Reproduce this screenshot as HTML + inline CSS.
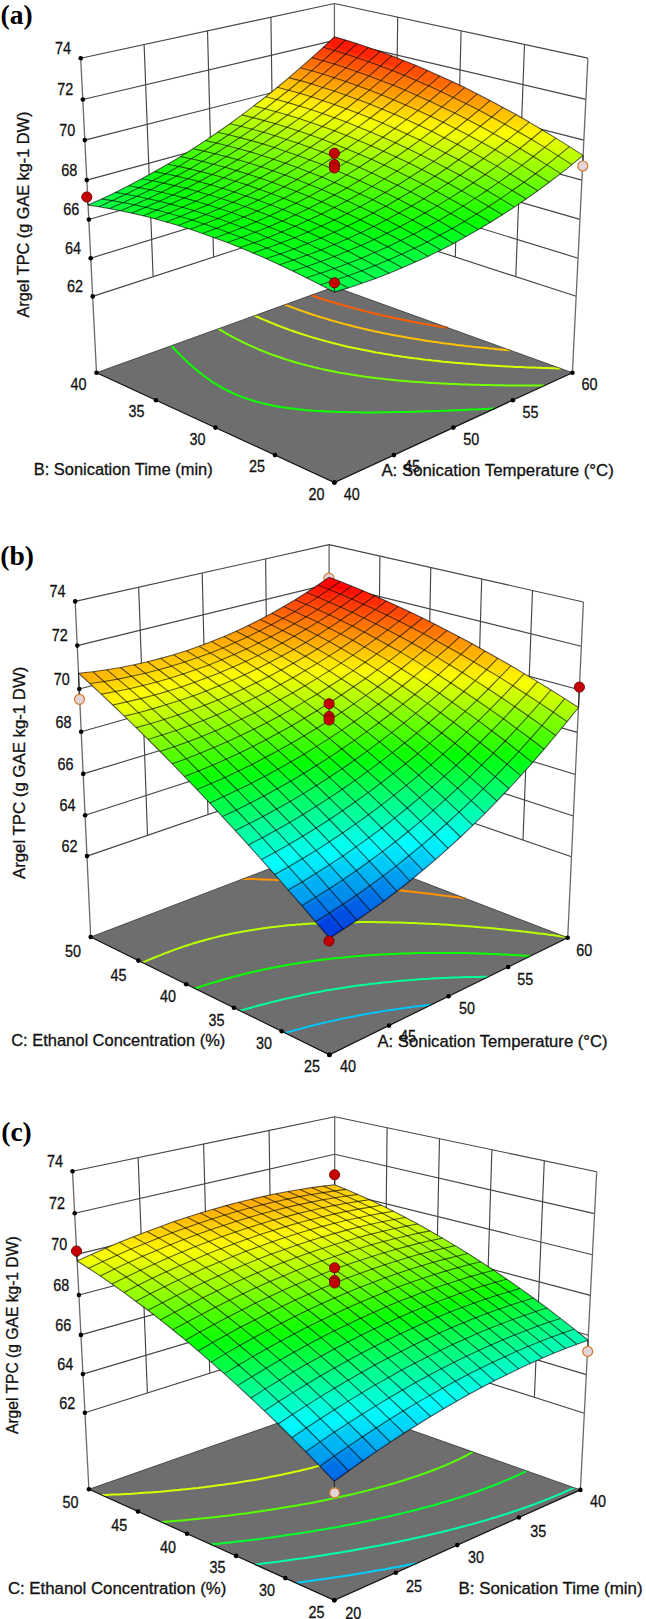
<!DOCTYPE html>
<html><head><meta charset="utf-8"><style>
html,body{margin:0;padding:0;background:#fff;}
svg{display:block;}
.w{fill:none;stroke:#454545;stroke-width:1.15;}
.ax{stroke:#6a6a6a;stroke-width:1.3;}
.floor{fill:#6e6e6e;stroke:none;}
.fe{fill:none;stroke:#111;stroke-width:1.2;}
.fb{fill:none;stroke:#333;stroke-width:0.8;}
.mesh polyline{fill:none;stroke:#000;stroke-opacity:0.62;stroke-width:1.1;stroke-linejoin:round;}
text{font-family:"Liberation Sans",sans-serif;fill:#111;}
.t{font-size:17px;stroke:#111;stroke-width:0.3px;}
.tt{font-size:16.3px;stroke:#111;stroke-width:0.3px;}
.ty{font-size:16px;stroke:#111;stroke-width:0.3px;}
.lab{font-family:"Liberation Serif",serif;font-weight:bold;font-size:27.6px;fill:#000;}
</style></head><body>
<svg width="646" height="1619" viewBox="0 0 646 1619">
<defs><filter id="sm" x="-5%" y="-5%" width="110%" height="110%"><feGaussianBlur stdDeviation="2.6"/></filter></defs>
<polyline points="92.7,296.4 334.5,217.7 576.2,296.3" class="w"/>
<polyline points="90.7,258.2 334.4,183.2 578.1,258.2" class="w"/>
<polyline points="88.8,219.5 334.4,148.3 580.0,219.4" class="w"/>
<polyline points="86.8,180.1 334.4,112.8 581.9,180.1" class="w"/>
<polyline points="84.8,140.1 334.4,76.9 583.9,140.1" class="w"/>
<polyline points="82.8,99.5 334.4,40.4 585.9,99.4" class="w"/>
<polyline points="80.7,58.2 334.4,3.5 587.9,58.1" class="w"/>
<line x1="144.1" y1="44.5" x2="153.1" y2="276.7" class="w"/>
<line x1="207.5" y1="30.8" x2="213.6" y2="257.0" class="w"/>
<line x1="270.9" y1="17.1" x2="274.0" y2="237.3" class="w"/>
<line x1="524.5" y1="44.5" x2="515.8" y2="276.7" class="w"/>
<line x1="461.1" y1="30.8" x2="455.3" y2="257.0" class="w"/>
<line x1="397.7" y1="17.1" x2="394.9" y2="237.3" class="w"/>
<line x1="80.7" y1="58.2" x2="96.5" y2="372.7" class="ax"/>
<line x1="334.4" y1="3.5" x2="334.5" y2="286.8" class="ax"/>
<line x1="587.9" y1="58.1" x2="572.4" y2="372.7" class="ax"/>
<polygon points="96.5,372.7 334.4,482.5 572.4,372.7 334.5,286.8" class="floor"/>
<polyline points="495.0,408.5 492.6,408.6 489.0,408.7 485.6,408.9 483.3,409.0 479.7,409.2 476.3,409.4 474.0,409.5 470.4,409.6 467.1,409.8 464.7,409.9 461.0,410.0 457.8,410.2 455.3,410.3 451.5,410.4 448.7,410.5 445.8,410.7 442.0,410.8 439.5,410.9 436.3,411.0 432.7,411.1 430.5,411.2 426.6,411.3 423.7,411.4 420.8,411.5 417.0,411.6 414.8,411.7 411.0,411.8 408.1,411.9 405.1,411.9 401.5,412.0 399.1,412.1 395.1,412.1 392.8,412.2 389.1,412.2 386.3,412.3 383.0,412.3 379.9,412.3 376.9,412.4 373.5,412.4 370.6,412.4 367.2,412.4 364.3,412.4 361.0,412.4 358.0,412.3 354.9,412.3 351.5,412.2 348.8,412.2 344.9,412.1 342.7,412.1 338.9,412.0 335.9,411.8 333.2,411.7 329.3,411.6 326.7,411.5 323.7,411.3 320.0,411.1 317.0,410.9 314.5,410.7 311.1,410.5 307.6,410.2 304.2,409.9 301.6,409.6 298.8,409.4 295.8,409.0 292.6,408.6 289.4,408.2 286.3,407.8 283.2,407.3 280.2,406.9 277.3,406.4 273.7,405.7 270.3,405.0 267.5,404.4 264.9,403.8 261.1,402.9 258.5,402.2 255.7,401.5 252.5,400.5 249.0,399.4 246.8,398.6 243.5,397.5 240.4,396.3 237.3,395.1 234.4,393.8 231.5,392.5 228.7,391.2 226.1,389.8 223.5,388.5 221.5,387.4 219.3,386.1 216.9,384.7 215.4,383.7 213.1,382.3 211.5,381.2 209.4,379.8 208.0,378.8 205.9,377.3 204.5,376.3 202.5,374.8 201.2,373.8 199.7,372.6 198.0,371.2 196.8,370.2 195.2,368.9 193.7,367.6 192.5,366.6 191.3,365.5 189.6,364.0 188.5,363.0 187.3,361.9 186.0,360.6 184.6,359.3 183.5,358.3 182.4,357.2 181.3,356.1 179.8,354.6 178.8,353.5 177.7,352.5 176.7,351.5 175.6,350.3 174.3,348.9 173.3,347.8 172.3,346.8 171.3,345.7 171.3,345.7" fill="none" stroke="#10ff00" stroke-width="2"/>
<polyline points="544.8,385.5 541.1,385.5 538.6,385.5 535.0,385.5 532.6,385.5 528.9,385.5 526.5,385.5 522.8,385.5 520.5,385.5 516.7,385.5 514.5,385.4 510.5,385.4 508.4,385.4 504.6,385.4 502.1,385.3 498.7,385.3 495.8,385.2 492.8,385.2 489.4,385.1 487.0,385.1 483.2,385.0 480.9,384.9 477.4,384.8 474.3,384.8 471.7,384.7 467.9,384.6 465.5,384.5 462.3,384.4 458.9,384.2 456.6,384.1 453.0,384.0 449.8,383.9 447.5,383.8 443.9,383.6 440.6,383.4 438.2,383.3 434.9,383.1 431.3,382.9 428.8,382.7 426.0,382.6 422.5,382.3 419.1,382.1 416.6,381.9 413.9,381.7 410.5,381.5 407.1,381.2 404.0,380.9 401.4,380.7 398.8,380.5 395.5,380.2 392.2,379.8 389.0,379.5 385.8,379.2 382.6,378.8 379.8,378.5 377.0,378.2 374.1,377.8 371.1,377.4 368.2,377.1 365.2,376.7 362.1,376.2 359.0,375.8 355.8,375.3 352.5,374.8 349.5,374.3 346.7,373.8 343.9,373.3 341.1,372.9 338.3,372.4 335.0,371.7 331.6,371.1 328.9,370.5 326.3,370.0 322.9,369.3 319.9,368.6 317.4,368.0 313.8,367.2 311.2,366.5 308.8,365.9 305.2,365.0 302.8,364.4 299.4,363.4 297.1,362.8 293.7,361.8 290.4,360.8 288.2,360.1 285.0,359.1 281.8,358.0 279.7,357.3 276.6,356.3 273.6,355.2 270.6,354.1 267.7,353.0 264.8,351.8 262.0,350.7 259.2,349.6 256.5,348.4 253.8,347.2 251.2,346.1 248.6,344.9 246.0,343.7 243.5,342.5 241.8,341.7 239.4,340.4 237.0,339.2 235.3,338.4 233.1,337.2 230.7,335.9 229.2,335.1 227.0,333.8 224.8,332.6 223.3,331.7 221.1,330.5 219.7,329.6 218.3,328.8" fill="none" stroke="#74ff00" stroke-width="2"/>
<polyline points="560.7,368.5 558.0,368.4 554.3,368.3 552.1,368.2 548.7,368.1 545.6,368.0 543.2,368.0 539.5,367.8 536.9,367.7 534.0,367.6 530.3,367.5 528.1,367.4 524.9,367.3 521.3,367.1 519.1,367.0 515.9,366.9 512.4,366.7 510.0,366.6 507.1,366.4 503.5,366.2 500.7,366.1 498.3,365.9 494.8,365.7 491.4,365.5 488.9,365.4 486.2,365.2 482.8,365.0 479.4,364.7 476.8,364.5 474.3,364.3 471.0,364.1 467.7,363.8 464.4,363.6 461.9,363.3 459.3,363.1 456.2,362.9 452.9,362.6 449.7,362.3 446.5,361.9 443.6,361.7 440.9,361.4 438.2,361.1 435.5,360.8 432.3,360.5 429.3,360.1 426.2,359.8 423.1,359.4 420.1,359.0 417.1,358.6 414.1,358.3 411.2,357.9 408.2,357.5 405.3,357.1 402.4,356.7 399.5,356.2 396.7,355.8 393.9,355.4 390.6,354.8 387.2,354.3 384.1,353.8 381.4,353.3 378.7,352.8 376.0,352.4 373.0,351.8 369.3,351.1 366.7,350.6 364.1,350.1 361.4,349.6 357.8,348.8 355.2,348.3 352.7,347.7 349.0,346.9 346.6,346.4 343.7,345.7 340.6,345.0 338.2,344.4 334.7,343.5 332.4,342.9 328.9,342.0 326.7,341.4 323.3,340.5 321.1,339.9 317.8,338.9 314.5,338.0 312.4,337.4 309.2,336.4 306.1,335.4 304.0,334.8 300.9,333.8 297.9,332.8 294.9,331.8 292.9,331.0 290.1,330.1 287.2,329.0 284.3,328.0 281.5,326.9 278.8,325.9 276.0,324.8 273.4,323.7 270.7,322.6 268.1,321.5 265.5,320.4 262.9,319.3 261.2,318.6 258.7,317.5 256.3,316.4 254.7,315.6" fill="none" stroke="#d8ff00" stroke-width="2"/>
<polyline points="510.1,350.2 507.6,350.0 504.4,349.7 501.1,349.4 497.9,349.2 494.8,348.9 492.2,348.6 489.6,348.4 486.8,348.1 483.7,347.8 480.6,347.5 477.5,347.2 474.4,346.9 471.3,346.5 468.3,346.2 465.3,345.9 462.5,345.5 459.7,345.2 456.8,344.9 453.9,344.5 451.0,344.1 448.1,343.7 445.1,343.4 442.1,343.0 439.0,342.5 435.9,342.1 433.1,341.7 430.3,341.3 427.5,340.9 424.7,340.4 421.9,340.0 419.2,339.6 416.4,339.1 413.1,338.6 409.7,338.0 407.0,337.6 404.4,337.1 401.8,336.6 398.8,336.1 395.3,335.4 392.7,334.9 390.1,334.4 387.1,333.8 383.8,333.2 381.4,332.7 378.8,332.1 375.2,331.4 372.8,330.8 369.8,330.2 366.8,329.5 364.5,329.0 360.9,328.1 358.6,327.6 355.2,326.7 352.9,326.2 349.5,325.3 347.3,324.7 344.0,323.9 341.8,323.3 338.5,322.4 336.2,321.7 333.2,320.9 330.0,320.0 327.9,319.3 324.8,318.4 321.7,317.5 319.1,316.7 316.7,315.9 313.7,315.0 310.8,314.0 307.9,313.0 305.8,312.3 303.1,311.4 300.3,310.4 297.5,309.4 294.8,308.4 292.0,307.4 289.4,306.4 286.7,305.4 284.9,304.7" fill="none" stroke="#ffc200" stroke-width="2"/>
<polyline points="447.9,327.7 444.6,327.2 441.4,326.7 438.8,326.3 436.1,325.9 433.5,325.4 430.8,325.0 427.3,324.4 424.3,323.8 421.7,323.4 419.2,322.9 416.2,322.4 412.8,321.7 410.3,321.3 407.9,320.8 404.3,320.1 401.7,319.5 399.3,319.0 395.8,318.3 393.2,317.8 390.9,317.3 387.3,316.5 385.0,316.0 381.9,315.3 379.2,314.6 376.8,314.1 373.5,313.3 371.2,312.7 367.9,311.9 365.7,311.4 362.4,310.5 359.9,309.9 357.0,309.1 353.7,308.3 351.6,307.7 348.5,306.8 346.0,306.1 343.3,305.3 340.2,304.4 337.6,303.7 335.2,303.0 332.2,302.0 329.2,301.1 327.0,300.5 324.4,299.6 321.5,298.7 318.6,297.7 315.8,296.8 313.0,295.9 311.2,295.2" fill="none" stroke="#ff5e00" stroke-width="2"/>
<polyline points="96.5,372.7 334.4,482.5 572.4,372.7" class="fe"/>
<polyline points="96.5,372.7 334.5,286.8 572.4,372.7" class="fb"/>
<circle cx="92.7" cy="296.4" r="2.3"/>
<circle cx="90.7" cy="258.2" r="2.3"/>
<circle cx="88.8" cy="219.5" r="2.3"/>
<circle cx="86.8" cy="180.1" r="2.3"/>
<circle cx="84.8" cy="140.1" r="2.3"/>
<circle cx="82.8" cy="99.5" r="2.3"/>
<circle cx="80.7" cy="58.2" r="2.3"/>
<circle cx="96.5" cy="372.7" r="2.3"/>
<circle cx="156.0" cy="400.2" r="2.3"/>
<circle cx="215.4" cy="427.6" r="2.3"/>
<circle cx="274.9" cy="455.1" r="2.3"/>
<circle cx="334.4" cy="482.5" r="2.3"/>
<circle cx="334.4" cy="482.5" r="2.3"/>
<circle cx="393.9" cy="455.1" r="2.3"/>
<circle cx="453.4" cy="427.6" r="2.3"/>
<circle cx="512.9" cy="400.2" r="2.3"/>
<circle cx="572.4" cy="372.7" r="2.3"/>
<line x1="582.8" y1="166.0" x2="583.1" y2="155.4" stroke="#222" stroke-width="1"/>
<circle cx="582.8" cy="166.0" r="5.0" fill="#e4d4da" stroke="#d2782a" stroke-width="1.2"/>
<clipPath id="clipa"><polygon points="334.3,292.1 348.3,287.9 362.1,283.3 375.7,278.4 389.1,273.3 402.3,267.8 415.4,262.1 428.3,256.2 441.0,249.9 453.6,243.4 466.0,236.6 478.3,229.6 490.5,222.3 502.5,214.8 514.4,207.1 526.1,199.0 537.7,190.8 549.2,182.3 560.7,173.6 571.9,164.6 583.1,155.4 569.4,146.6 555.9,138.1 542.4,130.0 529.2,122.1 516.0,114.6 503.0,107.4 490.1,100.5 477.3,93.9 464.7,87.6 452.2,81.6 439.8,75.9 427.6,70.4 415.5,65.3 403.5,60.4 391.7,55.8 380.0,51.5 368.4,47.4 356.9,43.6 345.6,40.1 334.4,36.8 323.2,47.3 311.9,57.6 300.5,67.7 289.0,77.6 277.4,87.2 265.7,96.7 253.9,105.9 241.9,114.9 229.9,123.7 217.7,132.3 205.4,140.6 193.0,148.7 180.4,156.6 167.7,164.2 154.8,171.6 141.8,178.8 128.6,185.7 115.3,192.4 101.7,198.9 88.1,205.1 98.8,206.7 109.7,208.6 120.7,210.7 131.9,213.1 143.2,215.8 154.7,218.8 166.4,222.0 178.3,225.5 190.3,229.3 202.5,233.4 214.9,237.9 227.4,242.6 240.1,247.6 253.0,253.0 266.1,258.6 279.4,264.7 292.8,271.0 306.4,277.7 320.3,284.7"/></clipPath>
<g clip-path="url(#clipa)"><g filter="url(#sm)">
<polygon points="334.4,36.8 345.5,26.0 334.4,22.9 323.3,33.7" fill="#ff0000"/>
<polygon points="323.2,47.3 334.4,36.8 323.3,33.7 312.1,44.3" fill="#ff1100"/>
<polygon points="345.6,40.1 356.7,29.4 345.5,26.0 334.4,36.8" fill="#ff0000"/>
<polygon points="311.9,57.6 323.2,47.3 312.1,44.3 300.8,54.7" fill="#ff3f00"/>
<polygon points="334.4,50.5 345.6,40.1 334.4,36.8 323.2,47.3" fill="#ff1400"/>
<polygon points="356.9,43.6 368.1,33.0 356.7,29.4 345.6,40.1" fill="#ff0000"/>
<polygon points="300.5,67.7 311.9,57.6 300.8,54.7 289.5,64.9" fill="#ff6c00"/>
<polygon points="323.1,60.7 334.4,50.5 323.2,47.3 311.9,57.6" fill="#ff4200"/>
<polygon points="345.7,54.0 356.9,43.6 345.6,40.1 334.4,50.5" fill="#ff1800"/>
<polygon points="368.4,47.4 379.5,36.9 368.1,33.0 356.9,43.6" fill="#ff0000"/>
<polygon points="289.0,77.6 300.5,67.7 289.5,64.9 278.0,74.8" fill="#ff9700"/>
<polygon points="311.7,70.8 323.1,60.7 311.9,57.6 300.5,67.7" fill="#ff6d00"/>
<polygon points="334.4,64.1 345.7,54.0 334.4,50.5 323.1,60.7" fill="#ff4500"/>
<polygon points="357.1,57.7 368.4,47.4 356.9,43.6 345.7,54.0" fill="#ff1e00"/>
<polygon points="277.4,87.2 289.0,77.6 278.0,74.8 266.4,84.6" fill="#ffc000"/>
<polygon points="380.0,51.5 391.1,41.0 379.5,36.9 368.4,47.4" fill="#ff0000"/>
<polygon points="300.2,80.6 311.7,70.8 300.5,67.7 289.0,77.6" fill="#ff9800"/>
<polygon points="322.9,74.1 334.4,64.1 323.1,60.7 311.7,70.8" fill="#ff7000"/>
<polygon points="345.8,67.8 357.1,57.7 345.7,54.0 334.4,64.1" fill="#ff4a00"/>
<polygon points="265.7,96.7 277.4,87.2 266.4,84.6 254.7,94.1" fill="#ffe800"/>
<polygon points="368.7,61.7 380.0,51.5 368.4,47.4 357.1,57.7" fill="#ff2400"/>
<polygon points="288.5,90.2 300.2,80.6 289.0,77.6 277.4,87.2" fill="#ffc000"/>
<polygon points="391.7,55.8 402.8,45.4 391.1,41.0 380.0,51.5" fill="#ff0000"/>
<polygon points="311.4,83.8 322.9,74.1 311.7,70.8 300.2,80.6" fill="#ff9900"/>
<polygon points="334.4,77.7 345.8,67.8 334.4,64.1 322.9,74.1" fill="#ff7400"/>
<polygon points="253.9,105.9 265.7,96.7 254.7,94.1 242.9,103.4" fill="#f1ff00"/>
<polygon points="357.4,71.7 368.7,61.7 357.1,57.7 345.8,67.8" fill="#ff5000"/>
<polygon points="276.8,99.5 288.5,90.2 277.4,87.2 265.7,96.7" fill="#ffe600"/>
<polygon points="380.4,66.0 391.7,55.8 380.0,51.5 368.7,61.7" fill="#ff2d00"/>
<polygon points="299.8,93.3 311.4,83.8 300.2,80.6 288.5,90.2" fill="#ffc100"/>
<polygon points="403.5,60.4 414.7,50.1 402.8,45.4 391.7,55.8" fill="#ff0b00"/>
<polygon points="322.8,87.4 334.4,77.7 322.9,74.1 311.4,83.8" fill="#ff9c00"/>
<polygon points="241.9,114.9 253.9,105.9 242.9,103.4 231.0,112.5" fill="#cdff00"/>
<polygon points="345.9,81.5 357.4,71.7 345.8,67.8 334.4,77.7" fill="#ff7900"/>
<polygon points="265.0,108.7 276.8,99.5 265.7,96.7 253.9,105.9" fill="#f3ff00"/>
<polygon points="369.1,75.9 380.4,66.0 368.7,61.7 357.4,71.7" fill="#ff5700"/>
<polygon points="288.0,102.6 299.8,93.3 288.5,90.2 276.8,99.5" fill="#ffe600"/>
<polygon points="392.3,70.5 403.5,60.4 391.7,55.8 380.4,66.0" fill="#ff3600"/>
<polygon points="415.5,65.3 426.7,55.0 414.7,50.1 403.5,60.4" fill="#ff1600"/>
<polygon points="311.2,96.8 322.8,87.4 311.4,83.8 299.8,93.3" fill="#ffc300"/>
<polygon points="229.9,123.7 241.9,114.9 231.0,112.5 219.0,121.3" fill="#abff00"/>
<polygon points="334.4,91.1 345.9,81.5 334.4,77.7 322.8,87.4" fill="#ffa100"/>
<polygon points="253.0,117.6 265.0,108.7 253.9,105.9 241.9,114.9" fill="#d0ff00"/>
<polygon points="357.6,85.7 369.1,75.9 357.4,71.7 345.9,81.5" fill="#ff7f00"/>
<polygon points="380.9,80.4 392.3,70.5 380.4,66.0 369.1,75.9" fill="#ff5f00"/>
<polygon points="276.2,111.7 288.0,102.6 276.8,99.5 265.0,108.7" fill="#f4ff00"/>
<polygon points="404.2,75.3 415.5,65.3 403.5,60.4 392.3,70.5" fill="#ff4100"/>
<polygon points="299.4,106.0 311.2,96.8 299.8,93.3 288.0,102.6" fill="#ffe800"/>
<polygon points="427.6,70.4 438.8,60.2 426.7,55.0 415.5,65.3" fill="#ff2300"/>
<polygon points="322.7,100.5 334.4,91.1 322.8,87.4 311.2,96.8" fill="#ffc600"/>
<polygon points="217.7,132.3 229.9,123.7 219.0,121.3 206.8,130.0" fill="#8bff00"/>
<polygon points="346.0,95.2 357.6,85.7 345.9,81.5 334.4,91.1" fill="#ffa600"/>
<polygon points="240.9,126.3 253.0,117.6 241.9,114.9 229.9,123.7" fill="#afff00"/>
<polygon points="369.4,90.1 380.9,80.4 369.1,75.9 357.6,85.7" fill="#ff8700"/>
<polygon points="264.2,120.6 276.2,111.7 265.0,108.7 253.0,117.6" fill="#d2ff00"/>
<polygon points="392.9,85.1 404.2,75.3 392.3,70.5 380.9,80.4" fill="#ff6900"/>
<polygon points="287.5,115.0 299.4,106.0 288.0,102.6 276.2,111.7" fill="#f3ff00"/>
<polygon points="416.3,80.4 427.6,70.4 415.5,65.3 404.2,75.3" fill="#ff4d00"/>
<polygon points="310.9,109.6 322.7,100.5 311.2,96.8 299.4,106.0" fill="#ffea00"/>
<polygon points="205.4,140.6 217.7,132.3 206.8,130.0 194.6,138.4" fill="#6cff00"/>
<polygon points="439.8,75.9 451.0,65.7 438.8,60.2 427.6,70.4" fill="#ff3100"/>
<polygon points="334.4,104.5 346.0,95.2 334.4,91.1 322.7,100.5" fill="#ffcb00"/>
<polygon points="228.7,134.8 240.9,126.3 229.9,123.7 217.7,132.3" fill="#8fff00"/>
<polygon points="357.8,99.5 369.4,90.1 357.6,85.7 346.0,95.2" fill="#ffad00"/>
<polygon points="252.1,129.2 264.2,120.6 253.0,117.6 240.9,126.3" fill="#b1ff00"/>
<polygon points="381.4,94.7 392.9,85.1 380.9,80.4 369.4,90.1" fill="#ff9000"/>
<polygon points="275.5,123.8 287.5,115.0 276.2,111.7 264.2,120.6" fill="#d2ff00"/>
<polygon points="404.9,90.1 416.3,80.4 404.2,75.3 392.9,85.1" fill="#ff7400"/>
<polygon points="299.0,118.6 310.9,109.6 299.4,106.0 287.5,115.0" fill="#f1ff00"/>
<polygon points="428.6,85.8 439.8,75.9 427.6,70.4 416.3,80.4" fill="#ff5a00"/>
<polygon points="193.0,148.7 205.4,140.6 194.6,138.4 182.1,146.6" fill="#50ff00"/>
<polygon points="322.6,113.5 334.4,104.5 322.7,100.5 310.9,109.6" fill="#ffee00"/>
<polygon points="452.2,81.6 463.4,71.5 451.0,65.7 439.8,75.9" fill="#ff4100"/>
<polygon points="216.4,143.0 228.7,134.8 217.7,132.3 205.4,140.6" fill="#72ff00"/>
<polygon points="346.2,108.7 357.8,99.5 346.0,95.2 334.4,104.5" fill="#ffd100"/>
<polygon points="239.9,137.6 252.1,129.2 240.9,126.3 228.7,134.8" fill="#93ff00"/>
<polygon points="369.8,104.1 381.4,94.7 369.4,90.1 357.8,99.5" fill="#ffb500"/>
<polygon points="263.4,132.3 275.5,123.8 264.2,120.6 252.1,129.2" fill="#b3ff00"/>
<polygon points="393.5,99.7 404.9,90.1 392.9,85.1 381.4,94.7" fill="#ff9a00"/>
<polygon points="417.2,95.4 428.6,85.8 416.3,80.4 404.9,90.1" fill="#ff8100"/>
<polygon points="287.0,127.2 299.0,118.6 287.5,115.0 275.5,123.8" fill="#d1ff00"/>
<polygon points="180.4,156.6 193.0,148.7 182.1,146.6 169.6,154.5" fill="#35ff00"/>
<polygon points="440.9,91.4 452.2,81.6 439.8,75.9 428.6,85.8" fill="#ff6800"/>
<polygon points="310.7,122.4 322.6,113.5 310.9,109.6 299.0,118.6" fill="#eeff00"/>
<polygon points="464.7,87.6 475.9,77.6 463.4,71.5 452.2,81.6" fill="#ff5100"/>
<polygon points="203.9,151.1 216.4,143.0 205.4,140.6 193.0,148.7" fill="#56ff00"/>
<polygon points="334.4,117.7 346.2,108.7 334.4,104.5 322.6,113.5" fill="#fff300"/>
<polygon points="227.5,145.7 239.9,137.6 228.7,134.8 216.4,143.0" fill="#76ff00"/>
<polygon points="358.1,113.2 369.8,104.1 357.8,99.5 346.2,108.7" fill="#ffd800"/>
<polygon points="381.9,109.0 393.5,99.7 381.4,94.7 369.8,104.1" fill="#ffbf00"/>
<polygon points="251.2,140.6 263.4,132.3 252.1,129.2 239.9,137.6" fill="#95ff00"/>
<polygon points="405.7,104.9 417.2,95.4 404.9,90.1 393.5,99.7" fill="#ffa600"/>
<polygon points="274.9,135.7 287.0,127.2 275.5,123.8 263.4,132.3" fill="#b3ff00"/>
<polygon points="429.5,101.0 440.9,91.4 428.6,85.8 417.2,95.4" fill="#ff8e00"/>
<polygon points="167.7,164.2 180.4,156.6 169.6,154.5 156.9,162.3" fill="#1cff00"/>
<polygon points="298.6,131.0 310.7,122.4 299.0,118.6 287.0,127.2" fill="#cfff00"/>
<polygon points="453.4,97.4 464.7,87.6 452.2,81.6 440.9,91.4" fill="#ff7800"/>
<polygon points="191.3,158.8 203.9,151.1 193.0,148.7 180.4,156.6" fill="#3cff00"/>
<polygon points="322.4,126.5 334.4,117.7 322.6,113.5 310.7,122.4" fill="#eaff00"/>
<polygon points="477.3,93.9 488.5,84.0 475.9,77.6 464.7,87.6" fill="#ff6300"/>
<polygon points="346.3,122.1 358.1,113.2 346.2,108.7 334.4,117.7" fill="#fffa00"/>
<polygon points="215.0,153.7 227.5,145.7 216.4,143.0 203.9,151.1" fill="#5bff00"/>
<polygon points="370.2,118.0 381.9,109.0 369.8,104.1 358.1,113.2" fill="#ffe100"/>
<polygon points="238.8,148.7 251.2,140.6 239.9,137.6 227.5,145.7" fill="#79ff00"/>
<polygon points="394.1,114.1 405.7,104.9 393.5,99.7 381.9,109.0" fill="#ffc900"/>
<polygon points="262.6,143.9 274.9,135.7 263.4,132.3 251.2,140.6" fill="#96ff00"/>
<polygon points="418.0,110.4 429.5,101.0 417.2,95.4 405.7,104.9" fill="#ffb300"/>
<polygon points="286.5,139.4 298.6,131.0 287.0,127.2 274.9,135.7" fill="#b1ff00"/>
<polygon points="154.8,171.6 167.7,164.2 156.9,162.3 144.1,169.8" fill="#05ff00"/>
<polygon points="442.0,106.9 453.4,97.4 440.9,91.4 429.5,101.0" fill="#ff9d00"/>
<polygon points="466.0,103.6 477.3,93.9 464.7,87.6 453.4,97.4" fill="#ff8900"/>
<polygon points="310.4,135.0 322.4,126.5 310.7,122.4 298.6,131.0" fill="#cbff00"/>
<polygon points="178.6,166.4 191.3,158.8 180.4,156.6 167.7,164.2" fill="#24ff00"/>
<polygon points="490.1,100.5 501.3,90.6 488.5,84.0 477.3,93.9" fill="#ff7600"/>
<polygon points="334.4,130.8 346.3,122.1 334.4,117.7 322.4,126.5" fill="#e5ff00"/>
<polygon points="202.4,161.4 215.0,153.7 203.9,151.1 191.3,158.8" fill="#42ff00"/>
<polygon points="358.3,126.9 370.2,118.0 358.1,113.2 346.3,122.1" fill="#fcff00"/>
<polygon points="226.3,156.6 238.8,148.7 227.5,145.7 215.0,153.7" fill="#5fff00"/>
<polygon points="382.4,123.1 394.1,114.1 381.9,109.0 370.2,118.0" fill="#ffeb00"/>
<polygon points="250.2,151.9 262.6,143.9 251.2,140.6 238.8,148.7" fill="#7bff00"/>
<polygon points="406.4,119.6 418.0,110.4 405.7,104.9 394.1,114.1" fill="#ffd500"/>
<polygon points="430.5,116.2 442.0,106.9 429.5,101.0 418.0,110.4" fill="#ffc100"/>
<polygon points="274.2,147.5 286.5,139.4 274.9,135.7 262.6,143.9" fill="#95ff00"/>
<polygon points="141.8,178.8 154.8,171.6 144.1,169.8 131.1,177.0" fill="#00ff11"/>
<polygon points="454.7,113.1 466.0,103.6 453.4,97.4 442.0,106.9" fill="#ffae00"/>
<polygon points="298.2,143.3 310.4,135.0 298.6,131.0 286.5,139.4" fill="#afff00"/>
<polygon points="478.8,110.1 490.1,100.5 477.3,93.9 466.0,103.6" fill="#ff9c00"/>
<polygon points="165.7,173.7 178.6,166.4 167.7,164.2 154.8,171.6" fill="#0eff00"/>
<polygon points="503.0,107.4 514.1,97.6 501.3,90.6 490.1,100.5" fill="#ff8b00"/>
<polygon points="322.3,139.3 334.4,130.8 322.4,126.5 310.4,135.0" fill="#c7ff00"/>
<polygon points="189.6,168.9 202.4,161.4 191.3,158.8 178.6,166.4" fill="#2bff00"/>
<polygon points="346.4,135.5 358.3,126.9 346.3,122.1 334.4,130.8" fill="#deff00"/>
<polygon points="370.6,131.9 382.4,123.1 370.2,118.0 358.3,126.9" fill="#f3ff00"/>
<polygon points="213.6,164.2 226.3,156.6 215.0,153.7 202.4,161.4" fill="#47ff00"/>
<polygon points="394.7,128.5 406.4,119.6 394.1,114.1 382.4,123.1" fill="#fff600"/>
<polygon points="237.7,159.7 250.2,151.9 238.8,148.7 226.3,156.6" fill="#62ff00"/>
<polygon points="418.9,125.3 430.5,116.2 418.0,110.4 406.4,119.6" fill="#ffe300"/>
<polygon points="261.8,155.4 274.2,147.5 262.6,143.9 250.2,151.9" fill="#7bff00"/>
<polygon points="443.2,122.3 454.7,113.1 442.0,106.9 430.5,116.2" fill="#ffd000"/>
<polygon points="128.6,185.7 141.8,178.8 131.1,177.0 117.9,184.1" fill="#00ff24"/>
<polygon points="467.4,119.5 478.8,110.1 466.0,103.6 454.7,113.1" fill="#ffbf00"/>
<polygon points="285.9,151.4 298.2,143.3 286.5,139.4 274.2,147.5" fill="#93ff00"/>
<polygon points="491.7,117.0 503.0,107.4 490.1,100.5 478.8,110.1" fill="#ffaf00"/>
<polygon points="152.6,180.8 165.7,173.7 154.8,171.6 141.8,178.8" fill="#00ff07"/>
<polygon points="310.1,147.5 322.3,139.3 310.4,135.0 298.2,143.3" fill="#abff00"/>
<polygon points="516.0,114.6 527.2,104.9 514.1,97.6 503.0,107.4" fill="#ffa100"/>
<polygon points="334.4,143.9 346.4,135.5 334.4,130.8 322.3,139.3" fill="#c1ff00"/>
<polygon points="176.7,176.1 189.6,168.9 178.6,166.4 165.7,173.7" fill="#15ff00"/>
<polygon points="358.6,140.4 370.6,131.9 358.3,126.9 346.4,135.5" fill="#d6ff00"/>
<polygon points="200.8,171.6 213.6,164.2 202.4,161.4 189.6,168.9" fill="#30ff00"/>
<polygon points="382.9,137.2 394.7,128.5 382.4,123.1 370.6,131.9" fill="#e9ff00"/>
<polygon points="225.0,167.2 237.7,159.7 226.3,156.6 213.6,164.2" fill="#4aff00"/>
<polygon points="407.2,134.2 418.9,125.3 406.4,119.6 394.7,128.5" fill="#fcff00"/>
<polygon points="431.6,131.3 443.2,122.3 430.5,116.2 418.9,125.3" fill="#fff100"/>
<polygon points="249.2,163.1 261.8,155.4 250.2,151.9 237.7,159.7" fill="#63ff00"/>
<polygon points="455.9,128.7 467.4,119.5 454.7,113.1 443.2,122.3" fill="#ffe100"/>
<polygon points="115.3,192.4 128.6,185.7 117.9,184.1 104.6,190.8" fill="#00ff36"/>
<polygon points="273.5,159.2 285.9,151.4 274.2,147.5 261.8,155.4" fill="#7aff00"/>
<polygon points="480.3,126.3 491.7,117.0 478.8,110.1 467.4,119.5" fill="#ffd200"/>
<polygon points="504.7,124.1 516.0,114.6 503.0,107.4 491.7,117.0" fill="#ffc400"/>
<polygon points="297.8,155.5 310.1,147.5 298.2,143.3 285.9,151.4" fill="#90ff00"/>
<polygon points="139.4,187.6 152.6,180.8 141.8,178.8 128.6,185.7" fill="#00ff1a"/>
<polygon points="529.2,122.1 540.3,112.5 527.2,104.9 516.0,114.6" fill="#ffb800"/>
<polygon points="322.2,152.0 334.4,143.9 322.3,139.3 310.1,147.5" fill="#a5ff00"/>
<polygon points="163.6,183.1 176.7,176.1 165.7,173.7 152.6,180.8" fill="#02ff00"/>
<polygon points="346.5,148.7 358.6,140.4 346.4,135.5 334.4,143.9" fill="#b9ff00"/>
<polygon points="187.9,178.7 200.8,171.6 189.6,168.9 176.7,176.1" fill="#1cff00"/>
<polygon points="371.0,145.7 382.9,137.2 370.6,131.9 358.6,140.4" fill="#ccff00"/>
<polygon points="395.4,142.8 407.2,134.2 394.7,128.5 382.9,137.2" fill="#deff00"/>
<polygon points="212.2,174.5 225.0,167.2 213.6,164.2 200.8,171.6" fill="#35ff00"/>
<polygon points="419.9,140.1 431.6,131.3 418.9,125.3 407.2,134.2" fill="#eeff00"/>
<polygon points="236.5,170.6 249.2,163.1 237.7,159.7 225.0,167.2" fill="#4cff00"/>
<polygon points="444.3,137.7 455.9,128.7 443.2,122.3 431.6,131.3" fill="#fdff00"/>
<polygon points="468.9,135.4 480.3,126.3 467.4,119.5 455.9,128.7" fill="#fff300"/>
<polygon points="260.9,166.8 273.5,159.2 261.8,155.4 249.2,163.1" fill="#63ff00"/>
<polygon points="101.7,198.9 115.3,192.4 104.6,190.8 91.2,197.4" fill="#00ff46"/>
<polygon points="493.4,133.4 504.7,124.1 491.7,117.0 480.3,126.3" fill="#ffe600"/>
<polygon points="517.9,131.6 529.2,122.1 516.0,114.6 504.7,124.1" fill="#ffdb00"/>
<polygon points="285.4,163.3 297.8,155.5 285.9,151.4 273.5,159.2" fill="#78ff00"/>
<polygon points="542.4,130.0 553.6,120.4 540.3,112.5 529.2,122.1" fill="#ffd000"/>
<polygon points="126.0,194.2 139.4,187.6 128.6,185.7 115.3,192.4" fill="#00ff2b"/>
<polygon points="309.8,159.9 322.2,152.0 310.1,147.5 297.8,155.5" fill="#8cff00"/>
<polygon points="150.4,189.8 163.6,183.1 152.6,180.8 139.4,187.6" fill="#00ff10"/>
<polygon points="334.3,156.8 346.5,148.7 334.4,143.9 322.2,152.0" fill="#9fff00"/>
<polygon points="358.9,153.9 371.0,145.7 358.6,140.4 346.5,148.7" fill="#b1ff00"/>
<polygon points="174.8,185.6 187.9,178.7 176.7,176.1 163.6,183.1" fill="#09ff00"/>
<polygon points="383.4,151.2 395.4,142.8 382.9,137.2 371.0,145.7" fill="#c1ff00"/>
<polygon points="199.2,181.6 212.2,174.5 200.8,171.6 187.9,178.7" fill="#21ff00"/>
<polygon points="408.0,148.7 419.9,140.1 407.2,134.2 395.4,142.8" fill="#d1ff00"/>
<polygon points="432.6,146.4 444.3,137.7 431.6,131.3 419.9,140.1" fill="#dfff00"/>
<polygon points="223.7,177.8 236.5,170.6 225.0,167.2 212.2,174.5" fill="#37ff00"/>
<polygon points="457.3,144.3 468.9,135.4 455.9,128.7 444.3,137.7" fill="#ecff00"/>
<polygon points="481.9,142.4 493.4,133.4 480.3,126.3 468.9,135.4" fill="#f8ff00"/>
<polygon points="248.2,174.2 260.9,166.8 249.2,163.1 236.5,170.6" fill="#4dff00"/>
<polygon points="506.6,140.8 517.9,131.6 504.7,124.1 493.4,133.4" fill="#fffc00"/>
<polygon points="88.1,205.1 101.7,198.9 91.2,197.4 77.5,203.7" fill="#00ff54"/>
<polygon points="531.2,139.3 542.4,130.0 529.2,122.1 517.9,131.6" fill="#fff200"/>
<polygon points="272.8,170.8 285.4,163.3 273.5,159.2 260.9,166.8" fill="#61ff00"/>
<polygon points="555.9,138.1 567.0,128.6 553.6,120.4 542.4,130.0" fill="#ffea00"/>
<polygon points="112.5,200.6 126.0,194.2 115.3,192.4 101.7,198.9" fill="#00ff3a"/>
<polygon points="297.4,167.6 309.8,159.9 297.8,155.5 285.4,163.3" fill="#74ff00"/>
<polygon points="322.0,164.6 334.3,156.8 322.2,152.0 309.8,159.9" fill="#86ff00"/>
<polygon points="137.0,196.3 150.4,189.8 139.4,187.6 126.0,194.2" fill="#00ff20"/>
<polygon points="346.7,161.9 358.9,153.9 346.5,148.7 334.3,156.8" fill="#97ff00"/>
<polygon points="161.5,192.3 174.8,185.6 163.6,183.1 150.4,189.8" fill="#00ff08"/>
<polygon points="371.4,159.3 383.4,151.2 371.0,145.7 358.9,153.9" fill="#a7ff00"/>
<polygon points="396.1,157.0 408.0,148.7 395.4,142.8 383.4,151.2" fill="#b5ff00"/>
<polygon points="186.1,188.4 199.2,181.6 187.9,178.7 174.8,185.6" fill="#0fff00"/>
<polygon points="420.8,154.9 432.6,146.4 419.9,140.1 408.0,148.7" fill="#c3ff00"/>
<polygon points="445.6,153.0 457.3,144.3 444.3,137.7 432.6,146.4" fill="#cfff00"/>
<polygon points="210.7,184.7 223.7,177.8 212.2,174.5 199.2,181.6" fill="#24ff00"/>
<polygon points="470.3,151.3 481.9,142.4 468.9,135.4 457.3,144.3" fill="#daff00"/>
<polygon points="495.1,149.8 506.6,140.8 493.4,133.4 481.9,142.4" fill="#e3ff00"/>
<polygon points="235.4,181.3 248.2,174.2 236.5,170.6 223.7,177.8" fill="#39ff00"/>
<polygon points="519.9,148.5 531.2,139.3 517.9,131.6 506.6,140.8" fill="#ecff00"/>
<polygon points="544.7,147.4 555.9,138.1 542.4,130.0 531.2,139.3" fill="#f3ff00"/>
<polygon points="74.2,211.0 88.1,205.1 77.5,203.7 63.7,209.8" fill="#00ff61"/>
<polygon points="260.1,178.1 272.8,170.8 260.9,166.8 248.2,174.2" fill="#4cff00"/>
<polygon points="569.4,146.6 580.5,137.1 567.0,128.6 555.9,138.1" fill="#f9ff00"/>
<polygon points="284.8,175.0 297.4,167.6 285.4,163.3 272.8,170.8" fill="#5fff00"/>
<polygon points="98.8,206.7 112.5,200.6 101.7,198.9 88.1,205.1" fill="#00ff47"/>
<polygon points="309.5,172.2 322.0,164.6 309.8,159.9 297.4,167.6" fill="#70ff00"/>
<polygon points="123.4,202.6 137.0,196.3 126.0,194.2 112.5,200.6" fill="#00ff2f"/>
<polygon points="334.3,169.6 346.7,161.9 334.3,156.8 322.0,164.6" fill="#80ff00"/>
<polygon points="359.2,167.2 371.4,159.3 358.9,153.9 346.7,161.9" fill="#8eff00"/>
<polygon points="148.1,198.7 161.5,192.3 150.4,189.8 137.0,196.3" fill="#00ff18"/>
<polygon points="384.0,165.1 396.1,157.0 383.4,151.2 371.4,159.3" fill="#9cff00"/>
<polygon points="408.9,163.1 420.8,154.9 408.0,148.7 396.1,157.0" fill="#a8ff00"/>
<polygon points="172.8,195.0 186.1,188.4 174.8,185.6 161.5,192.3" fill="#00ff02"/>
<polygon points="433.7,161.4 445.6,153.0 432.6,146.4 420.8,154.9" fill="#b3ff00"/>
<polygon points="458.6,159.8 470.3,151.3 457.3,144.3 445.6,153.0" fill="#bdff00"/>
<polygon points="197.5,191.5 210.7,184.7 199.2,181.6 186.1,188.4" fill="#13ff00"/>
<polygon points="483.5,158.5 495.1,149.8 481.9,142.4 470.3,151.3" fill="#c6ff00"/>
<polygon points="508.4,157.4 519.9,148.5 506.6,140.8 495.1,149.8" fill="#cdff00"/>
<polygon points="222.3,188.2 235.4,181.3 223.7,177.8 210.7,184.7" fill="#27ff00"/>
<polygon points="533.3,156.5 544.7,147.4 531.2,139.3 519.9,148.5" fill="#d4ff00"/>
<polygon points="558.2,155.9 569.4,146.6 555.9,138.1 544.7,147.4" fill="#d9ff00"/>
<polygon points="583.1,155.4 594.2,146.0 580.5,137.1 569.4,146.6" fill="#ddff00"/>
<polygon points="247.2,185.1 260.1,178.1 248.2,174.2 235.4,181.3" fill="#39ff00"/>
<polygon points="272.0,182.2 284.8,175.0 272.8,170.8 260.1,178.1" fill="#4bff00"/>
<polygon points="84.9,212.5 98.8,206.7 88.1,205.1 74.2,211.0" fill="#00ff53"/>
<polygon points="296.9,179.6 309.5,172.2 297.4,167.6 284.8,175.0" fill="#5bff00"/>
<polygon points="321.9,177.1 334.3,169.6 322.0,164.6 309.5,172.2" fill="#6aff00"/>
<polygon points="109.7,208.6 123.4,202.6 112.5,200.6 98.8,206.7" fill="#00ff3b"/>
<polygon points="346.8,174.9 359.2,167.2 346.7,161.9 334.3,169.6" fill="#77ff00"/>
<polygon points="371.8,172.9 384.0,165.1 371.4,159.3 359.2,167.2" fill="#84ff00"/>
<polygon points="134.5,204.8 148.1,198.7 137.0,196.3 123.4,202.6" fill="#00ff25"/>
<polygon points="396.8,171.1 408.9,163.1 396.1,157.0 384.0,165.1" fill="#8fff00"/>
<polygon points="421.8,169.5 433.7,161.4 420.8,154.9 408.9,163.1" fill="#99ff00"/>
<polygon points="159.3,201.3 172.8,195.0 161.5,192.3 148.1,198.7" fill="#00ff10"/>
<polygon points="446.8,168.2 458.6,159.8 445.6,153.0 433.7,161.4" fill="#a2ff00"/>
<polygon points="471.8,167.0 483.5,158.5 470.3,151.3 458.6,159.8" fill="#aaff00"/>
<polygon points="184.2,197.9 197.5,191.5 186.1,188.4 172.8,195.0" fill="#04ff00"/>
<polygon points="496.9,166.1 508.4,157.4 495.1,149.8 483.5,158.5" fill="#b1ff00"/>
<polygon points="521.9,165.4 533.3,156.5 519.9,148.5 508.4,157.4" fill="#b6ff00"/>
<polygon points="546.9,164.9 558.2,155.9 544.7,147.4 533.3,156.5" fill="#bbff00"/>
<polygon points="571.9,164.6 583.1,155.4 569.4,146.6 558.2,155.9" fill="#beff00"/>
<polygon points="597.0,164.5 608.0,155.2 594.2,146.0 583.1,155.4" fill="#bfff00"/>
<polygon points="209.2,194.8 222.3,188.2 210.7,184.7 197.5,191.5" fill="#17ff00"/>
<polygon points="234.1,191.9 247.2,185.1 235.4,181.3 222.3,188.2" fill="#28ff00"/>
<polygon points="259.1,189.2 272.0,182.2 260.1,178.1 247.2,185.1" fill="#38ff00"/>
<polygon points="284.2,186.7 296.9,179.6 284.8,175.0 272.0,182.2" fill="#48ff00"/>
<polygon points="309.2,184.4 321.9,177.1 309.5,172.2 296.9,179.6" fill="#56ff00"/>
<polygon points="334.3,182.4 346.8,174.9 334.3,169.6 321.9,177.1" fill="#62ff00"/>
<polygon points="95.7,214.3 109.7,208.6 98.8,206.7 84.9,212.5" fill="#00ff46"/>
<polygon points="359.4,180.5 371.8,172.9 359.2,167.2 346.8,174.9" fill="#6eff00"/>
<polygon points="384.6,178.9 396.8,171.1 384.0,165.1 371.8,172.9" fill="#78ff00"/>
<polygon points="120.7,210.7 134.5,204.8 123.4,202.6 109.7,208.6" fill="#00ff31"/>
<polygon points="409.7,177.5 421.8,169.5 408.9,163.1 396.8,171.1" fill="#82ff00"/>
<polygon points="434.9,176.3 446.8,168.2 433.7,161.4 421.8,169.5" fill="#8aff00"/>
<polygon points="145.7,207.3 159.3,201.3 148.1,198.7 134.5,204.8" fill="#00ff1d"/>
<polygon points="460.0,175.3 471.8,167.0 458.6,159.8 446.8,168.2" fill="#90ff00"/>
<polygon points="485.2,174.5 496.9,166.1 483.5,158.5 471.8,167.0" fill="#96ff00"/>
<polygon points="510.3,174.0 521.9,165.4 508.4,157.4 496.9,166.1" fill="#9bff00"/>
<polygon points="535.5,173.7 546.9,164.9 533.3,156.5 521.9,165.4" fill="#9eff00"/>
<polygon points="560.7,173.6 571.9,164.6 558.2,155.9 546.9,164.9" fill="#a0ff00"/>
<polygon points="585.8,173.7 597.0,164.5 583.1,155.4 571.9,164.6" fill="#a1ff00"/>
<polygon points="170.7,204.1 184.2,197.9 172.8,195.0 159.3,201.3" fill="#00ff0a"/>
<polygon points="195.8,201.2 209.2,194.8 197.5,191.5 184.2,197.9" fill="#08ff00"/>
<polygon points="220.9,198.4 234.1,191.9 222.3,188.2 209.2,194.8" fill="#19ff00"/>
<polygon points="246.1,195.9 259.1,189.2 247.2,185.1 234.1,191.9" fill="#28ff00"/>
<polygon points="271.3,193.6 284.2,186.7 272.0,182.2 259.1,189.2" fill="#36ff00"/>
<polygon points="296.5,191.4 309.2,184.4 296.9,179.6 284.2,186.7" fill="#43ff00"/>
<polygon points="321.7,189.6 334.3,182.4 321.9,177.1 309.2,184.4" fill="#4fff00"/>
<polygon points="347.0,187.9 359.4,180.5 346.8,174.9 334.3,182.4" fill="#5aff00"/>
<polygon points="372.2,186.4 384.6,178.9 371.8,172.9 359.4,180.5" fill="#63ff00"/>
<polygon points="397.5,185.2 409.7,177.5 396.8,171.1 384.6,178.9" fill="#6bff00"/>
<polygon points="106.7,216.4 120.7,210.7 109.7,208.6 95.7,214.3" fill="#00ff3b"/>
<polygon points="422.8,184.1 434.9,176.3 421.8,169.5 409.7,177.5" fill="#73ff00"/>
<polygon points="448.1,183.3 460.0,175.3 446.8,168.2 434.9,176.3" fill="#78ff00"/>
<polygon points="473.4,182.7 485.2,174.5 471.8,167.0 460.0,175.3" fill="#7dff00"/>
<polygon points="498.7,182.4 510.3,174.0 496.9,166.1 485.2,174.5" fill="#81ff00"/>
<polygon points="524.0,182.2 535.5,173.7 521.9,165.4 510.3,174.0" fill="#83ff00"/>
<polygon points="131.9,213.1 145.7,207.3 134.5,204.8 120.7,210.7" fill="#00ff27"/>
<polygon points="549.2,182.3 560.7,173.6 546.9,164.9 535.5,173.7" fill="#84ff00"/>
<polygon points="574.5,182.6 585.8,173.7 571.9,164.6 560.7,173.6" fill="#84ff00"/>
<polygon points="157.1,210.1 170.7,204.1 159.3,201.3 145.7,207.3" fill="#00ff15"/>
<polygon points="182.3,207.3 195.8,201.2 184.2,197.9 170.7,204.1" fill="#00ff05"/>
<polygon points="207.6,204.7 220.9,198.4 209.2,194.8 195.8,201.2" fill="#0bff00"/>
<polygon points="232.9,202.3 246.1,195.9 234.1,191.9 220.9,198.4" fill="#19ff00"/>
<polygon points="258.2,200.2 271.3,193.6 259.1,189.2 246.1,195.9" fill="#27ff00"/>
<polygon points="283.6,198.2 296.5,191.4 284.2,186.7 271.3,193.6" fill="#33ff00"/>
<polygon points="308.9,196.5 321.7,189.6 309.2,184.4 296.5,191.4" fill="#3eff00"/>
<polygon points="334.3,195.0 347.0,187.9 334.3,182.4 321.7,189.6" fill="#47ff00"/>
<polygon points="359.7,193.7 372.2,186.4 359.4,180.5 347.0,187.9" fill="#50ff00"/>
<polygon points="385.2,192.6 397.5,185.2 384.6,178.9 372.2,186.4" fill="#57ff00"/>
<polygon points="410.6,191.8 422.8,184.1 409.7,177.5 397.5,185.2" fill="#5dff00"/>
<polygon points="436.0,191.1 448.1,183.3 434.9,176.3 422.8,184.1" fill="#62ff00"/>
<polygon points="461.5,190.7 473.4,182.7 460.0,175.3 448.1,183.3" fill="#66ff00"/>
<polygon points="486.9,190.5 498.7,182.4 485.2,174.5 473.4,182.7" fill="#69ff00"/>
<polygon points="563.1,191.3 574.5,182.6 560.7,173.6 549.2,182.3" fill="#69ff00"/>
<polygon points="512.3,190.5 524.0,182.2 510.3,174.0 498.7,182.4" fill="#6aff00"/>
<polygon points="537.7,190.8 549.2,182.3 535.5,173.7 524.0,182.2" fill="#6aff00"/>
<polygon points="117.9,218.7 131.9,213.1 120.7,210.7 106.7,216.4" fill="#00ff30"/>
<polygon points="143.2,215.8 157.1,210.1 145.7,207.3 131.9,213.1" fill="#00ff1f"/>
<polygon points="168.6,213.2 182.3,207.3 170.7,204.1 157.1,210.1" fill="#00ff10"/>
<polygon points="194.0,210.7 207.6,204.7 195.8,201.2 182.3,207.3" fill="#00ff01"/>
<polygon points="219.5,208.5 232.9,202.3 220.9,198.4 207.6,204.7" fill="#0dff00"/>
<polygon points="245.0,206.5 258.2,200.2 246.1,195.9 232.9,202.3" fill="#19ff00"/>
<polygon points="270.5,204.7 283.6,198.2 271.3,193.6 258.2,200.2" fill="#24ff00"/>
<polygon points="296.0,203.2 308.9,196.5 296.5,191.4 283.6,198.2" fill="#2eff00"/>
<polygon points="321.6,201.8 334.3,195.0 321.7,189.6 308.9,196.5" fill="#37ff00"/>
<polygon points="347.1,200.7 359.7,193.7 347.0,187.9 334.3,195.0" fill="#3eff00"/>
<polygon points="372.7,199.8 385.2,192.6 372.2,186.4 359.7,193.7" fill="#45ff00"/>
<polygon points="398.2,199.1 410.6,191.8 397.5,185.2 385.2,192.6" fill="#4aff00"/>
<polygon points="423.8,198.7 436.0,191.1 422.8,184.1 410.6,191.8" fill="#4eff00"/>
<polygon points="449.4,198.4 461.5,190.7 448.1,183.3 436.0,191.1" fill="#51ff00"/>
<polygon points="551.7,199.7 563.1,191.3 549.2,182.3 537.7,190.8" fill="#50ff00"/>
<polygon points="475.0,198.4 486.9,190.5 473.4,182.7 461.5,190.7" fill="#52ff00"/>
<polygon points="526.1,199.0 537.7,190.8 524.0,182.2 512.3,190.5" fill="#52ff00"/>
<polygon points="500.5,198.6 512.3,190.5 498.7,182.4 486.9,190.5" fill="#53ff00"/>
<polygon points="129.2,221.2 143.2,215.8 131.9,213.1 117.9,218.7" fill="#00ff28"/>
<polygon points="154.7,218.8 168.6,213.2 157.1,210.1 143.2,215.8" fill="#00ff19"/>
<polygon points="180.3,216.5 194.0,210.7 182.3,207.3 168.6,213.2" fill="#00ff0b"/>
<polygon points="205.9,214.4 219.5,208.5 207.6,204.7 194.0,210.7" fill="#02ff00"/>
<polygon points="231.6,212.6 245.0,206.5 232.9,202.3 219.5,208.5" fill="#0dff00"/>
<polygon points="257.2,211.0 270.5,204.7 258.2,200.2 245.0,206.5" fill="#17ff00"/>
<polygon points="282.9,209.6 296.0,203.2 283.6,198.2 270.5,204.7" fill="#20ff00"/>
<polygon points="308.6,208.4 321.6,201.8 308.9,196.5 296.0,203.2" fill="#28ff00"/>
<polygon points="334.3,207.5 347.1,200.7 334.3,195.0 321.6,201.8" fill="#2eff00"/>
<polygon points="360.0,206.8 372.7,199.8 359.7,193.7 347.1,200.7" fill="#34ff00"/>
<polygon points="385.8,206.3 398.2,199.1 385.2,192.6 372.7,199.8" fill="#38ff00"/>
<polygon points="540.0,207.9 551.7,199.7 537.7,190.8 526.1,199.0" fill="#39ff00"/>
<polygon points="411.5,206.0 423.8,198.7 410.6,191.8 398.2,199.1" fill="#3bff00"/>
<polygon points="514.4,207.1 526.1,199.0 512.3,190.5 500.5,198.6" fill="#3cff00"/>
<polygon points="437.2,205.9 449.4,198.4 436.0,191.1 423.8,198.7" fill="#3dff00"/>
<polygon points="488.7,206.5 500.5,198.6 486.9,190.5 475.0,198.4" fill="#3dff00"/>
<polygon points="462.9,206.1 475.0,198.4 461.5,190.7 449.4,198.4" fill="#3eff00"/>
<polygon points="140.7,224.1 154.7,218.8 143.2,215.8 129.2,221.2" fill="#00ff20"/>
<polygon points="166.4,222.0 180.3,216.5 168.6,213.2 154.7,218.8" fill="#00ff13"/>
<polygon points="192.2,220.1 205.9,214.4 194.0,210.7 180.3,216.5" fill="#00ff08"/>
<polygon points="218.0,218.5 231.6,212.6 219.5,208.5 205.9,214.4" fill="#03ff00"/>
<polygon points="243.8,217.0 257.2,211.0 245.0,206.5 231.6,212.6" fill="#0cff00"/>
<polygon points="269.7,215.8 282.9,209.6 270.5,204.7 257.2,211.0" fill="#14ff00"/>
<polygon points="295.5,214.8 308.6,208.4 296.0,203.2 282.9,209.6" fill="#1bff00"/>
<polygon points="321.4,214.0 334.3,207.5 321.6,201.8 308.6,208.4" fill="#20ff00"/>
<polygon points="528.3,215.8 540.0,207.9 526.1,199.0 514.4,207.1" fill="#23ff00"/>
<polygon points="347.3,213.5 360.0,206.8 347.1,200.7 334.3,207.5" fill="#25ff00"/>
<polygon points="502.5,214.8 514.4,207.1 500.5,198.6 488.7,206.5" fill="#27ff00"/>
<polygon points="373.1,213.1 385.8,206.3 372.7,199.8 360.0,206.8" fill="#28ff00"/>
<polygon points="476.6,214.0 488.7,206.5 475.0,198.4 462.9,206.1" fill="#2aff00"/>
<polygon points="399.0,213.0 411.5,206.0 398.2,199.1 385.8,206.3" fill="#2aff00"/>
<polygon points="450.8,213.5 462.9,206.1 449.4,198.4 437.2,205.9" fill="#2bff00"/>
<polygon points="424.9,213.1 437.2,205.9 423.8,198.7 411.5,206.0" fill="#2bff00"/>
<polygon points="152.3,227.2 166.4,222.0 154.7,218.8 140.7,224.1" fill="#00ff1a"/>
<polygon points="178.3,225.5 192.2,220.1 180.3,216.5 166.4,222.0" fill="#00ff0f"/>
<polygon points="204.2,224.0 218.0,218.5 205.9,214.4 192.2,220.1" fill="#00ff06"/>
<polygon points="230.2,222.8 243.8,217.0 231.6,212.6 218.0,218.5" fill="#03ff00"/>
<polygon points="256.2,221.7 269.7,215.8 257.2,211.0 243.8,217.0" fill="#0aff00"/>
<polygon points="282.3,220.9 295.5,214.8 282.9,209.6 269.7,215.8" fill="#10ff00"/>
<polygon points="516.5,223.5 528.3,215.8 514.4,207.1 502.5,214.8" fill="#0fff00"/>
<polygon points="308.3,220.3 321.4,214.0 308.6,208.4 295.5,214.8" fill="#14ff00"/>
<polygon points="490.5,222.3 502.5,214.8 488.7,206.5 476.6,214.0" fill="#14ff00"/>
<polygon points="334.3,219.9 347.3,213.5 334.3,207.5 321.4,214.0" fill="#18ff00"/>
<polygon points="464.5,221.4 476.6,214.0 462.9,206.1 450.8,213.5" fill="#18ff00"/>
<polygon points="360.4,219.8 373.1,213.1 360.0,206.8 347.3,213.5" fill="#1aff00"/>
<polygon points="438.5,220.6 450.8,213.5 437.2,205.9 424.9,213.1" fill="#1aff00"/>
<polygon points="386.4,219.8 399.0,213.0 385.8,206.3 373.1,213.1" fill="#1bff00"/>
<polygon points="412.4,220.1 424.9,213.1 411.5,206.0 399.0,213.0" fill="#1bff00"/>
<polygon points="164.2,230.6 178.3,225.5 166.4,222.0 152.3,227.2" fill="#00ff15"/>
<polygon points="190.3,229.3 204.2,224.0 192.2,220.1 178.3,225.5" fill="#00ff0c"/>
<polygon points="216.5,228.2 230.2,222.8 218.0,218.5 204.2,224.0" fill="#00ff05"/>
<polygon points="504.5,231.0 516.5,223.5 502.5,214.8 490.5,222.3" fill="#00ff03"/>
<polygon points="242.6,227.4 256.2,221.7 243.8,217.0 230.2,222.8" fill="#01ff00"/>
<polygon points="478.3,229.6 490.5,222.3 476.6,214.0 464.5,221.4" fill="#03ff00"/>
<polygon points="268.8,226.7 282.3,220.9 269.7,215.8 256.2,221.7" fill="#06ff00"/>
<polygon points="452.2,228.5 464.5,221.4 450.8,213.5 438.5,220.6" fill="#08ff00"/>
<polygon points="295.0,226.3 308.3,220.3 295.5,214.8 282.3,220.9" fill="#0aff00"/>
<polygon points="426.0,227.5 438.5,220.6 424.9,213.1 412.4,220.1" fill="#0bff00"/>
<polygon points="321.2,226.1 334.3,219.9 321.4,214.0 308.3,220.3" fill="#0cff00"/>
<polygon points="399.8,226.8 412.4,220.1 399.0,213.0 386.4,219.8" fill="#0dff00"/>
<polygon points="347.4,226.1 360.4,219.8 347.3,213.5 334.3,219.9" fill="#0eff00"/>
<polygon points="373.6,226.4 386.4,219.8 373.1,213.1 360.4,219.8" fill="#0eff00"/>
<polygon points="176.2,234.4 190.3,229.3 178.3,225.5 164.2,230.6" fill="#00ff11"/>
<polygon points="492.3,238.2 504.5,231.0 490.5,222.3 478.3,229.6" fill="#00ff13"/>
<polygon points="202.5,233.4 216.5,228.2 204.2,224.0 190.3,229.3" fill="#00ff0b"/>
<polygon points="466.0,236.6 478.3,229.6 464.5,221.4 452.2,228.5" fill="#00ff0c"/>
<polygon points="228.8,232.7 242.6,227.4 230.2,222.8 216.5,228.2" fill="#00ff05"/>
<polygon points="439.7,235.3 452.2,228.5 438.5,220.6 426.0,227.5" fill="#00ff07"/>
<polygon points="255.2,232.3 268.8,226.7 256.2,221.7 242.6,227.4" fill="#00ff01"/>
<polygon points="413.4,234.2 426.0,227.5 412.4,220.1 399.8,226.8" fill="#00ff02"/>
<polygon points="281.6,232.0 295.0,226.3 282.3,220.9 268.8,226.7" fill="#01ff00"/>
<polygon points="387.0,233.3 399.8,226.8 386.4,219.8 373.6,226.4" fill="#01ff00"/>
<polygon points="307.9,232.0 321.2,226.1 308.3,220.3 295.0,226.3" fill="#03ff00"/>
<polygon points="360.7,232.7 373.6,226.4 360.4,219.8 347.4,226.1" fill="#03ff00"/>
<polygon points="334.3,232.2 347.4,226.1 334.3,219.9 321.2,226.1" fill="#03ff00"/>
<polygon points="480.1,245.2 492.3,238.2 478.3,229.6 466.0,236.6" fill="#00ff21"/>
<polygon points="453.6,243.4 466.0,236.6 452.2,228.5 439.7,235.3" fill="#00ff1a"/>
<polygon points="427.1,241.9 439.7,235.3 426.0,227.5 413.4,234.2" fill="#00ff13"/>
<polygon points="188.3,238.4 202.5,233.4 190.3,229.3 176.2,234.4" fill="#00ff0f"/>
<polygon points="400.6,240.6 413.4,234.2 399.8,226.8 387.0,233.3" fill="#00ff0e"/>
<polygon points="214.9,237.9 228.8,232.7 216.5,228.2 202.5,233.4" fill="#00ff0a"/>
<polygon points="374.1,239.5 387.0,233.3 373.6,226.4 360.7,232.7" fill="#00ff0a"/>
<polygon points="241.4,237.6 255.2,232.3 242.6,227.4 228.8,232.7" fill="#00ff07"/>
<polygon points="347.6,238.7 360.7,232.7 347.4,226.1 334.3,232.2" fill="#00ff07"/>
<polygon points="267.9,237.5 281.6,232.0 268.8,226.7 255.2,232.3" fill="#00ff05"/>
<polygon points="321.0,238.1 334.3,232.2 321.2,226.1 307.9,232.0" fill="#00ff05"/>
<polygon points="294.5,237.7 307.9,232.0 295.0,226.3 281.6,232.0" fill="#00ff05"/>
<polygon points="467.7,251.9 480.1,245.2 466.0,236.6 453.6,243.4" fill="#00ff2e"/>
<polygon points="441.0,249.9 453.6,243.4 439.7,235.3 427.1,241.9" fill="#00ff25"/>
<polygon points="414.4,248.2 427.1,241.9 413.4,234.2 400.6,240.6" fill="#00ff1e"/>
<polygon points="387.7,246.7 400.6,240.6 387.0,233.3 374.1,239.5" fill="#00ff18"/>
<polygon points="361.0,245.5 374.1,239.5 360.7,232.7 347.6,238.7" fill="#00ff13"/>
<polygon points="334.3,244.4 347.6,238.7 334.3,232.2 321.0,238.1" fill="#00ff0f"/>
<polygon points="200.7,242.7 214.9,237.9 202.5,233.4 188.3,238.4" fill="#00ff0d"/>
<polygon points="307.6,243.6 321.0,238.1 307.9,232.0 294.5,237.7" fill="#00ff0c"/>
<polygon points="227.4,242.6 241.4,237.6 228.8,232.7 214.9,237.9" fill="#00ff0b"/>
<polygon points="280.9,243.0 294.5,237.7 281.6,232.0 267.9,237.5" fill="#00ff0b"/>
<polygon points="254.1,242.7 267.9,237.5 255.2,232.3 241.4,237.6" fill="#00ff0a"/>
<polygon points="455.1,258.3 467.7,251.9 453.6,243.4 441.0,249.9" fill="#00ff39"/>
<polygon points="428.3,256.2 441.0,249.9 427.1,241.9 414.4,248.2" fill="#00ff2f"/>
<polygon points="401.5,254.2 414.4,248.2 400.6,240.6 387.7,246.7" fill="#00ff27"/>
<polygon points="374.6,252.6 387.7,246.7 374.1,239.5 361.0,245.5" fill="#00ff20"/>
<polygon points="347.7,251.1 361.0,245.5 347.6,238.7 334.3,244.4" fill="#00ff1a"/>
<polygon points="320.9,249.9 334.3,244.4 321.0,238.1 307.6,243.6" fill="#00ff15"/>
<polygon points="294.0,248.9 307.6,243.6 294.5,237.7 280.9,243.0" fill="#00ff11"/>
<polygon points="267.0,248.1 280.9,243.0 267.9,237.5 254.1,242.7" fill="#00ff0f"/>
<polygon points="213.2,247.3 227.4,242.6 214.9,237.9 200.7,242.7" fill="#00ff0e"/>
<polygon points="240.1,247.6 254.1,242.7 241.4,237.6 227.4,242.6" fill="#00ff0e"/>
<polygon points="442.4,264.5 455.1,258.3 441.0,249.9 428.3,256.2" fill="#00ff42"/>
<polygon points="415.4,262.1 428.3,256.2 414.4,248.2 401.5,254.2" fill="#00ff37"/>
<polygon points="388.4,260.0 401.5,254.2 387.7,246.7 374.6,252.6" fill="#00ff2e"/>
<polygon points="361.4,258.2 374.6,252.6 361.0,245.5 347.7,251.1" fill="#00ff26"/>
<polygon points="334.3,256.5 347.7,251.1 334.3,244.4 320.9,249.9" fill="#00ff1f"/>
<polygon points="307.2,255.1 320.9,249.9 307.6,243.6 294.0,248.9" fill="#00ff19"/>
<polygon points="280.1,253.9 294.0,248.9 280.9,243.0 267.0,248.1" fill="#00ff15"/>
<polygon points="253.0,253.0 267.0,248.1 254.1,242.7 240.1,247.6" fill="#00ff11"/>
<polygon points="225.9,252.2 240.1,247.6 227.4,242.6 213.2,247.3" fill="#00ff0f"/>
<polygon points="429.5,270.4 442.4,264.5 428.3,256.2 415.4,262.1" fill="#00ff49"/>
<polygon points="402.3,267.8 415.4,262.1 401.5,254.2 388.4,260.0" fill="#00ff3d"/>
<polygon points="375.1,265.5 388.4,260.0 374.6,252.6 361.4,258.2" fill="#00ff33"/>
<polygon points="347.9,263.5 361.4,258.2 347.7,251.1 334.3,256.5" fill="#00ff2a"/>
<polygon points="320.7,261.6 334.3,256.5 320.9,249.9 307.2,255.1" fill="#00ff22"/>
<polygon points="293.4,260.0 307.2,255.1 294.0,248.9 280.1,253.9" fill="#00ff1c"/>
<polygon points="266.1,258.6 280.1,253.9 267.0,248.1 253.0,253.0" fill="#00ff16"/>
<polygon points="238.8,257.5 253.0,253.0 240.1,247.6 225.9,252.2" fill="#00ff12"/>
<polygon points="416.5,276.0 429.5,270.4 415.4,262.1 402.3,267.8" fill="#00ff4e"/>
<polygon points="389.1,273.3 402.3,267.8 388.4,260.0 375.1,265.5" fill="#00ff42"/>
<polygon points="361.7,270.8 375.1,265.5 361.4,258.2 347.9,263.5" fill="#00ff37"/>
<polygon points="334.3,268.5 347.9,263.5 334.3,256.5 320.7,261.6" fill="#00ff2d"/>
<polygon points="306.8,266.5 320.7,261.6 307.2,255.1 293.4,260.0" fill="#00ff24"/>
<polygon points="279.4,264.7 293.4,260.0 280.1,253.9 266.1,258.6" fill="#00ff1c"/>
<polygon points="251.9,263.1 266.1,258.6 253.0,253.0 238.8,257.5" fill="#00ff16"/>
<polygon points="403.3,281.3 416.5,276.0 402.3,267.8 389.1,273.3" fill="#00ff52"/>
<polygon points="375.7,278.4 389.1,273.3 375.1,265.5 361.7,270.8" fill="#00ff44"/>
<polygon points="348.1,275.7 361.7,270.8 347.9,263.5 334.3,268.5" fill="#00ff38"/>
<polygon points="320.5,273.2 334.3,268.5 320.7,261.6 306.8,266.5" fill="#00ff2d"/>
<polygon points="292.8,271.0 306.8,266.5 293.4,260.0 279.4,264.7" fill="#00ff24"/>
<polygon points="265.1,269.0 279.4,264.7 266.1,258.6 251.9,263.1" fill="#00ff1b"/>
<polygon points="389.8,286.4 403.3,281.3 389.1,273.3 375.7,278.4" fill="#00ff54"/>
<polygon points="362.1,283.3 375.7,278.4 361.7,270.8 348.1,275.7" fill="#00ff45"/>
<polygon points="334.3,280.4 348.1,275.7 334.3,268.5 320.5,273.2" fill="#00ff38"/>
<polygon points="306.4,277.7 320.5,273.2 306.8,266.5 292.8,271.0" fill="#00ff2c"/>
<polygon points="278.6,275.3 292.8,271.0 279.4,264.7 265.1,269.0" fill="#00ff22"/>
<polygon points="376.3,291.2 389.8,286.4 375.7,278.4 362.1,283.3" fill="#00ff54"/>
<polygon points="348.3,287.9 362.1,283.3 348.1,275.7 334.3,280.4" fill="#00ff44"/>
<polygon points="320.3,284.7 334.3,280.4 320.5,273.2 306.4,277.7" fill="#00ff36"/>
<polygon points="292.2,281.9 306.4,277.7 292.8,271.0 278.6,275.3" fill="#00ff2a"/>
<polygon points="362.5,295.7 376.3,291.2 362.1,283.3 348.3,287.9" fill="#00ff52"/>
<polygon points="334.3,292.1 348.3,287.9 334.3,280.4 320.3,284.7" fill="#00ff42"/>
<polygon points="306.0,288.8 320.3,284.7 306.4,277.7 292.2,281.9" fill="#00ff33"/>
<polygon points="348.5,299.9 362.5,295.7 348.3,287.9 334.3,292.1" fill="#00ff4e"/>
<polygon points="320.1,296.1 334.3,292.1 320.3,284.7 306.0,288.8" fill="#00ff3d"/>
<polygon points="334.3,303.8 348.5,299.9 334.3,292.1 320.1,296.1" fill="#00ff49"/>
</g></g>
<g class="mesh">
<polyline points="334.3,292.1 320.3,284.7 306.4,277.7 292.8,271.0 279.4,264.7 266.1,258.6 253.0,253.0 240.1,247.6 227.4,242.6 214.9,237.9 202.5,233.4 190.3,229.3 178.3,225.5 166.4,222.0 154.7,218.8 143.2,215.8 131.9,213.1 120.7,210.7 109.7,208.6 98.8,206.7 88.1,205.1"/>
<polyline points="334.3,292.1 348.3,287.9 362.1,283.3 375.7,278.4 389.1,273.3 402.3,267.8 415.4,262.1 428.3,256.2 441.0,249.9 453.6,243.4 466.0,236.6 478.3,229.6 490.5,222.3 502.5,214.8 514.4,207.1 526.1,199.0 537.7,190.8 549.2,182.3 560.7,173.6 571.9,164.6 583.1,155.4"/>
<polyline points="348.3,287.9 334.3,280.4 320.5,273.2 306.8,266.5 293.4,260.0 280.1,253.9 267.0,248.1 254.1,242.7 241.4,237.6 228.8,232.7 216.5,228.2 204.2,224.0 192.2,220.1 180.3,216.5 168.6,213.2 157.1,210.1 145.7,207.3 134.5,204.8 123.4,202.6 112.5,200.6 101.7,198.9"/>
<polyline points="320.3,284.7 334.3,280.4 348.1,275.7 361.7,270.8 375.1,265.5 388.4,260.0 401.5,254.2 414.4,248.2 427.1,241.9 439.7,235.3 452.2,228.5 464.5,221.4 476.6,214.0 488.7,206.5 500.5,198.6 512.3,190.5 524.0,182.2 535.5,173.7 546.9,164.9 558.2,155.9 569.4,146.6"/>
<polyline points="362.1,283.3 348.1,275.7 334.3,268.5 320.7,261.6 307.2,255.1 294.0,248.9 280.9,243.0 267.9,237.5 255.2,232.3 242.6,227.4 230.2,222.8 218.0,218.5 205.9,214.4 194.0,210.7 182.3,207.3 170.7,204.1 159.3,201.3 148.1,198.7 137.0,196.3 126.0,194.2 115.3,192.4"/>
<polyline points="306.4,277.7 320.5,273.2 334.3,268.5 347.9,263.5 361.4,258.2 374.6,252.6 387.7,246.7 400.6,240.6 413.4,234.2 426.0,227.5 438.5,220.6 450.8,213.5 462.9,206.1 475.0,198.4 486.9,190.5 498.7,182.4 510.3,174.0 521.9,165.4 533.3,156.5 544.7,147.4 555.9,138.1"/>
<polyline points="375.7,278.4 361.7,270.8 347.9,263.5 334.3,256.5 320.9,249.9 307.6,243.6 294.5,237.7 281.6,232.0 268.8,226.7 256.2,221.7 243.8,217.0 231.6,212.6 219.5,208.5 207.6,204.7 195.8,201.2 184.2,197.9 172.8,195.0 161.5,192.3 150.4,189.8 139.4,187.6 128.6,185.7"/>
<polyline points="292.8,271.0 306.8,266.5 320.7,261.6 334.3,256.5 347.7,251.1 361.0,245.5 374.1,239.5 387.0,233.3 399.8,226.8 412.4,220.1 424.9,213.1 437.2,205.9 449.4,198.4 461.5,190.7 473.4,182.7 485.2,174.5 496.9,166.1 508.4,157.4 519.9,148.5 531.2,139.3 542.4,130.0"/>
<polyline points="389.1,273.3 375.1,265.5 361.4,258.2 347.7,251.1 334.3,244.4 321.0,238.1 307.9,232.0 295.0,226.3 282.3,220.9 269.7,215.8 257.2,211.0 245.0,206.5 232.9,202.3 220.9,198.4 209.2,194.8 197.5,191.5 186.1,188.4 174.8,185.6 163.6,183.1 152.6,180.8 141.8,178.8"/>
<polyline points="279.4,264.7 293.4,260.0 307.2,255.1 320.9,249.9 334.3,244.4 347.6,238.7 360.7,232.7 373.6,226.4 386.4,219.8 399.0,213.0 411.5,206.0 423.8,198.7 436.0,191.1 448.1,183.3 460.0,175.3 471.8,167.0 483.5,158.5 495.1,149.8 506.6,140.8 517.9,131.6 529.2,122.1"/>
<polyline points="402.3,267.8 388.4,260.0 374.6,252.6 361.0,245.5 347.6,238.7 334.3,232.2 321.2,226.1 308.3,220.3 295.5,214.8 282.9,209.6 270.5,204.7 258.2,200.2 246.1,195.9 234.1,191.9 222.3,188.2 210.7,184.7 199.2,181.6 187.9,178.7 176.7,176.1 165.7,173.7 154.8,171.6"/>
<polyline points="266.1,258.6 280.1,253.9 294.0,248.9 307.6,243.6 321.0,238.1 334.3,232.2 347.4,226.1 360.4,219.8 373.1,213.1 385.8,206.3 398.2,199.1 410.6,191.8 422.8,184.1 434.9,176.3 446.8,168.2 458.6,159.8 470.3,151.3 481.9,142.4 493.4,133.4 504.7,124.1 516.0,114.6"/>
<polyline points="415.4,262.1 401.5,254.2 387.7,246.7 374.1,239.5 360.7,232.7 347.4,226.1 334.3,219.9 321.4,214.0 308.6,208.4 296.0,203.2 283.6,198.2 271.3,193.6 259.1,189.2 247.2,185.1 235.4,181.3 223.7,177.8 212.2,174.5 200.8,171.6 189.6,168.9 178.6,166.4 167.7,164.2"/>
<polyline points="253.0,253.0 267.0,248.1 280.9,243.0 294.5,237.7 307.9,232.0 321.2,226.1 334.3,219.9 347.3,213.5 360.0,206.8 372.7,199.8 385.2,192.6 397.5,185.2 409.7,177.5 421.8,169.5 433.7,161.4 445.6,153.0 457.3,144.3 468.9,135.4 480.3,126.3 491.7,117.0 503.0,107.4"/>
<polyline points="428.3,256.2 414.4,248.2 400.6,240.6 387.0,233.3 373.6,226.4 360.4,219.8 347.3,213.5 334.3,207.5 321.6,201.8 308.9,196.5 296.5,191.4 284.2,186.7 272.0,182.2 260.1,178.1 248.2,174.2 236.5,170.6 225.0,167.2 213.6,164.2 202.4,161.4 191.3,158.8 180.4,156.6"/>
<polyline points="240.1,247.6 254.1,242.7 267.9,237.5 281.6,232.0 295.0,226.3 308.3,220.3 321.4,214.0 334.3,207.5 347.1,200.7 359.7,193.7 372.2,186.4 384.6,178.9 396.8,171.1 408.9,163.1 420.8,154.9 432.6,146.4 444.3,137.7 455.9,128.7 467.4,119.5 478.8,110.1 490.1,100.5"/>
<polyline points="441.0,249.9 427.1,241.9 413.4,234.2 399.8,226.8 386.4,219.8 373.1,213.1 360.0,206.8 347.1,200.7 334.3,195.0 321.7,189.6 309.2,184.4 296.9,179.6 284.8,175.0 272.8,170.8 260.9,166.8 249.2,163.1 237.7,159.7 226.3,156.6 215.0,153.7 203.9,151.1 193.0,148.7"/>
<polyline points="227.4,242.6 241.4,237.6 255.2,232.3 268.8,226.7 282.3,220.9 295.5,214.8 308.6,208.4 321.6,201.8 334.3,195.0 347.0,187.9 359.4,180.5 371.8,172.9 384.0,165.1 396.1,157.0 408.0,148.7 419.9,140.1 431.6,131.3 443.2,122.3 454.7,113.1 466.0,103.6 477.3,93.9"/>
<polyline points="453.6,243.4 439.7,235.3 426.0,227.5 412.4,220.1 399.0,213.0 385.8,206.3 372.7,199.8 359.7,193.7 347.0,187.9 334.3,182.4 321.9,177.1 309.5,172.2 297.4,167.6 285.4,163.3 273.5,159.2 261.8,155.4 250.2,151.9 238.8,148.7 227.5,145.7 216.4,143.0 205.4,140.6"/>
<polyline points="214.9,237.9 228.8,232.7 242.6,227.4 256.2,221.7 269.7,215.8 282.9,209.6 296.0,203.2 308.9,196.5 321.7,189.6 334.3,182.4 346.8,174.9 359.2,167.2 371.4,159.3 383.4,151.2 395.4,142.8 407.2,134.2 418.9,125.3 430.5,116.2 442.0,106.9 453.4,97.4 464.7,87.6"/>
<polyline points="466.0,236.6 452.2,228.5 438.5,220.6 424.9,213.1 411.5,206.0 398.2,199.1 385.2,192.6 372.2,186.4 359.4,180.5 346.8,174.9 334.3,169.6 322.0,164.6 309.8,159.9 297.8,155.5 285.9,151.4 274.2,147.5 262.6,143.9 251.2,140.6 239.9,137.6 228.7,134.8 217.7,132.3"/>
<polyline points="202.5,233.4 216.5,228.2 230.2,222.8 243.8,217.0 257.2,211.0 270.5,204.7 283.6,198.2 296.5,191.4 309.2,184.4 321.9,177.1 334.3,169.6 346.7,161.9 358.9,153.9 371.0,145.7 382.9,137.2 394.7,128.5 406.4,119.6 418.0,110.4 429.5,101.0 440.9,91.4 452.2,81.6"/>
<polyline points="478.3,229.6 464.5,221.4 450.8,213.5 437.2,205.9 423.8,198.7 410.6,191.8 397.5,185.2 384.6,178.9 371.8,172.9 359.2,167.2 346.7,161.9 334.3,156.8 322.2,152.0 310.1,147.5 298.2,143.3 286.5,139.4 274.9,135.7 263.4,132.3 252.1,129.2 240.9,126.3 229.9,123.7"/>
<polyline points="190.3,229.3 204.2,224.0 218.0,218.5 231.6,212.6 245.0,206.5 258.2,200.2 271.3,193.6 284.2,186.7 296.9,179.6 309.5,172.2 322.0,164.6 334.3,156.8 346.5,148.7 358.6,140.4 370.6,131.9 382.4,123.1 394.1,114.1 405.7,104.9 417.2,95.4 428.6,85.8 439.8,75.9"/>
<polyline points="490.5,222.3 476.6,214.0 462.9,206.1 449.4,198.4 436.0,191.1 422.8,184.1 409.7,177.5 396.8,171.1 384.0,165.1 371.4,159.3 358.9,153.9 346.5,148.7 334.4,143.9 322.3,139.3 310.4,135.0 298.6,131.0 287.0,127.2 275.5,123.8 264.2,120.6 253.0,117.6 241.9,114.9"/>
<polyline points="178.3,225.5 192.2,220.1 205.9,214.4 219.5,208.5 232.9,202.3 246.1,195.9 259.1,189.2 272.0,182.2 284.8,175.0 297.4,167.6 309.8,159.9 322.2,152.0 334.4,143.9 346.4,135.5 358.3,126.9 370.2,118.0 381.9,109.0 393.5,99.7 404.9,90.1 416.3,80.4 427.6,70.4"/>
<polyline points="502.5,214.8 488.7,206.5 475.0,198.4 461.5,190.7 448.1,183.3 434.9,176.3 421.8,169.5 408.9,163.1 396.1,157.0 383.4,151.2 371.0,145.7 358.6,140.4 346.4,135.5 334.4,130.8 322.4,126.5 310.7,122.4 299.0,118.6 287.5,115.0 276.2,111.7 265.0,108.7 253.9,105.9"/>
<polyline points="166.4,222.0 180.3,216.5 194.0,210.7 207.6,204.7 220.9,198.4 234.1,191.9 247.2,185.1 260.1,178.1 272.8,170.8 285.4,163.3 297.8,155.5 310.1,147.5 322.3,139.3 334.4,130.8 346.3,122.1 358.1,113.2 369.8,104.1 381.4,94.7 392.9,85.1 404.2,75.3 415.5,65.3"/>
<polyline points="514.4,207.1 500.5,198.6 486.9,190.5 473.4,182.7 460.0,175.3 446.8,168.2 433.7,161.4 420.8,154.9 408.0,148.7 395.4,142.8 382.9,137.2 370.6,131.9 358.3,126.9 346.3,122.1 334.4,117.7 322.6,113.5 310.9,109.6 299.4,106.0 288.0,102.6 276.8,99.5 265.7,96.7"/>
<polyline points="154.7,218.8 168.6,213.2 182.3,207.3 195.8,201.2 209.2,194.8 222.3,188.2 235.4,181.3 248.2,174.2 260.9,166.8 273.5,159.2 285.9,151.4 298.2,143.3 310.4,135.0 322.4,126.5 334.4,117.7 346.2,108.7 357.8,99.5 369.4,90.1 380.9,80.4 392.3,70.5 403.5,60.4"/>
<polyline points="526.1,199.0 512.3,190.5 498.7,182.4 485.2,174.5 471.8,167.0 458.6,159.8 445.6,153.0 432.6,146.4 419.9,140.1 407.2,134.2 394.7,128.5 382.4,123.1 370.2,118.0 358.1,113.2 346.2,108.7 334.4,104.5 322.7,100.5 311.2,96.8 299.8,93.3 288.5,90.2 277.4,87.2"/>
<polyline points="143.2,215.8 157.1,210.1 170.7,204.1 184.2,197.9 197.5,191.5 210.7,184.7 223.7,177.8 236.5,170.6 249.2,163.1 261.8,155.4 274.2,147.5 286.5,139.4 298.6,131.0 310.7,122.4 322.6,113.5 334.4,104.5 346.0,95.2 357.6,85.7 369.1,75.9 380.4,66.0 391.7,55.8"/>
<polyline points="537.7,190.8 524.0,182.2 510.3,174.0 496.9,166.1 483.5,158.5 470.3,151.3 457.3,144.3 444.3,137.7 431.6,131.3 418.9,125.3 406.4,119.6 394.1,114.1 381.9,109.0 369.8,104.1 357.8,99.5 346.0,95.2 334.4,91.1 322.8,87.4 311.4,83.8 300.2,80.6 289.0,77.6"/>
<polyline points="131.9,213.1 145.7,207.3 159.3,201.3 172.8,195.0 186.1,188.4 199.2,181.6 212.2,174.5 225.0,167.2 237.7,159.7 250.2,151.9 262.6,143.9 274.9,135.7 287.0,127.2 299.0,118.6 310.9,109.6 322.7,100.5 334.4,91.1 345.9,81.5 357.4,71.7 368.7,61.7 380.0,51.5"/>
<polyline points="549.2,182.3 535.5,173.7 521.9,165.4 508.4,157.4 495.1,149.8 481.9,142.4 468.9,135.4 455.9,128.7 443.2,122.3 430.5,116.2 418.0,110.4 405.7,104.9 393.5,99.7 381.4,94.7 369.4,90.1 357.6,85.7 345.9,81.5 334.4,77.7 322.9,74.1 311.7,70.8 300.5,67.7"/>
<polyline points="120.7,210.7 134.5,204.8 148.1,198.7 161.5,192.3 174.8,185.6 187.9,178.7 200.8,171.6 213.6,164.2 226.3,156.6 238.8,148.7 251.2,140.6 263.4,132.3 275.5,123.8 287.5,115.0 299.4,106.0 311.2,96.8 322.8,87.4 334.4,77.7 345.8,67.8 357.1,57.7 368.4,47.4"/>
<polyline points="560.7,173.6 546.9,164.9 533.3,156.5 519.9,148.5 506.6,140.8 493.4,133.4 480.3,126.3 467.4,119.5 454.7,113.1 442.0,106.9 429.5,101.0 417.2,95.4 404.9,90.1 392.9,85.1 380.9,80.4 369.1,75.9 357.4,71.7 345.8,67.8 334.4,64.1 323.1,60.7 311.9,57.6"/>
<polyline points="109.7,208.6 123.4,202.6 137.0,196.3 150.4,189.8 163.6,183.1 176.7,176.1 189.6,168.9 202.4,161.4 215.0,153.7 227.5,145.7 239.9,137.6 252.1,129.2 264.2,120.6 276.2,111.7 288.0,102.6 299.8,93.3 311.4,83.8 322.9,74.1 334.4,64.1 345.7,54.0 356.9,43.6"/>
<polyline points="571.9,164.6 558.2,155.9 544.7,147.4 531.2,139.3 517.9,131.6 504.7,124.1 491.7,117.0 478.8,110.1 466.0,103.6 453.4,97.4 440.9,91.4 428.6,85.8 416.3,80.4 404.2,75.3 392.3,70.5 380.4,66.0 368.7,61.7 357.1,57.7 345.7,54.0 334.4,50.5 323.2,47.3"/>
<polyline points="98.8,206.7 112.5,200.6 126.0,194.2 139.4,187.6 152.6,180.8 165.7,173.7 178.6,166.4 191.3,158.8 203.9,151.1 216.4,143.0 228.7,134.8 240.9,126.3 253.0,117.6 265.0,108.7 276.8,99.5 288.5,90.2 300.2,80.6 311.7,70.8 323.1,60.7 334.4,50.5 345.6,40.1"/>
<polyline points="583.1,155.4 569.4,146.6 555.9,138.1 542.4,130.0 529.2,122.1 516.0,114.6 503.0,107.4 490.1,100.5 477.3,93.9 464.7,87.6 452.2,81.6 439.8,75.9 427.6,70.4 415.5,65.3 403.5,60.4 391.7,55.8 380.0,51.5 368.4,47.4 356.9,43.6 345.6,40.1 334.4,36.8"/>
<polyline points="88.1,205.1 101.7,198.9 115.3,192.4 128.6,185.7 141.8,178.8 154.8,171.6 167.7,164.2 180.4,156.6 193.0,148.7 205.4,140.6 217.7,132.3 229.9,123.7 241.9,114.9 253.9,105.9 265.7,96.7 277.4,87.2 289.0,77.6 300.5,67.7 311.9,57.6 323.2,47.3 334.4,36.8"/>
</g>
<line x1="86.8" y1="197.0" x2="88.1" y2="205.1" stroke="#222" stroke-width="1"/>
<circle cx="86.8" cy="197.0" r="5.1" fill="#c40000" stroke="#700000" stroke-width="0.9"/>
<line x1="334.4" y1="153.2" x2="334.3" y2="169.6" stroke="#222" stroke-width="1"/>
<circle cx="334.4" cy="153.2" r="5.1" fill="#c40000" stroke="#700000" stroke-width="0.9"/>
<line x1="334.4" y1="164.5" x2="334.3" y2="169.6" stroke="#222" stroke-width="1"/>
<circle cx="334.4" cy="164.5" r="5.1" fill="#c40000" stroke="#700000" stroke-width="0.9"/>
<line x1="334.4" y1="168.0" x2="334.3" y2="169.6" stroke="#222" stroke-width="1"/>
<circle cx="334.4" cy="168.0" r="5.1" fill="#c40000" stroke="#700000" stroke-width="0.9"/>
<line x1="334.5" y1="282.8" x2="334.3" y2="292.1" stroke="#222" stroke-width="1"/>
<circle cx="334.5" cy="282.8" r="5.1" fill="#c40000" stroke="#700000" stroke-width="0.9"/>
<text class="t" x="67.1" y="292.2" textLength="16" lengthAdjust="spacingAndGlyphs">62</text>
<text class="t" x="65.1" y="254.0" textLength="16" lengthAdjust="spacingAndGlyphs">64</text>
<text class="t" x="63.2" y="215.3" textLength="16" lengthAdjust="spacingAndGlyphs">66</text>
<text class="t" x="61.2" y="175.9" textLength="16" lengthAdjust="spacingAndGlyphs">68</text>
<text class="t" x="59.2" y="135.9" textLength="16" lengthAdjust="spacingAndGlyphs">70</text>
<text class="t" x="57.2" y="95.3" textLength="16" lengthAdjust="spacingAndGlyphs">72</text>
<text class="t" x="55.1" y="54.0" textLength="16" lengthAdjust="spacingAndGlyphs">74</text>
<text class="t" x="70.4" y="390.2" textLength="16" lengthAdjust="spacingAndGlyphs">40</text>
<text class="t" x="128.6" y="416.8" textLength="16" lengthAdjust="spacingAndGlyphs">35</text>
<text class="t" x="189.6" y="444.9" textLength="16" lengthAdjust="spacingAndGlyphs">30</text>
<text class="t" x="249.0" y="471.9" textLength="16" lengthAdjust="spacingAndGlyphs">25</text>
<text class="t" x="308.4" y="499.5" textLength="16" lengthAdjust="spacingAndGlyphs">20</text>
<text class="t" x="343.7" y="499.7" textLength="16" lengthAdjust="spacingAndGlyphs">40</text>
<text class="t" x="404.0" y="471.5" textLength="16" lengthAdjust="spacingAndGlyphs">45</text>
<text class="t" x="463.3" y="445.4" textLength="16" lengthAdjust="spacingAndGlyphs">50</text>
<text class="t" x="522.6" y="417.5" textLength="16" lengthAdjust="spacingAndGlyphs">55</text>
<text class="t" x="581.5" y="389.6" textLength="16" lengthAdjust="spacingAndGlyphs">60</text>
<text class="tt" x="33.7" y="475.3" textLength="179.0" lengthAdjust="spacingAndGlyphs">B: Sonication Time (min)</text>
<text class="tt" x="381.4" y="475.6" textLength="232.4" lengthAdjust="spacingAndGlyphs">A: Sonication Temperature (°C)</text>
<text class="ty" transform="translate(29.0,214.6) rotate(-90)" x="0" y="0" text-anchor="middle" textLength="205.8" lengthAdjust="spacingAndGlyphs">Argel TPC (g GAE kg-1 DW)</text>
<text class="lab" x="0.5" y="23.8">(a)</text>
<polyline points="87.0,856.1 329.0,773.0 571.5,856.8" class="w"/>
<polyline points="85.1,815.3 329.0,736.2 573.4,816.0" class="w"/>
<polyline points="83.2,773.9 329.0,699.0 575.4,774.5" class="w"/>
<polyline points="81.2,731.8 329.1,661.2 577.3,732.4" class="w"/>
<polyline points="79.3,689.0 329.1,622.9 579.3,689.7" class="w"/>
<polyline points="77.3,645.6 329.1,584.1 581.3,646.2" class="w"/>
<polyline points="75.2,601.4 329.1,544.7 583.4,602.0" class="w"/>
<line x1="138.7" y1="587.2" x2="147.5" y2="835.3" class="w"/>
<line x1="202.2" y1="573.1" x2="208.0" y2="814.5" class="w"/>
<line x1="265.6" y1="558.9" x2="268.5" y2="793.7" class="w"/>
<line x1="532.5" y1="590.6" x2="523.0" y2="840.0" class="w"/>
<line x1="481.7" y1="579.1" x2="474.5" y2="823.2" class="w"/>
<line x1="430.8" y1="567.6" x2="426.0" y2="806.5" class="w"/>
<line x1="379.9" y1="556.2" x2="377.5" y2="789.7" class="w"/>
<line x1="75.2" y1="601.4" x2="90.7" y2="937.0" class="ax"/>
<line x1="329.1" y1="544.7" x2="329.0" y2="846.0" class="ax"/>
<line x1="583.4" y1="602.0" x2="567.7" y2="937.7" class="ax"/>
<polygon points="90.7,937.0 329.4,1054.9 567.7,937.7 329.0,846.0" class="floor"/>
<polyline points="431.3,1004.8 428.5,1005.1 425.4,1005.4 422.0,1005.8 418.6,1006.2 415.2,1006.6 411.8,1007.1 408.4,1007.5 405.4,1007.9 402.3,1008.3 399.3,1008.8 396.2,1009.2 393.1,1009.7 389.9,1010.1 386.7,1010.6 383.4,1011.1 380.2,1011.7 376.8,1012.2 373.5,1012.8 370.0,1013.4 366.6,1014.0 363.3,1014.6 360.2,1015.2 357.1,1015.8 354.0,1016.4 350.9,1017.0 347.9,1017.6 344.4,1018.3 340.5,1019.1 337.3,1019.8 334.3,1020.5 331.3,1021.1 328.1,1021.9 323.9,1022.8 320.9,1023.5 318.0,1024.2 314.8,1025.0 310.7,1026.0 307.8,1026.8 304.9,1027.5 300.6,1028.7 297.8,1029.4 294.9,1030.2 290.7,1031.4 287.9,1032.2 285.1,1033.0" fill="none" stroke="#00c3f6" stroke-width="2"/>
<polyline points="488.3,976.8 486.1,976.8 482.1,976.8 479.7,976.9 476.1,976.9 473.2,977.0 470.1,977.0 466.6,977.1 464.2,977.2 460.3,977.3 457.6,977.4 454.5,977.5 450.8,977.6 448.5,977.7 445.0,977.9 441.5,978.0 439.2,978.2 435.6,978.3 432.1,978.5 429.7,978.7 426.4,978.9 422.8,979.1 420.0,979.3 417.4,979.5 413.8,979.8 410.2,980.0 407.4,980.3 404.9,980.5 401.4,980.8 398.0,981.1 394.5,981.4 391.8,981.7 389.1,981.9 386.0,982.3 382.6,982.6 379.2,983.0 375.9,983.4 372.5,983.8 369.6,984.1 366.7,984.5 363.8,984.8 360.9,985.2 357.8,985.6 354.6,986.1 351.3,986.5 348.2,987.0 345.0,987.5 341.8,988.0 338.7,988.5 335.5,989.0 332.4,989.5 329.2,990.0 325.7,990.6 322.2,991.3 318.7,991.9 315.6,992.5 312.6,993.1 309.6,993.6 306.6,994.2 303.6,994.8 299.8,995.7 296.3,996.4 293.4,997.0 290.5,997.7 287.2,998.4 283.2,999.3 280.4,1000.0 277.5,1000.7 273.5,1001.7 270.5,1002.4 267.7,1003.2 263.5,1004.3 260.7,1005.0 257.9,1005.7 253.8,1006.9 251.0,1007.7 247.0,1008.8 244.2,1009.6 240.2,1010.8 240.2,1010.8" fill="none" stroke="#00ff98" stroke-width="2"/>
<polyline points="530.3,956.1 527.8,955.9 524.9,955.7 521.3,955.5 518.1,955.3 515.7,955.1 512.2,954.9 508.6,954.7 506.3,954.6 503.0,954.4 499.3,954.3 497.0,954.1 493.7,954.0 490.2,953.9 488.0,953.8 484.2,953.6 481.3,953.5 478.5,953.5 474.8,953.3 472.6,953.3 468.8,953.2 466.1,953.1 463.0,953.1 459.8,953.0 457.0,953.0 453.5,952.9 451.0,952.9 447.3,952.9 445.0,952.9 441.2,952.9 438.9,952.9 435.2,952.9 432.7,952.9 429.2,953.0 426.4,953.0 423.3,953.0 420.1,953.1 417.5,953.1 413.7,953.2 411.5,953.3 407.9,953.4 404.9,953.5 402.3,953.6 398.6,953.7 396.0,953.8 393.0,954.0 389.4,954.1 386.9,954.2 383.9,954.4 380.3,954.6 377.6,954.8 375.0,954.9 371.4,955.1 368.1,955.4 365.6,955.6 362.7,955.8 359.2,956.0 355.8,956.3 353.2,956.5 350.6,956.8 347.4,957.1 344.0,957.4 340.7,957.7 337.5,958.1 334.8,958.3 332.0,958.6 329.2,959.0 326.0,959.3 322.8,959.7 319.6,960.1 316.4,960.6 313.3,961.0 310.1,961.4 307.0,961.9 304.0,962.3 300.9,962.8 297.8,963.3 294.8,963.7 291.8,964.2 288.8,964.8 285.8,965.3 282.5,965.9 278.9,966.5 275.5,967.2 272.6,967.7 269.8,968.3 266.9,968.9 263.5,969.6 259.8,970.4 257.0,971.0 254.2,971.7 250.4,972.5 247.3,973.3 244.5,974.0 240.8,974.9 237.7,975.7 235.1,976.4 231.0,977.5 228.4,978.2 224.4,979.3 221.8,980.0 217.9,981.2 215.3,982.0 211.4,983.1 208.8,983.9 205.0,985.1 201.9,986.1 198.7,987.2 194.9,988.5 194.9,988.5" fill="none" stroke="#08ff00" stroke-width="2"/>
<polyline points="566.1,937.0 563.0,936.6 559.9,936.2 556.8,935.7 553.7,935.3 550.7,934.9 547.7,934.5 544.7,934.1 541.8,933.8 538.6,933.4 535.4,933.0 532.3,932.6 529.1,932.2 525.9,931.8 522.7,931.5 519.5,931.1 516.3,930.8 513.5,930.5 510.8,930.2 508.1,929.9 504.9,929.6 501.6,929.2 498.4,928.9 495.1,928.6 492.3,928.3 489.8,928.1 486.8,927.8 483.5,927.5 480.2,927.3 477.1,927.0 474.6,926.8 471.8,926.6 468.4,926.3 465.0,926.0 462.5,925.8 460.0,925.7 456.5,925.4 453.1,925.2 450.6,925.0 447.9,924.8 444.5,924.6 441.3,924.4 439.0,924.3 435.7,924.1 432.2,923.9 430.0,923.8 426.9,923.7 423.4,923.5 421.1,923.4 418.0,923.3 414.6,923.1 412.4,923.0 409.0,922.9 406.0,922.8 403.5,922.7 399.8,922.6 397.5,922.6 394.2,922.5 391.3,922.4 388.6,922.3 385.2,922.3 383.0,922.2 379.1,922.2 377.1,922.2 373.4,922.1 371.1,922.1 367.5,922.1 365.2,922.1 361.6,922.1 359.4,922.1 355.6,922.2 353.6,922.2 349.9,922.2 347.5,922.3 344.3,922.3 341.3,922.4 338.7,922.5 335.1,922.6 332.9,922.6 329.6,922.8 326.4,922.9 324.2,923.0 320.7,923.1 317.6,923.3 315.3,923.4 312.0,923.6 308.6,923.8 306.1,924.0 303.5,924.1 300.2,924.4 296.8,924.6 294.1,924.9 291.6,925.1 288.7,925.3 285.5,925.6 282.3,926.0 279.1,926.3 276.0,926.7 273.2,927.0 270.4,927.3 267.6,927.7 264.6,928.1 261.7,928.5 258.6,928.9 255.5,929.4 252.3,929.9 249.0,930.4 246.2,930.9 243.3,931.4 240.5,931.9 237.7,932.4 234.5,933.1 230.9,933.8 228.2,934.4 225.5,935.0 221.8,935.8 218.9,936.5 216.3,937.1 212.4,938.1 209.9,938.8 206.1,939.8 203.6,940.5 199.8,941.5 197.4,942.2 193.7,943.3 191.3,944.1 187.7,945.2 184.1,946.4 180.8,947.5 178.3,948.4 174.8,949.6 171.4,950.9 167.9,952.2 164.6,953.4 161.2,954.8 157.9,956.1 154.5,957.5 151.2,958.8 148.0,960.2 144.7,961.7 142.5,962.6" fill="none" stroke="#baff00" stroke-width="2"/>
<polyline points="465.5,898.4 462.6,898.0 459.7,897.6 456.8,897.2 453.9,896.8 451.0,896.5 448.2,896.1 445.3,895.7 442.5,895.4 439.7,895.0 436.9,894.7 434.0,894.3 431.0,893.9 428.1,893.6 425.1,893.2 422.1,892.9 419.2,892.5 416.2,892.2 413.2,891.8 410.2,891.5 407.3,891.2 404.6,890.9 402.0,890.6 399.4,890.3 396.8,890.0 393.8,889.7 390.8,889.4 387.8,889.1 384.7,888.7 381.7,888.4 379.0,888.1 376.5,887.9 374.0,887.6 371.1,887.4 368.1,887.1 365.0,886.8 362.0,886.5 359.2,886.2 356.7,886.0 354.3,885.8 351.3,885.5 348.2,885.2 345.2,884.9 342.3,884.7 339.9,884.5 337.4,884.3 334.3,884.0 331.2,883.7 328.2,883.5 325.8,883.3 323.5,883.1 320.3,882.9 317.2,882.6 314.3,882.4 312.1,882.2 309.3,882.0 306.2,881.8 303.1,881.6 300.9,881.4 298.2,881.3 295.0,881.1 292.1,880.9 289.9,880.7 286.9,880.6 283.7,880.4 281.3,880.3 278.8,880.1 275.4,880.0 272.9,879.8 270.5,879.7 267.1,879.6 264.6,879.5 262.0,879.4 258.6,879.3 256.6,879.2 253.4,879.1 250.7,879.1 248.1,879.0 245.0,879.0 242.6,879.0 242.6,879.0" fill="none" stroke="#ff9100" stroke-width="2"/>
<polyline points="90.7,937.0 329.4,1054.9 567.7,937.7" class="fe"/>
<polyline points="90.7,937.0 329.0,846.0 567.7,937.7" class="fb"/>
<circle cx="87.0" cy="856.1" r="2.3"/>
<circle cx="85.1" cy="815.3" r="2.3"/>
<circle cx="83.2" cy="773.9" r="2.3"/>
<circle cx="81.2" cy="731.8" r="2.3"/>
<circle cx="79.3" cy="689.0" r="2.3"/>
<circle cx="77.3" cy="645.6" r="2.3"/>
<circle cx="75.2" cy="601.4" r="2.3"/>
<circle cx="90.7" cy="937.0" r="2.3"/>
<circle cx="138.4" cy="960.6" r="2.3"/>
<circle cx="186.2" cy="984.2" r="2.3"/>
<circle cx="233.9" cy="1007.7" r="2.3"/>
<circle cx="281.7" cy="1031.3" r="2.3"/>
<circle cx="329.4" cy="1054.9" r="2.3"/>
<circle cx="329.4" cy="1054.9" r="2.3"/>
<circle cx="389.0" cy="1025.6" r="2.3"/>
<circle cx="448.6" cy="996.3" r="2.3"/>
<circle cx="508.2" cy="967.0" r="2.3"/>
<circle cx="567.7" cy="937.7" r="2.3"/>
<line x1="79.5" y1="699.3" x2="78.5" y2="673.2" stroke="#222" stroke-width="1"/>
<circle cx="79.5" cy="699.3" r="5.0" fill="#e4d4da" stroke="#d2782a" stroke-width="1.2"/>
<line x1="328.9" y1="578.2" x2="329.1" y2="577.2" stroke="#222" stroke-width="1"/>
<circle cx="328.9" cy="578.2" r="5.0" fill="#e4d4da" stroke="#d2782a" stroke-width="1.2"/>
<clipPath id="clipb"><polygon points="329.5,938.2 343.3,929.4 357.0,920.3 370.5,910.9 383.8,901.3 396.9,891.3 409.9,881.0 422.8,870.4 435.5,859.6 448.1,848.4 460.5,837.0 472.8,825.3 485.0,813.3 497.0,801.0 509.0,788.5 520.8,775.6 532.5,762.6 544.2,749.2 555.7,735.5 567.1,721.6 578.5,707.5 564.7,698.6 551.0,690.0 537.5,681.6 524.2,673.6 511.0,665.7 497.9,658.2 485.0,650.9 472.2,643.8 459.5,637.0 447.0,630.4 434.6,624.1 422.4,618.0 410.2,612.1 398.3,606.4 386.4,601.0 374.7,595.8 363.1,590.8 351.6,586.1 340.3,581.5 329.1,577.2 317.9,585.0 306.6,592.5 295.2,599.7 283.6,606.6 272.0,613.2 260.2,619.5 248.2,625.5 236.2,631.2 224.0,636.5 211.6,641.6 199.1,646.3 186.4,650.7 173.6,654.7 160.6,658.4 147.4,661.8 134.0,664.8 120.4,667.5 106.7,669.7 92.7,671.7 78.5,673.2 89.8,683.5 101.2,694.1 112.7,705.0 124.4,716.1 136.1,727.6 148.0,739.4 160.1,751.5 172.3,763.8 184.6,776.6 197.1,789.6 209.7,802.9 222.4,816.6 235.3,830.6 248.3,844.9 261.5,859.6 274.8,874.6 288.2,890.0 301.8,905.7 315.6,921.8"/></clipPath>
<g clip-path="url(#clipb)"><g filter="url(#sm)">
<polygon points="329.1,577.2 340.2,569.1 329.1,565.0 318.0,573.0" fill="#ff0000"/>
<polygon points="317.9,585.0 329.1,577.2 318.0,573.0 306.8,580.7" fill="#ff0000"/>
<polygon points="340.3,581.5 351.4,573.3 340.2,569.1 329.1,577.2" fill="#ff0000"/>
<polygon points="306.6,592.5 317.9,585.0 306.8,580.7 295.5,588.1" fill="#ff0f00"/>
<polygon points="329.1,589.4 340.3,581.5 329.1,577.2 317.9,585.0" fill="#ff0000"/>
<polygon points="351.6,586.1 362.7,577.8 351.4,573.3 340.3,581.5" fill="#ff0000"/>
<polygon points="295.2,599.7 306.6,592.5 295.5,588.1 284.1,595.2" fill="#ff2800"/>
<polygon points="317.8,597.1 329.1,589.4 317.9,585.0 306.6,592.5" fill="#ff1800"/>
<polygon points="340.4,594.1 351.6,586.1 340.3,581.5 329.1,589.4" fill="#ff0600"/>
<polygon points="363.1,590.8 374.2,582.4 362.7,577.8 351.6,586.1" fill="#ff0000"/>
<polygon points="283.6,606.6 295.2,599.7 284.1,595.2 272.6,602.0" fill="#ff3f00"/>
<polygon points="306.4,604.4 317.8,597.1 306.6,592.5 295.2,599.7" fill="#ff3200"/>
<polygon points="329.1,601.9 340.4,594.1 329.1,589.4 317.8,597.1" fill="#ff2200"/>
<polygon points="351.9,599.0 363.1,590.8 351.6,586.1 340.4,594.1" fill="#ff1100"/>
<polygon points="374.7,595.8 385.8,587.2 374.2,582.4 363.1,590.8" fill="#ff0000"/>
<polygon points="272.0,613.2 283.6,606.6 272.6,602.0 260.9,608.4" fill="#ff5400"/>
<polygon points="294.8,611.5 306.4,604.4 295.2,599.7 283.6,606.6" fill="#ff4900"/>
<polygon points="317.7,609.4 329.1,601.9 317.8,597.1 306.4,604.4" fill="#ff3c00"/>
<polygon points="340.6,607.0 351.9,599.0 340.4,594.1 329.1,601.9" fill="#ff2d00"/>
<polygon points="363.5,604.2 374.7,595.8 363.1,590.8 351.9,599.0" fill="#ff1c00"/>
<polygon points="386.4,601.0 397.5,592.2 385.8,587.2 374.7,595.8" fill="#ff0900"/>
<polygon points="260.2,619.5 272.0,613.2 260.9,608.4 249.1,614.5" fill="#ff6700"/>
<polygon points="283.1,618.3 294.8,611.5 283.6,606.6 272.0,613.2" fill="#ff5f00"/>
<polygon points="306.1,616.7 317.7,609.4 306.4,604.4 294.8,611.5" fill="#ff5400"/>
<polygon points="329.1,614.7 340.6,607.0 329.1,601.9 317.7,609.4" fill="#ff4800"/>
<polygon points="352.1,612.3 363.5,604.2 351.9,599.0 340.6,607.0" fill="#ff3900"/>
<polygon points="375.2,609.6 386.4,601.0 374.7,595.8 363.5,604.2" fill="#ff2900"/>
<polygon points="398.3,606.4 409.4,597.4 397.5,592.2 386.4,601.0" fill="#ff1600"/>
<polygon points="248.2,625.5 260.2,619.5 249.1,614.5 237.2,620.3" fill="#ff7800"/>
<polygon points="271.3,624.8 283.1,618.3 272.0,613.2 260.2,619.5" fill="#ff7200"/>
<polygon points="294.5,623.7 306.1,616.7 294.8,611.5 283.1,618.3" fill="#ff6a00"/>
<polygon points="317.6,622.1 329.1,614.7 317.7,609.4 306.1,616.7" fill="#ff6000"/>
<polygon points="340.7,620.2 352.1,612.3 340.6,607.0 329.1,614.7" fill="#ff5400"/>
<polygon points="363.9,617.9 375.2,609.6 363.5,604.2 352.1,612.3" fill="#ff4600"/>
<polygon points="387.0,615.2 398.3,606.4 386.4,601.0 375.2,609.6" fill="#ff3600"/>
<polygon points="410.2,612.1 421.4,602.9 409.4,597.4 398.3,606.4" fill="#ff2400"/>
<polygon points="236.2,631.2 248.2,625.5 237.2,620.3 225.1,625.7" fill="#ff8600"/>
<polygon points="259.4,631.0 271.3,624.8 260.2,619.5 248.2,625.5" fill="#ff8400"/>
<polygon points="282.6,630.4 294.5,623.7 283.1,618.3 271.3,624.8" fill="#ff7e00"/>
<polygon points="305.9,629.3 317.6,622.1 306.1,616.7 294.5,623.7" fill="#ff7700"/>
<polygon points="329.1,627.9 340.7,620.2 329.1,614.7 317.6,622.1" fill="#ff6e00"/>
<polygon points="352.4,626.0 363.9,617.9 352.1,612.3 340.7,620.2" fill="#ff6200"/>
<polygon points="375.7,623.8 387.0,615.2 375.2,609.6 363.9,617.9" fill="#ff5400"/>
<polygon points="399.0,621.1 410.2,612.1 398.3,606.4 387.0,615.2" fill="#ff4400"/>
<polygon points="422.4,618.0 433.5,608.5 421.4,602.9 410.2,612.1" fill="#ff3200"/>
<polygon points="224.0,636.5 236.2,631.2 225.1,625.7 212.9,630.8" fill="#ff9300"/>
<polygon points="247.3,636.9 259.4,631.0 248.2,625.5 236.2,631.2" fill="#ff9300"/>
<polygon points="270.7,636.8 282.6,630.4 271.3,624.8 259.4,631.0" fill="#ff9100"/>
<polygon points="294.1,636.3 305.9,629.3 294.5,623.7 282.6,630.4" fill="#ff8c00"/>
<polygon points="317.5,635.3 329.1,627.9 317.6,622.1 305.9,629.3" fill="#ff8500"/>
<polygon points="340.8,633.9 352.4,626.0 340.7,620.2 329.1,627.9" fill="#ff7c00"/>
<polygon points="364.2,632.1 375.7,623.8 363.9,617.9 352.4,626.0" fill="#ff7100"/>
<polygon points="387.7,629.9 399.0,621.1 387.0,615.2 375.7,623.8" fill="#ff6300"/>
<polygon points="411.1,627.2 422.4,618.0 410.2,612.1 399.0,621.1" fill="#ff5400"/>
<polygon points="434.6,624.1 445.7,614.3 433.5,608.5 422.4,618.0" fill="#ff4100"/>
<polygon points="258.6,643.0 270.7,636.8 259.4,631.0 247.3,636.9" fill="#ffa100"/>
<polygon points="235.1,642.5 247.3,636.9 236.2,631.2 224.0,636.5" fill="#ffa100"/>
<polygon points="282.1,643.0 294.1,636.3 282.6,630.4 270.7,636.8" fill="#ff9f00"/>
<polygon points="211.6,641.6 224.0,636.5 212.9,630.8 200.6,635.6" fill="#ff9d00"/>
<polygon points="305.7,642.5 317.5,635.3 305.9,629.3 294.1,636.3" fill="#ff9b00"/>
<polygon points="329.2,641.6 340.8,633.9 329.1,627.9 317.5,635.3" fill="#ff9500"/>
<polygon points="352.7,640.3 364.2,632.1 352.4,626.0 340.8,633.9" fill="#ff8c00"/>
<polygon points="376.2,638.5 387.7,629.9 375.7,623.8 364.2,632.1" fill="#ff8100"/>
<polygon points="399.8,636.3 411.1,627.2 399.0,621.1 387.7,629.9" fill="#ff7400"/>
<polygon points="423.4,633.6 434.6,624.1 422.4,618.0 411.1,627.2" fill="#ff6400"/>
<polygon points="447.0,630.4 458.1,620.4 445.7,614.3 434.6,624.1" fill="#ff5100"/>
<polygon points="270.1,649.4 282.1,643.0 270.7,636.8 258.6,643.0" fill="#ffb100"/>
<polygon points="246.4,648.9 258.6,643.0 247.3,636.9 235.1,642.5" fill="#ffb000"/>
<polygon points="293.7,649.4 305.7,642.5 294.1,636.3 282.1,643.0" fill="#ffaf00"/>
<polygon points="222.8,647.9 235.1,642.5 224.0,636.5 211.6,641.6" fill="#ffac00"/>
<polygon points="317.3,649.0 329.2,641.6 317.5,635.3 305.7,642.5" fill="#ffab00"/>
<polygon points="199.1,646.3 211.6,641.6 200.6,635.6 188.1,640.0" fill="#ffa600"/>
<polygon points="341.0,648.2 352.7,640.3 340.8,633.9 329.2,641.6" fill="#ffa500"/>
<polygon points="364.6,646.9 376.2,638.5 364.2,632.1 352.7,640.3" fill="#ff9d00"/>
<polygon points="388.3,645.2 399.8,636.3 387.7,629.9 376.2,638.5" fill="#ff9200"/>
<polygon points="412.0,643.0 423.4,633.6 411.1,627.2 399.8,636.3" fill="#ff8500"/>
<polygon points="435.7,640.2 447.0,630.4 434.6,624.1 423.4,633.6" fill="#ff7500"/>
<polygon points="459.5,637.0 470.6,626.6 458.1,620.4 447.0,630.4" fill="#ff6200"/>
<polygon points="281.6,656.1 293.7,649.4 282.1,643.0 270.1,649.4" fill="#ffc200"/>
<polygon points="257.9,655.6 270.1,649.4 258.6,643.0 246.4,648.9" fill="#ffc000"/>
<polygon points="305.4,656.2 317.3,649.0 305.7,642.5 293.7,649.4" fill="#ffc000"/>
<polygon points="234.1,654.5 246.4,648.9 235.1,642.5 222.8,647.9" fill="#ffbc00"/>
<polygon points="329.2,655.9 341.0,648.2 329.2,641.6 317.3,649.0" fill="#ffbd00"/>
<polygon points="210.3,652.9 222.8,647.9 211.6,641.6 199.1,646.3" fill="#ffb600"/>
<polygon points="353.0,655.1 364.6,646.9 352.7,640.3 341.0,648.2" fill="#ffb700"/>
<polygon points="376.7,653.9 388.3,645.2 376.2,638.5 364.6,646.9" fill="#ffaf00"/>
<polygon points="186.4,650.7 199.1,646.3 188.1,640.0 175.4,644.1" fill="#ffac00"/>
<polygon points="400.6,652.1 412.0,643.0 399.8,636.3 388.3,645.2" fill="#ffa400"/>
<polygon points="424.4,649.9 435.7,640.2 423.4,633.6 412.0,643.0" fill="#ff9700"/>
<polygon points="448.3,647.2 459.5,637.0 447.0,630.4 435.7,640.2" fill="#ff8700"/>
<polygon points="472.2,643.8 483.3,633.1 470.6,626.6 459.5,637.0" fill="#ff7400"/>
<polygon points="293.3,663.2 305.4,656.2 293.7,649.4 281.6,656.1" fill="#ffd400"/>
<polygon points="317.2,663.4 329.2,655.9 317.3,649.0 305.4,656.2" fill="#ffd300"/>
<polygon points="269.4,662.6 281.6,656.1 270.1,649.4 257.9,655.6" fill="#ffd200"/>
<polygon points="341.1,663.1 353.0,655.1 341.0,648.2 329.2,655.9" fill="#ffd000"/>
<polygon points="245.5,661.5 257.9,655.6 246.4,648.9 234.1,654.5" fill="#ffce00"/>
<polygon points="365.1,662.3 376.7,653.9 364.6,646.9 353.0,655.1" fill="#ffca00"/>
<polygon points="221.6,659.8 234.1,654.5 222.8,647.9 210.3,652.9" fill="#ffc700"/>
<polygon points="389.0,661.1 400.6,652.1 388.3,645.2 376.7,653.9" fill="#ffc200"/>
<polygon points="197.6,657.6 210.3,652.9 199.1,646.3 186.4,650.7" fill="#ffbd00"/>
<polygon points="412.9,659.4 424.4,649.9 412.0,643.0 400.6,652.1" fill="#ffb800"/>
<polygon points="173.6,654.7 186.4,650.7 175.4,644.1 162.5,647.8" fill="#ffb000"/>
<polygon points="436.9,657.1 448.3,647.2 435.7,640.2 424.4,649.9" fill="#ffaa00"/>
<polygon points="460.9,654.3 472.2,643.8 459.5,637.0 448.3,647.2" fill="#ff9a00"/>
<polygon points="485.0,650.9 496.1,639.8 483.3,633.1 472.2,643.8" fill="#ff8600"/>
<polygon points="305.2,670.6 317.2,663.4 305.4,656.2 293.3,663.2" fill="#ffe700"/>
<polygon points="329.2,670.9 341.1,663.1 329.2,655.9 317.2,663.4" fill="#ffe700"/>
<polygon points="281.1,670.0 293.3,663.2 281.6,656.1 269.4,662.6" fill="#ffe600"/>
<polygon points="353.2,670.6 365.1,662.3 353.0,655.1 341.1,663.1" fill="#ffe400"/>
<polygon points="257.1,668.8 269.4,662.6 257.9,655.6 245.5,661.5" fill="#ffe100"/>
<polygon points="377.3,669.9 389.0,661.1 376.7,653.9 365.1,662.3" fill="#ffdf00"/>
<polygon points="233.0,667.1 245.5,661.5 234.1,654.5 221.6,659.8" fill="#ffda00"/>
<polygon points="401.3,668.7 412.9,659.4 400.6,652.1 389.0,661.1" fill="#ffd700"/>
<polygon points="208.9,664.9 221.6,659.8 210.3,652.9 197.6,657.6" fill="#ffd000"/>
<polygon points="425.4,666.9 436.9,657.1 424.4,649.9 412.9,659.4" fill="#ffcc00"/>
<polygon points="184.7,662.0 197.6,657.6 186.4,650.7 173.6,654.7" fill="#ffc300"/>
<polygon points="449.5,664.7 460.9,654.3 448.3,647.2 436.9,657.1" fill="#ffbf00"/>
<polygon points="160.6,658.4 173.6,654.7 162.5,647.8 149.5,651.1" fill="#ffb200"/>
<polygon points="473.7,661.8 485.0,650.9 472.2,643.8 460.9,654.3" fill="#ffae00"/>
<polygon points="497.9,658.2 509.1,646.7 496.1,639.8 485.0,650.9" fill="#ff9a00"/>
<polygon points="317.1,678.4 329.2,670.9 317.2,663.4 305.2,670.6" fill="#fffc00"/>
<polygon points="341.3,678.7 353.2,670.6 341.1,663.1 329.2,670.9" fill="#fffc00"/>
<polygon points="292.9,677.7 305.2,670.6 293.3,663.2 281.1,670.0" fill="#fffa00"/>
<polygon points="365.5,678.5 377.3,669.9 365.1,662.3 353.2,670.6" fill="#fff900"/>
<polygon points="268.8,676.5 281.1,670.0 269.4,662.6 257.1,668.8" fill="#fff600"/>
<polygon points="389.7,677.8 401.3,668.7 389.0,661.1 377.3,669.9" fill="#fff400"/>
<polygon points="244.5,674.7 257.1,668.8 245.5,661.5 233.0,667.1" fill="#ffee00"/>
<polygon points="413.8,676.6 425.4,666.9 412.9,659.4 401.3,668.7" fill="#ffec00"/>
<polygon points="220.3,672.5 233.0,667.1 221.6,659.8 208.9,664.9" fill="#ffe400"/>
<polygon points="438.1,674.8 449.5,664.7 436.9,657.1 425.4,666.9" fill="#ffe200"/>
<polygon points="196.0,669.6 208.9,664.9 197.6,657.6 184.7,662.0" fill="#ffd700"/>
<polygon points="462.3,672.5 473.7,661.8 460.9,654.3 449.5,664.7" fill="#ffd400"/>
<polygon points="171.7,666.1 184.7,662.0 173.6,654.7 160.6,658.4" fill="#ffc600"/>
<polygon points="486.6,669.5 497.9,658.2 485.0,650.9 473.7,661.8" fill="#ffc300"/>
<polygon points="147.4,661.8 160.6,658.4 149.5,651.1 136.3,654.1" fill="#ffb200"/>
<polygon points="511.0,665.7 522.1,653.8 509.1,646.7 497.9,658.2" fill="#ffae00"/>
<polygon points="329.2,686.5 341.3,678.7 329.2,670.9 317.1,678.4" fill="#ebff00"/>
<polygon points="353.5,686.8 365.5,678.5 353.2,670.6 341.3,678.7" fill="#ebff00"/>
<polygon points="304.9,685.8 317.1,678.4 305.2,670.6 292.9,677.7" fill="#eeff00"/>
<polygon points="377.8,686.7 389.7,677.8 377.3,669.9 365.5,678.5" fill="#eeff00"/>
<polygon points="280.6,684.5 292.9,677.7 281.1,670.0 268.8,676.5" fill="#f3ff00"/>
<polygon points="402.2,686.0 413.8,676.6 401.3,668.7 389.7,677.8" fill="#f3ff00"/>
<polygon points="256.2,682.7 268.8,676.5 257.1,668.8 244.5,674.7" fill="#faff00"/>
<polygon points="426.5,684.8 438.1,674.8 425.4,666.9 413.8,676.6" fill="#fbff00"/>
<polygon points="231.9,680.4 244.5,674.7 233.0,667.1 220.3,672.5" fill="#fffa00"/>
<polygon points="450.8,683.0 462.3,672.5 449.5,664.7 438.1,674.8" fill="#fff800"/>
<polygon points="207.5,677.5 220.3,672.5 208.9,664.9 196.0,669.6" fill="#ffec00"/>
<polygon points="475.2,680.6 486.6,669.5 473.7,661.8 462.3,672.5" fill="#ffea00"/>
<polygon points="183.0,674.0 196.0,669.6 184.7,662.0 171.7,666.1" fill="#ffdc00"/>
<polygon points="499.7,677.4 511.0,665.7 497.9,658.2 486.6,669.5" fill="#ffd900"/>
<polygon points="158.6,669.8 171.7,666.1 160.6,658.4 147.4,661.8" fill="#ffc700"/>
<polygon points="524.2,673.6 535.4,661.2 522.1,653.8 511.0,665.7" fill="#ffc300"/>
<polygon points="134.0,664.8 147.4,661.8 136.3,654.1 122.9,656.7" fill="#ffaf00"/>
<polygon points="341.4,695.0 353.5,686.8 341.3,678.7 329.2,686.5" fill="#d3ff00"/>
<polygon points="365.9,695.4 377.8,686.7 365.5,678.5 353.5,686.8" fill="#d3ff00"/>
<polygon points="317.0,694.2 329.2,686.5 317.1,678.4 304.9,685.8" fill="#d6ff00"/>
<polygon points="390.3,695.2 402.2,686.0 389.7,677.8 377.8,686.7" fill="#d6ff00"/>
<polygon points="292.5,692.9 304.9,685.8 292.9,677.7 280.6,684.5" fill="#dbff00"/>
<polygon points="414.8,694.5 426.5,684.8 413.8,676.6 402.2,686.0" fill="#dbff00"/>
<polygon points="268.1,691.1 280.6,684.5 268.8,676.5 256.2,682.7" fill="#e3ff00"/>
<polygon points="439.3,693.3 450.8,683.0 438.1,674.8 426.5,684.8" fill="#e3ff00"/>
<polygon points="243.6,688.7 256.2,682.7 244.5,674.7 231.9,680.4" fill="#eeff00"/>
<polygon points="463.8,691.5 475.2,680.6 462.3,672.5 450.8,683.0" fill="#eeff00"/>
<polygon points="219.1,685.8 231.9,680.4 220.3,672.5 207.5,677.5" fill="#fbff00"/>
<polygon points="488.3,689.0 499.7,677.4 486.6,669.5 475.2,680.6" fill="#fcff00"/>
<polygon points="194.5,682.3 207.5,677.5 196.0,669.6 183.0,674.0" fill="#fff300"/>
<polygon points="512.9,685.7 524.2,673.6 511.0,665.7 499.7,677.4" fill="#ffef00"/>
<polygon points="169.9,678.2 183.0,674.0 171.7,666.1 158.6,669.8" fill="#ffdf00"/>
<polygon points="537.5,681.6 548.7,668.8 535.4,661.2 524.2,673.6" fill="#ffd900"/>
<polygon points="145.2,673.2 158.6,669.8 147.4,661.8 134.0,664.8" fill="#ffc700"/>
<polygon points="120.4,667.5 134.0,664.8 122.9,656.7 109.4,658.9" fill="#ffab00"/>
<polygon points="378.4,704.2 390.3,695.2 377.8,686.7 365.9,695.4" fill="#baff00"/>
<polygon points="353.8,703.9 365.9,695.4 353.5,686.8 341.4,695.0" fill="#baff00"/>
<polygon points="329.2,703.0 341.4,695.0 329.2,686.5 317.0,694.2" fill="#bdff00"/>
<polygon points="403.0,704.1 414.8,694.5 402.2,686.0 390.3,695.2" fill="#bcff00"/>
<polygon points="304.6,701.6 317.0,694.2 304.9,685.8 292.5,692.9" fill="#c3ff00"/>
<polygon points="427.6,703.4 439.3,693.3 426.5,684.8 414.8,694.5" fill="#c1ff00"/>
<polygon points="280.0,699.8 292.5,692.9 280.6,684.5 268.1,691.1" fill="#cbff00"/>
<polygon points="452.2,702.2 463.8,691.5 450.8,683.0 439.3,693.3" fill="#c9ff00"/>
<polygon points="255.4,697.4 268.1,691.1 256.2,682.7 243.6,688.7" fill="#d5ff00"/>
<polygon points="476.8,700.3 488.3,689.0 475.2,680.6 463.8,691.5" fill="#d5ff00"/>
<polygon points="230.8,694.5 243.6,688.7 231.9,680.4 219.1,685.8" fill="#e3ff00"/>
<polygon points="501.5,697.7 512.9,685.7 499.7,677.4 488.3,689.0" fill="#e4ff00"/>
<polygon points="206.1,691.0 219.1,685.8 207.5,677.5 194.5,682.3" fill="#f3ff00"/>
<polygon points="526.2,694.3 537.5,681.6 524.2,673.6 512.9,685.7" fill="#f7ff00"/>
<polygon points="181.3,686.9 194.5,682.3 183.0,674.0 169.9,678.2" fill="#fff700"/>
<polygon points="551.0,690.0 562.3,676.6 548.7,668.8 537.5,681.6" fill="#ffef00"/>
<polygon points="156.5,682.0 169.9,678.2 158.6,669.8 145.2,673.2" fill="#ffe000"/>
<polygon points="131.6,676.3 145.2,673.2 134.0,664.8 120.4,667.5" fill="#ffc400"/>
<polygon points="391.0,713.5 403.0,704.1 390.3,695.2 378.4,704.2" fill="#9fff00"/>
<polygon points="366.3,713.1 378.4,704.2 365.9,695.4 353.8,703.9" fill="#a0ff00"/>
<polygon points="106.7,669.7 120.4,667.5 109.4,658.9 95.6,660.7" fill="#ffa400"/>
<polygon points="415.7,713.4 427.6,703.4 414.8,694.5 403.0,704.1" fill="#a2ff00"/>
<polygon points="341.6,712.2 353.8,703.9 341.4,695.0 329.2,703.0" fill="#a3ff00"/>
<polygon points="440.5,712.7 452.2,702.2 439.3,693.3 427.6,703.4" fill="#a7ff00"/>
<polygon points="316.9,710.8 329.2,703.0 317.0,694.2 304.6,701.6" fill="#a8ff00"/>
<polygon points="292.1,708.9 304.6,701.6 292.5,692.9 280.0,699.8" fill="#b1ff00"/>
<polygon points="465.2,711.4 476.8,700.3 463.8,691.5 452.2,702.2" fill="#afff00"/>
<polygon points="267.4,706.5 280.0,699.8 268.1,691.1 255.4,697.4" fill="#bbff00"/>
<polygon points="490.0,709.4 501.5,697.7 488.3,689.0 476.8,700.3" fill="#bbff00"/>
<polygon points="242.6,703.5 255.4,697.4 243.6,688.7 230.8,694.5" fill="#c9ff00"/>
<polygon points="514.8,706.7 526.2,694.3 512.9,685.7 501.5,697.7" fill="#caff00"/>
<polygon points="217.8,700.0 230.8,694.5 219.1,685.8 206.1,691.0" fill="#d9ff00"/>
<polygon points="539.7,703.1 551.0,690.0 537.5,681.6 526.2,694.3" fill="#deff00"/>
<polygon points="192.9,695.9 206.1,691.0 194.5,682.3 181.3,686.9" fill="#edff00"/>
<polygon points="564.7,698.6 575.9,684.7 562.3,676.6 551.0,690.0" fill="#f7ff00"/>
<polygon points="168.0,691.1 181.3,686.9 169.9,678.2 156.5,682.0" fill="#fffa00"/>
<polygon points="143.0,685.5 156.5,682.0 145.2,673.2 131.6,676.3" fill="#ffdf00"/>
<polygon points="403.8,723.1 415.7,713.4 403.0,704.1 391.0,713.5" fill="#83ff00"/>
<polygon points="378.9,722.7 391.0,713.5 378.4,704.2 366.3,713.1" fill="#84ff00"/>
<polygon points="428.6,723.0 440.5,712.7 427.6,703.4 415.7,713.4" fill="#86ff00"/>
<polygon points="117.9,679.1 131.6,676.3 120.4,667.5 106.7,669.7" fill="#ffc000"/>
<polygon points="354.1,721.7 366.3,713.1 353.8,703.9 341.6,712.2" fill="#87ff00"/>
<polygon points="453.5,722.3 465.2,711.4 452.2,702.2 440.5,712.7" fill="#8bff00"/>
<polygon points="329.3,720.3 341.6,712.2 329.2,703.0 316.9,710.8" fill="#8dff00"/>
<polygon points="304.4,718.3 316.9,710.8 304.6,701.6 292.1,708.9" fill="#95ff00"/>
<polygon points="478.4,720.9 490.0,709.4 476.8,700.3 465.2,711.4" fill="#93ff00"/>
<polygon points="279.5,715.9 292.1,708.9 280.0,699.8 267.4,706.5" fill="#a0ff00"/>
<polygon points="503.3,718.8 514.8,706.7 501.5,697.7 490.0,709.4" fill="#a0ff00"/>
<polygon points="92.7,671.7 106.7,669.7 95.6,660.7 81.6,662.2" fill="#ff9c00"/>
<polygon points="254.6,712.9 267.4,706.5 255.4,697.4 242.6,703.5" fill="#aeff00"/>
<polygon points="528.3,716.0 539.7,703.1 526.2,694.3 514.8,706.7" fill="#b0ff00"/>
<polygon points="229.6,709.4 242.6,703.5 230.8,694.5 217.8,700.0" fill="#beff00"/>
<polygon points="553.4,712.2 564.7,698.6 551.0,690.0 539.7,703.1" fill="#c5ff00"/>
<polygon points="204.6,705.3 217.8,700.0 206.1,691.0 192.9,695.9" fill="#d2ff00"/>
<polygon points="578.5,707.5 589.7,693.0 575.9,684.7 564.7,698.6" fill="#dfff00"/>
<polygon points="179.6,700.5 192.9,695.9 181.3,686.9 168.0,691.1" fill="#e9ff00"/>
<polygon points="154.5,695.0 168.0,691.1 156.5,682.0 143.0,685.5" fill="#fffb00"/>
<polygon points="416.7,733.1 428.6,723.0 415.7,713.4 403.8,723.1" fill="#66ff00"/>
<polygon points="391.7,732.6 403.8,723.1 391.0,713.5 378.9,722.7" fill="#67ff00"/>
<polygon points="441.7,733.0 453.5,722.3 440.5,712.7 428.6,723.0" fill="#68ff00"/>
<polygon points="129.3,688.7 143.0,685.5 131.6,676.3 117.9,679.1" fill="#ffdc00"/>
<polygon points="366.7,731.6 378.9,722.7 366.3,713.1 354.1,721.7" fill="#6aff00"/>
<polygon points="466.7,732.2 478.4,720.9 465.2,711.4 453.5,722.3" fill="#6eff00"/>
<polygon points="341.8,730.1 354.1,721.7 341.6,712.2 329.3,720.3" fill="#70ff00"/>
<polygon points="316.8,728.2 329.3,720.3 316.9,710.8 304.4,718.3" fill="#79ff00"/>
<polygon points="491.7,730.8 503.3,718.8 490.0,709.4 478.4,720.9" fill="#77ff00"/>
<polygon points="291.7,725.7 304.4,718.3 292.1,708.9 279.5,715.9" fill="#84ff00"/>
<polygon points="516.8,728.6 528.3,716.0 514.8,706.7 503.3,718.8" fill="#83ff00"/>
<polygon points="104.0,681.5 117.9,679.1 106.7,669.7 92.7,671.7" fill="#ffb900"/>
<polygon points="266.7,722.7 279.5,715.9 267.4,706.5 254.6,712.9" fill="#91ff00"/>
<polygon points="541.9,725.6 553.4,712.2 539.7,703.1 528.3,716.0" fill="#95ff00"/>
<polygon points="241.6,719.1 254.6,712.9 242.6,703.5 229.6,709.4" fill="#a2ff00"/>
<polygon points="567.1,721.6 578.5,707.5 564.7,698.6 553.4,712.2" fill="#aaff00"/>
<polygon points="216.5,715.0 229.6,709.4 217.8,700.0 204.6,705.3" fill="#b5ff00"/>
<polygon points="78.5,673.2 92.7,671.7 81.6,662.2 67.4,663.2" fill="#ff9100"/>
<polygon points="592.4,716.6 603.7,701.6 589.7,693.0 578.5,707.5" fill="#c6ff00"/>
<polygon points="191.3,710.3 204.6,705.3 192.9,695.9 179.6,700.5" fill="#ccff00"/>
<polygon points="166.1,704.8 179.6,700.5 168.0,691.1 154.5,695.0" fill="#e6ff00"/>
<polygon points="429.7,743.4 441.7,733.0 428.6,723.0 416.7,733.1" fill="#47ff00"/>
<polygon points="404.6,743.0 416.7,733.1 403.8,723.1 391.7,732.6" fill="#48ff00"/>
<polygon points="454.9,743.3 466.7,732.2 453.5,722.3 441.7,733.0" fill="#4aff00"/>
<polygon points="379.5,741.9 391.7,732.6 378.9,722.7 366.7,731.6" fill="#4bff00"/>
<polygon points="140.7,698.6 154.5,695.0 143.0,685.5 129.3,688.7" fill="#fffa00"/>
<polygon points="480.0,742.5 491.7,730.8 478.4,720.9 466.7,732.2" fill="#4fff00"/>
<polygon points="354.4,740.4 366.7,731.6 354.1,721.7 341.8,730.1" fill="#52ff00"/>
<polygon points="329.3,738.4 341.8,730.1 329.3,720.3 316.8,728.2" fill="#5aff00"/>
<polygon points="505.2,741.0 516.8,728.6 503.3,718.8 491.7,730.8" fill="#59ff00"/>
<polygon points="304.1,735.8 316.8,728.2 304.4,718.3 291.7,725.7" fill="#66ff00"/>
<polygon points="530.4,738.7 541.9,725.6 528.3,716.0 516.8,728.6" fill="#66ff00"/>
<polygon points="115.3,691.5 129.3,688.7 117.9,679.1 104.0,681.5" fill="#ffd800"/>
<polygon points="278.9,732.8 291.7,725.7 279.5,715.9 266.7,722.7" fill="#74ff00"/>
<polygon points="555.7,735.5 567.1,721.6 553.4,712.2 541.9,725.6" fill="#78ff00"/>
<polygon points="253.7,729.2 266.7,722.7 254.6,712.9 241.6,719.1" fill="#84ff00"/>
<polygon points="581.1,731.4 592.4,716.6 578.5,707.5 567.1,721.6" fill="#8fff00"/>
<polygon points="89.8,683.5 104.0,681.5 92.7,671.7 78.5,673.2" fill="#ffb100"/>
<polygon points="228.5,725.1 241.6,719.1 229.6,709.4 216.5,715.0" fill="#98ff00"/>
<polygon points="203.2,720.4 216.5,715.0 204.6,705.3 191.3,710.3" fill="#aeff00"/>
<polygon points="64.2,674.3 78.5,673.2 67.4,663.2 53.0,663.8" fill="#ff8400"/>
<polygon points="177.8,715.0 191.3,710.3 179.6,700.5 166.1,704.8" fill="#c8ff00"/>
<polygon points="442.9,754.2 454.9,743.3 441.7,733.0 429.7,743.4" fill="#27ff00"/>
<polygon points="417.7,753.7 429.7,743.4 416.7,733.1 404.6,743.0" fill="#28ff00"/>
<polygon points="468.2,754.0 480.0,742.5 466.7,732.2 454.9,743.3" fill="#2aff00"/>
<polygon points="392.4,752.6 404.6,743.0 391.7,732.6 379.5,741.9" fill="#2cff00"/>
<polygon points="152.4,708.9 166.1,704.8 154.5,695.0 140.7,698.6" fill="#e5ff00"/>
<polygon points="493.5,753.2 505.2,741.0 491.7,730.8 480.0,742.5" fill="#30ff00"/>
<polygon points="367.2,751.1 379.5,741.9 366.7,731.6 354.4,740.4" fill="#32ff00"/>
<polygon points="341.9,749.0 354.4,740.4 341.8,730.1 329.3,738.4" fill="#3bff00"/>
<polygon points="518.8,751.6 530.4,738.7 516.8,728.6 505.2,741.0" fill="#39ff00"/>
<polygon points="316.6,746.4 329.3,738.4 316.8,728.2 304.1,735.8" fill="#46ff00"/>
<polygon points="544.2,749.2 555.7,735.5 541.9,725.6 530.4,738.7" fill="#47ff00"/>
<polygon points="126.8,701.9 140.7,698.6 129.3,688.7 115.3,691.5" fill="#fff700"/>
<polygon points="291.3,743.3 304.1,735.8 291.7,725.7 278.9,732.8" fill="#54ff00"/>
<polygon points="569.6,745.8 581.1,731.4 567.1,721.6 555.7,735.5" fill="#5aff00"/>
<polygon points="266.0,739.7 278.9,732.8 266.7,722.7 253.7,729.2" fill="#65ff00"/>
<polygon points="101.2,694.1 115.3,691.5 104.0,681.5 89.8,683.5" fill="#ffd100"/>
<polygon points="240.6,735.6 253.7,729.2 241.6,719.1 228.5,725.1" fill="#78ff00"/>
<polygon points="215.2,730.9 228.5,725.1 216.5,715.0 203.2,720.4" fill="#8fff00"/>
<polygon points="75.4,685.2 89.8,683.5 78.5,673.2 64.2,674.3" fill="#ffa600"/>
<polygon points="189.7,725.5 203.2,720.4 191.3,710.3 177.8,715.0" fill="#a8ff00"/>
<polygon points="456.2,765.3 468.2,754.0 454.9,743.3 442.9,754.2" fill="#06ff00"/>
<polygon points="430.9,764.8 442.9,754.2 429.7,743.4 417.7,753.7" fill="#07ff00"/>
<polygon points="481.6,765.1 493.5,753.2 480.0,742.5 468.2,754.0" fill="#08ff00"/>
<polygon points="405.5,763.7 417.7,753.7 404.6,743.0 392.4,752.6" fill="#0aff00"/>
<polygon points="164.1,719.5 177.8,715.0 166.1,704.8 152.4,708.9" fill="#c5ff00"/>
<polygon points="507.1,764.2 518.8,751.6 505.2,741.0 493.5,753.2" fill="#0fff00"/>
<polygon points="380.1,762.1 392.4,752.6 379.5,741.9 367.2,751.1" fill="#11ff00"/>
<polygon points="354.7,760.0 367.2,751.1 354.4,740.4 341.9,749.0" fill="#1aff00"/>
<polygon points="532.5,762.6 544.2,749.2 530.4,738.7 518.8,751.6" fill="#19ff00"/>
<polygon points="329.3,757.4 341.9,749.0 329.3,738.4 316.6,746.4" fill="#26ff00"/>
<polygon points="558.1,760.0 569.6,745.8 555.7,735.5 544.2,749.2" fill="#28ff00"/>
<polygon points="138.5,712.7 152.4,708.9 140.7,698.6 126.8,701.9" fill="#e6ff00"/>
<polygon points="303.9,754.2 316.6,746.4 304.1,735.8 291.3,743.3" fill="#34ff00"/>
<polygon points="278.4,750.6 291.3,743.3 278.9,732.8 266.0,739.7" fill="#45ff00"/>
<polygon points="112.7,705.0 126.8,701.9 115.3,691.5 101.2,694.1" fill="#fff300"/>
<polygon points="252.9,746.4 266.0,739.7 253.7,729.2 240.6,735.6" fill="#58ff00"/>
<polygon points="227.3,741.7 240.6,735.6 228.5,725.1 215.2,730.9" fill="#6eff00"/>
<polygon points="86.8,696.3 101.2,694.1 89.8,683.5 75.4,685.2" fill="#ffc900"/>
<polygon points="201.7,736.4 215.2,730.9 203.2,720.4 189.7,725.5" fill="#88ff00"/>
<polygon points="469.7,776.8 481.6,765.1 468.2,754.0 456.2,765.3" fill="#00ff1d"/>
<polygon points="444.2,776.3 456.2,765.3 442.9,754.2 430.9,764.8" fill="#00ff1c"/>
<polygon points="495.2,776.6 507.1,764.2 493.5,753.2 481.6,765.1" fill="#00ff1a"/>
<polygon points="418.7,775.2 430.9,764.8 417.7,753.7 405.5,763.7" fill="#00ff18"/>
<polygon points="176.0,730.4 189.7,725.5 177.8,715.0 164.1,719.5" fill="#a4ff00"/>
<polygon points="520.8,775.6 532.5,762.6 518.8,751.6 507.1,764.2" fill="#00ff13"/>
<polygon points="393.2,773.6 405.5,763.7 392.4,752.6 380.1,762.1" fill="#00ff12"/>
<polygon points="367.6,771.4 380.1,762.1 367.2,751.1 354.7,760.0" fill="#00ff08"/>
<polygon points="546.4,773.9 558.1,760.0 544.2,749.2 532.5,762.6" fill="#00ff09"/>
<polygon points="342.1,768.7 354.7,760.0 341.9,749.0 329.3,757.4" fill="#04ff00"/>
<polygon points="150.2,723.7 164.1,719.5 152.4,708.9 138.5,712.7" fill="#c4ff00"/>
<polygon points="316.5,765.5 329.3,757.4 316.6,746.4 303.9,754.2" fill="#12ff00"/>
<polygon points="290.9,761.8 303.9,754.2 291.3,743.3 278.4,750.6" fill="#23ff00"/>
<polygon points="124.4,716.1 138.5,712.7 126.8,701.9 112.7,705.0" fill="#e9ff00"/>
<polygon points="265.3,757.6 278.4,750.6 266.0,739.7 252.9,746.4" fill="#36ff00"/>
<polygon points="239.6,752.9 252.9,746.4 240.6,735.6 227.3,741.7" fill="#4dff00"/>
<polygon points="98.4,707.6 112.7,705.0 101.2,694.1 86.8,696.3" fill="#ffed00"/>
<polygon points="213.8,747.6 227.3,741.7 215.2,730.9 201.7,736.4" fill="#66ff00"/>
<polygon points="483.3,788.7 495.2,776.6 481.6,765.1 469.7,776.8" fill="#00ff41"/>
<polygon points="457.6,788.2 469.7,776.8 456.2,765.3 444.2,776.3" fill="#00ff40"/>
<polygon points="509.0,788.5 520.8,775.6 507.1,764.2 495.2,776.6" fill="#00ff3e"/>
<polygon points="432.0,787.1 444.2,776.3 430.9,764.8 418.7,775.2" fill="#00ff3d"/>
<polygon points="406.3,785.4 418.7,775.2 405.5,763.7 393.2,773.6" fill="#00ff36"/>
<polygon points="188.0,741.7 201.7,736.4 189.7,725.5 176.0,730.4" fill="#82ff00"/>
<polygon points="534.7,787.4 546.4,773.9 532.5,762.6 520.8,775.6" fill="#00ff37"/>
<polygon points="380.7,783.2 393.2,773.6 380.1,762.1 367.6,771.4" fill="#00ff2c"/>
<polygon points="355.0,780.4 367.6,771.4 354.7,760.0 342.1,768.7" fill="#00ff20"/>
<polygon points="162.1,735.0 176.0,730.4 164.1,719.5 150.2,723.7" fill="#a2ff00"/>
<polygon points="329.3,777.2 342.1,768.7 329.3,757.4 316.5,765.5" fill="#00ff11"/>
<polygon points="303.6,773.5 316.5,765.5 303.9,754.2 290.9,761.8" fill="#00ff00"/>
<polygon points="136.1,727.6 150.2,723.7 138.5,712.7 124.4,716.1" fill="#c5ff00"/>
<polygon points="277.8,769.2 290.9,761.8 278.4,750.6 265.3,757.6" fill="#13ff00"/>
<polygon points="252.0,764.5 265.3,757.6 252.9,746.4 239.6,752.9" fill="#2aff00"/>
<polygon points="110.0,719.3 124.4,716.1 112.7,705.0 98.4,707.6" fill="#edff00"/>
<polygon points="226.1,759.2 239.6,752.9 227.3,741.7 213.8,747.6" fill="#43ff00"/>
<polygon points="497.0,801.0 509.0,788.5 495.2,776.6 483.3,788.7" fill="#00ff66"/>
<polygon points="471.2,800.6 483.3,788.7 469.7,776.8 457.6,788.2" fill="#00ff66"/>
<polygon points="522.8,800.7 534.7,787.4 520.8,775.6 509.0,788.5" fill="#00ff63"/>
<polygon points="445.5,799.4 457.6,788.2 444.2,776.3 432.0,787.1" fill="#00ff62"/>
<polygon points="419.7,797.7 432.0,787.1 418.7,775.2 406.3,785.4" fill="#00ff5b"/>
<polygon points="200.2,753.3 213.8,747.6 201.7,736.4 188.0,741.7" fill="#5fff00"/>
<polygon points="393.9,795.4 406.3,785.4 393.2,773.6 380.7,783.2" fill="#00ff51"/>
<polygon points="368.1,792.6 380.7,783.2 367.6,771.4 355.0,780.4" fill="#00ff45"/>
<polygon points="174.2,746.7 188.0,741.7 176.0,730.4 162.1,735.0" fill="#7eff00"/>
<polygon points="342.3,789.3 355.0,780.4 342.1,768.7 329.3,777.2" fill="#00ff36"/>
<polygon points="316.4,785.5 329.3,777.2 316.5,765.5 303.6,773.5" fill="#00ff25"/>
<polygon points="148.0,739.4 162.1,735.0 150.2,723.7 136.1,727.6" fill="#a1ff00"/>
<polygon points="290.5,781.2 303.6,773.5 290.9,761.8 277.8,769.2" fill="#00ff11"/>
<polygon points="264.5,776.4 277.8,769.2 265.3,757.6 252.0,764.5" fill="#06ff00"/>
<polygon points="121.8,731.2 136.1,727.6 124.4,716.1 110.0,719.3" fill="#c8ff00"/>
<polygon points="238.5,771.1 252.0,764.5 239.6,752.9 226.1,759.2" fill="#1fff00"/>
<polygon points="485.0,813.3 497.0,801.0 483.3,788.7 471.2,800.6" fill="#00ff8d"/>
<polygon points="510.9,813.7 522.8,800.7 509.0,788.5 497.0,801.0" fill="#00ff8d"/>
<polygon points="459.1,812.1 471.2,800.6 457.6,788.2 445.5,799.4" fill="#00ff89"/>
<polygon points="433.1,810.4 445.5,799.4 432.0,787.1 419.7,797.7" fill="#00ff82"/>
<polygon points="212.5,765.2 226.1,759.2 213.8,747.6 200.2,753.3" fill="#3aff00"/>
<polygon points="407.2,808.0 419.7,797.7 406.3,785.4 393.9,795.4" fill="#00ff78"/>
<polygon points="381.3,805.1 393.9,795.4 380.7,783.2 368.1,792.6" fill="#00ff6b"/>
<polygon points="186.3,758.7 200.2,753.3 188.0,741.7 174.2,746.7" fill="#59ff00"/>
<polygon points="355.3,801.8 368.1,792.6 355.0,780.4 342.3,789.3" fill="#00ff5c"/>
<polygon points="329.3,797.9 342.3,789.3 329.3,777.2 316.4,785.5" fill="#00ff4a"/>
<polygon points="160.1,751.5 174.2,746.7 162.1,735.0 148.0,739.4" fill="#7cff00"/>
<polygon points="303.3,793.6 316.4,785.5 303.6,773.5 290.5,781.2" fill="#00ff36"/>
<polygon points="277.2,788.7 290.5,781.2 277.8,769.2 264.5,776.4" fill="#00ff20"/>
<polygon points="133.8,743.5 148.0,739.4 136.1,727.6 121.8,731.2" fill="#a2ff00"/>
<polygon points="251.1,783.4 264.5,776.4 252.0,764.5 238.5,771.1" fill="#00ff07"/>
<polygon points="498.8,826.4 510.9,813.7 497.0,801.0 485.0,813.3" fill="#00ffb5"/>
<polygon points="472.8,825.3 485.0,813.3 471.2,800.6 459.1,812.1" fill="#00ffb1"/>
<polygon points="446.7,823.5 459.1,812.1 445.5,799.4 433.1,810.4" fill="#00ffaa"/>
<polygon points="224.9,777.5 238.5,771.1 226.1,759.2 212.5,765.2" fill="#15ff00"/>
<polygon points="420.7,821.1 433.1,810.4 419.7,797.7 407.2,808.0" fill="#00ffa0"/>
<polygon points="394.6,818.1 407.2,808.0 393.9,795.4 381.3,805.1" fill="#00ff93"/>
<polygon points="368.5,814.7 381.3,805.1 368.1,792.6 355.3,801.8" fill="#00ff84"/>
<polygon points="198.6,771.0 212.5,765.2 200.2,753.3 186.3,758.7" fill="#34ff00"/>
<polygon points="342.4,810.7 355.3,801.8 342.3,789.3 329.3,797.9" fill="#00ff72"/>
<polygon points="172.3,763.8 186.3,758.7 174.2,746.7 160.1,751.5" fill="#55ff00"/>
<polygon points="316.3,806.3 329.3,797.9 316.4,785.5 303.3,793.6" fill="#00ff5d"/>
<polygon points="290.1,801.4 303.3,793.6 290.5,781.2 277.2,788.7" fill="#00ff47"/>
<polygon points="145.8,756.0 160.1,751.5 148.0,739.4 133.8,743.5" fill="#7bff00"/>
<polygon points="263.8,796.0 277.2,788.7 264.5,776.4 251.1,783.4" fill="#00ff2d"/>
<polygon points="486.7,838.8 498.8,826.4 485.0,813.3 472.8,825.3" fill="#00ffdb"/>
<polygon points="460.5,837.0 472.8,825.3 459.1,812.1 446.7,823.5" fill="#00ffd4"/>
<polygon points="434.3,834.5 446.7,823.5 433.1,810.4 420.7,821.1" fill="#00ffc9"/>
<polygon points="237.5,790.1 251.1,783.4 238.5,771.1 224.9,777.5" fill="#00ff12"/>
<polygon points="408.1,831.5 420.7,821.1 407.2,808.0 394.6,818.1" fill="#00ffbc"/>
<polygon points="381.9,828.0 394.6,818.1 381.3,805.1 368.5,814.7" fill="#00ffac"/>
<polygon points="211.1,783.6 224.9,777.5 212.5,765.2 198.6,771.0" fill="#0dff00"/>
<polygon points="355.6,823.9 368.5,814.7 355.3,801.8 342.4,810.7" fill="#00ff9a"/>
<polygon points="184.6,776.6 198.6,771.0 186.3,758.7 172.3,763.8" fill="#2eff00"/>
<polygon points="329.4,819.5 342.4,810.7 329.3,797.9 316.3,806.3" fill="#00ff85"/>
<polygon points="303.0,814.5 316.3,806.3 303.3,793.6 290.1,801.4" fill="#00ff6f"/>
<polygon points="158.0,768.8 172.3,763.8 160.1,751.5 145.8,756.0" fill="#53ff00"/>
<polygon points="276.6,809.0 290.1,801.4 277.2,788.7 263.8,796.0" fill="#00ff55"/>
<polygon points="474.4,850.9 486.7,838.8 472.8,825.3 460.5,837.0" fill="#00ffff"/>
<polygon points="448.1,848.4 460.5,837.0 446.7,823.5 434.3,834.5" fill="#00fff4"/>
<polygon points="250.2,803.1 263.8,796.0 251.1,783.4 237.5,790.1" fill="#00ff39"/>
<polygon points="421.7,845.3 434.3,834.5 420.7,821.1 408.1,831.5" fill="#00ffe7"/>
<polygon points="395.4,841.7 408.1,831.5 394.6,818.1 381.9,828.0" fill="#00ffd7"/>
<polygon points="223.7,796.6 237.5,790.1 224.9,777.5 211.1,783.6" fill="#00ff1b"/>
<polygon points="369.0,837.6 381.9,828.0 368.5,814.7 355.6,823.9" fill="#00ffc4"/>
<polygon points="197.1,789.6 211.1,783.6 198.6,771.0 184.6,776.6" fill="#06ff00"/>
<polygon points="342.6,833.0 355.6,823.9 342.4,810.7 329.4,819.5" fill="#00ffaf"/>
<polygon points="316.1,828.0 329.4,819.5 316.3,806.3 303.0,814.5" fill="#00ff98"/>
<polygon points="170.4,781.9 184.6,776.6 172.3,763.8 158.0,768.8" fill="#2aff00"/>
<polygon points="289.6,822.4 303.0,814.5 290.1,801.4 276.6,809.0" fill="#00ff7e"/>
<polygon points="461.9,862.7 474.4,850.9 460.5,837.0 448.1,848.4" fill="#00defa"/>
<polygon points="263.0,816.5 276.6,809.0 263.8,796.0 250.2,803.1" fill="#00ff62"/>
<polygon points="435.5,859.6 448.1,848.4 434.3,834.5 421.7,845.3" fill="#00ebfc"/>
<polygon points="409.0,855.8 421.7,845.3 408.1,831.5 395.4,841.7" fill="#00fcff"/>
<polygon points="236.4,810.0 250.2,803.1 237.5,790.1 223.7,796.6" fill="#00ff44"/>
<polygon points="382.5,851.6 395.4,841.7 381.9,828.0 369.0,837.6" fill="#00ffef"/>
<polygon points="356.0,846.9 369.0,837.6 355.6,823.9 342.6,833.0" fill="#00ffda"/>
<polygon points="209.7,802.9 223.7,796.6 211.1,783.6 197.1,789.6" fill="#00ff23"/>
<polygon points="329.4,841.8 342.6,833.0 329.4,819.5 316.1,828.0" fill="#00ffc2"/>
<polygon points="182.9,795.3 197.1,789.6 184.6,776.6 170.4,781.9" fill="#01ff00"/>
<polygon points="302.7,836.2 316.1,828.0 303.0,814.5 289.6,822.4" fill="#00ffa8"/>
<polygon points="276.0,830.2 289.6,822.4 276.6,809.0 263.0,816.5" fill="#00ff8c"/>
<polygon points="449.4,874.2 461.9,862.7 448.1,848.4 435.5,859.6" fill="#00bef5"/>
<polygon points="422.8,870.4 435.5,859.6 421.7,845.3 409.0,855.8" fill="#00cff7"/>
<polygon points="249.3,823.6 263.0,816.5 250.2,803.1 236.4,810.0" fill="#00ff6e"/>
<polygon points="396.2,866.1 409.0,855.8 395.4,841.7 382.5,851.6" fill="#00e2fb"/>
<polygon points="369.5,861.3 382.5,851.6 369.0,837.6 356.0,846.9" fill="#00f8fe"/>
<polygon points="222.4,816.6 236.4,810.0 223.7,796.6 209.7,802.9" fill="#00ff4d"/>
<polygon points="342.8,856.1 356.0,846.9 342.6,833.0 329.4,841.8" fill="#00ffee"/>
<polygon points="195.5,809.0 209.7,802.9 197.1,789.6 182.9,795.3" fill="#00ff29"/>
<polygon points="316.0,850.4 329.4,841.8 316.1,828.0 302.7,836.2" fill="#00ffd4"/>
<polygon points="289.2,844.3 302.7,836.2 289.6,822.4 276.0,830.2" fill="#00ffb7"/>
<polygon points="436.7,885.4 449.4,874.2 435.5,859.6 422.8,870.4" fill="#00a1f0"/>
<polygon points="262.3,837.7 276.0,830.2 263.0,816.5 249.3,823.6" fill="#00ff99"/>
<polygon points="409.9,881.0 422.8,870.4 409.0,855.8 396.2,866.1" fill="#00b4f3"/>
<polygon points="383.1,876.1 396.2,866.1 382.5,851.6 369.5,861.3" fill="#00cbf7"/>
<polygon points="235.3,830.6 249.3,823.6 236.4,810.0 222.4,816.6" fill="#00ff78"/>
<polygon points="356.3,870.7 369.5,861.3 356.0,846.9 342.8,856.1" fill="#00e3fb"/>
<polygon points="208.2,823.0 222.4,816.6 209.7,802.9 195.5,809.0" fill="#00ff54"/>
<polygon points="329.4,864.9 342.8,856.1 329.4,841.8 316.0,850.4" fill="#00feff"/>
<polygon points="302.4,858.7 316.0,850.4 302.7,836.2 289.2,844.3" fill="#00ffe3"/>
<polygon points="275.4,852.1 289.2,844.3 276.0,830.2 262.3,837.7" fill="#00ffc5"/>
<polygon points="423.9,896.3 436.7,885.4 422.8,870.4 409.9,881.0" fill="#0085ec"/>
<polygon points="396.9,891.3 409.9,881.0 396.2,866.1 383.1,876.1" fill="#009cef"/>
<polygon points="248.3,844.9 262.3,837.7 249.3,823.6 235.3,830.6" fill="#00ffa4"/>
<polygon points="370.0,885.8 383.1,876.1 369.5,861.3 356.3,870.7" fill="#00b5f3"/>
<polygon points="221.1,837.3 235.3,830.6 222.4,816.6 208.2,823.0" fill="#00ff80"/>
<polygon points="342.9,879.9 356.3,870.7 342.8,856.1 329.4,864.9" fill="#00d0f8"/>
<polygon points="315.9,873.5 329.4,864.9 316.0,850.4 302.4,858.7" fill="#00edfc"/>
<polygon points="288.7,866.8 302.4,858.7 289.2,844.3 275.4,852.1" fill="#00fff2"/>
<polygon points="410.9,906.9 423.9,896.3 409.9,881.0 396.9,891.3" fill="#006ce8"/>
<polygon points="261.5,859.6 275.4,852.1 262.3,837.7 248.3,844.9" fill="#00ffd0"/>
<polygon points="383.8,901.3 396.9,891.3 383.1,876.1 370.0,885.8" fill="#0086ec"/>
<polygon points="234.2,852.0 248.3,844.9 235.3,830.6 221.1,837.3" fill="#00ffad"/>
<polygon points="356.6,895.2 370.0,885.8 356.3,870.7 342.9,879.9" fill="#00a1f0"/>
<polygon points="329.4,888.8 342.9,879.9 329.4,864.9 315.9,873.5" fill="#00bff5"/>
<polygon points="302.1,881.9 315.9,873.5 302.4,858.7 288.7,866.8" fill="#00defa"/>
<polygon points="274.8,874.6 288.7,866.8 275.4,852.1 261.5,859.6" fill="#00fffe"/>
<polygon points="397.7,917.1 410.9,906.9 396.9,891.3 383.8,901.3" fill="#0055e4"/>
<polygon points="247.3,866.9 261.5,859.6 248.3,844.9 234.2,852.0" fill="#00ffda"/>
<polygon points="370.5,910.9 383.8,901.3 370.0,885.8 356.6,895.2" fill="#0071e9"/>
<polygon points="343.1,904.3 356.6,895.2 342.9,879.9 329.4,888.8" fill="#008fed"/>
<polygon points="315.7,897.4 329.4,888.8 315.9,873.5 302.1,881.9" fill="#00aff3"/>
<polygon points="288.2,890.0 302.1,881.9 288.7,866.8 274.8,874.6" fill="#00d1f8"/>
<polygon points="260.7,882.2 274.8,874.6 261.5,859.6 247.3,866.9" fill="#00f5fd"/>
<polygon points="384.4,927.1 397.7,917.1 383.8,901.3 370.5,910.9" fill="#0040e1"/>
<polygon points="357.0,920.3 370.5,910.9 356.6,895.2 343.1,904.3" fill="#005fe6"/>
<polygon points="329.4,913.2 343.1,904.3 329.4,888.8 315.7,897.4" fill="#007feb"/>
<polygon points="301.8,905.7 315.7,897.4 302.1,881.9 288.2,890.0" fill="#00a2f0"/>
<polygon points="274.1,897.8 288.2,890.0 274.8,874.6 260.7,882.2" fill="#00c6f6"/>
<polygon points="371.0,936.7 384.4,927.1 370.5,910.9 357.0,920.3" fill="#002dde"/>
<polygon points="343.3,929.4 357.0,920.3 343.1,904.3 329.4,913.2" fill="#004ee3"/>
<polygon points="315.6,921.8 329.4,913.2 315.7,897.4 301.8,905.7" fill="#0071e9"/>
<polygon points="287.8,913.8 301.8,905.7 288.2,890.0 274.1,897.8" fill="#0096ef"/>
<polygon points="357.3,946.0 371.0,936.7 357.0,920.3 343.3,929.4" fill="#001cdb"/>
<polygon points="329.5,938.2 343.3,929.4 329.4,913.2 315.6,921.8" fill="#0040e1"/>
<polygon points="301.5,930.0 315.6,921.8 301.8,905.7 287.8,913.8" fill="#0065e7"/>
<polygon points="343.5,955.0 357.3,946.0 343.3,929.4 329.5,938.2" fill="#000ed9"/>
<polygon points="315.4,946.7 329.5,938.2 315.6,921.8 301.5,930.0" fill="#0033df"/>
<polygon points="329.5,963.6 343.5,955.0 329.5,938.2 315.4,946.7" fill="#0001d7"/>
</g></g>
<g class="mesh">
<polyline points="329.5,938.2 315.6,921.8 301.8,905.7 288.2,890.0 274.8,874.6 261.5,859.6 248.3,844.9 235.3,830.6 222.4,816.6 209.7,802.9 197.1,789.6 184.6,776.6 172.3,763.8 160.1,751.5 148.0,739.4 136.1,727.6 124.4,716.1 112.7,705.0 101.2,694.1 89.8,683.5 78.5,673.2"/>
<polyline points="329.5,938.2 343.3,929.4 357.0,920.3 370.5,910.9 383.8,901.3 396.9,891.3 409.9,881.0 422.8,870.4 435.5,859.6 448.1,848.4 460.5,837.0 472.8,825.3 485.0,813.3 497.0,801.0 509.0,788.5 520.8,775.6 532.5,762.6 544.2,749.2 555.7,735.5 567.1,721.6 578.5,707.5"/>
<polyline points="343.3,929.4 329.4,913.2 315.7,897.4 302.1,881.9 288.7,866.8 275.4,852.1 262.3,837.7 249.3,823.6 236.4,810.0 223.7,796.6 211.1,783.6 198.6,771.0 186.3,758.7 174.2,746.7 162.1,735.0 150.2,723.7 138.5,712.7 126.8,701.9 115.3,691.5 104.0,681.5 92.7,671.7"/>
<polyline points="315.6,921.8 329.4,913.2 343.1,904.3 356.6,895.2 370.0,885.8 383.1,876.1 396.2,866.1 409.0,855.8 421.7,845.3 434.3,834.5 446.7,823.5 459.1,812.1 471.2,800.6 483.3,788.7 495.2,776.6 507.1,764.2 518.8,751.6 530.4,738.7 541.9,725.6 553.4,712.2 564.7,698.6"/>
<polyline points="357.0,920.3 343.1,904.3 329.4,888.8 315.9,873.5 302.4,858.7 289.2,844.3 276.0,830.2 263.0,816.5 250.2,803.1 237.5,790.1 224.9,777.5 212.5,765.2 200.2,753.3 188.0,741.7 176.0,730.4 164.1,719.5 152.4,708.9 140.7,698.6 129.3,688.7 117.9,679.1 106.7,669.7"/>
<polyline points="301.8,905.7 315.7,897.4 329.4,888.8 342.9,879.9 356.3,870.7 369.5,861.3 382.5,851.6 395.4,841.7 408.1,831.5 420.7,821.1 433.1,810.4 445.5,799.4 457.6,788.2 469.7,776.8 481.6,765.1 493.5,753.2 505.2,741.0 516.8,728.6 528.3,716.0 539.7,703.1 551.0,690.0"/>
<polyline points="370.5,910.9 356.6,895.2 342.9,879.9 329.4,864.9 316.0,850.4 302.7,836.2 289.6,822.4 276.6,809.0 263.8,796.0 251.1,783.4 238.5,771.1 226.1,759.2 213.8,747.6 201.7,736.4 189.7,725.5 177.8,715.0 166.1,704.8 154.5,695.0 143.0,685.5 131.6,676.3 120.4,667.5"/>
<polyline points="288.2,890.0 302.1,881.9 315.9,873.5 329.4,864.9 342.8,856.1 356.0,846.9 369.0,837.6 381.9,828.0 394.6,818.1 407.2,808.0 419.7,797.7 432.0,787.1 444.2,776.3 456.2,765.3 468.2,754.0 480.0,742.5 491.7,730.8 503.3,718.8 514.8,706.7 526.2,694.3 537.5,681.6"/>
<polyline points="383.8,901.3 370.0,885.8 356.3,870.7 342.8,856.1 329.4,841.8 316.1,828.0 303.0,814.5 290.1,801.4 277.2,788.7 264.5,776.4 252.0,764.5 239.6,752.9 227.3,741.7 215.2,730.9 203.2,720.4 191.3,710.3 179.6,700.5 168.0,691.1 156.5,682.0 145.2,673.2 134.0,664.8"/>
<polyline points="274.8,874.6 288.7,866.8 302.4,858.7 316.0,850.4 329.4,841.8 342.6,833.0 355.6,823.9 368.5,814.7 381.3,805.1 393.9,795.4 406.3,785.4 418.7,775.2 430.9,764.8 442.9,754.2 454.9,743.3 466.7,732.2 478.4,720.9 490.0,709.4 501.5,697.7 512.9,685.7 524.2,673.6"/>
<polyline points="396.9,891.3 383.1,876.1 369.5,861.3 356.0,846.9 342.6,833.0 329.4,819.5 316.3,806.3 303.3,793.6 290.5,781.2 277.8,769.2 265.3,757.6 252.9,746.4 240.6,735.6 228.5,725.1 216.5,715.0 204.6,705.3 192.9,695.9 181.3,686.9 169.9,678.2 158.6,669.8 147.4,661.8"/>
<polyline points="261.5,859.6 275.4,852.1 289.2,844.3 302.7,836.2 316.1,828.0 329.4,819.5 342.4,810.7 355.3,801.8 368.1,792.6 380.7,783.2 393.2,773.6 405.5,763.7 417.7,753.7 429.7,743.4 441.7,733.0 453.5,722.3 465.2,711.4 476.8,700.3 488.3,689.0 499.7,677.4 511.0,665.7"/>
<polyline points="409.9,881.0 396.2,866.1 382.5,851.6 369.0,837.6 355.6,823.9 342.4,810.7 329.3,797.9 316.4,785.5 303.6,773.5 290.9,761.8 278.4,750.6 266.0,739.7 253.7,729.2 241.6,719.1 229.6,709.4 217.8,700.0 206.1,691.0 194.5,682.3 183.0,674.0 171.7,666.1 160.6,658.4"/>
<polyline points="248.3,844.9 262.3,837.7 276.0,830.2 289.6,822.4 303.0,814.5 316.3,806.3 329.3,797.9 342.3,789.3 355.0,780.4 367.6,771.4 380.1,762.1 392.4,752.6 404.6,743.0 416.7,733.1 428.6,723.0 440.5,712.7 452.2,702.2 463.8,691.5 475.2,680.6 486.6,669.5 497.9,658.2"/>
<polyline points="422.8,870.4 409.0,855.8 395.4,841.7 381.9,828.0 368.5,814.7 355.3,801.8 342.3,789.3 329.3,777.2 316.5,765.5 303.9,754.2 291.3,743.3 278.9,732.8 266.7,722.7 254.6,712.9 242.6,703.5 230.8,694.5 219.1,685.8 207.5,677.5 196.0,669.6 184.7,662.0 173.6,654.7"/>
<polyline points="235.3,830.6 249.3,823.6 263.0,816.5 276.6,809.0 290.1,801.4 303.3,793.6 316.4,785.5 329.3,777.2 342.1,768.7 354.7,760.0 367.2,751.1 379.5,741.9 391.7,732.6 403.8,723.1 415.7,713.4 427.6,703.4 439.3,693.3 450.8,683.0 462.3,672.5 473.7,661.8 485.0,650.9"/>
<polyline points="435.5,859.6 421.7,845.3 408.1,831.5 394.6,818.1 381.3,805.1 368.1,792.6 355.0,780.4 342.1,768.7 329.3,757.4 316.6,746.4 304.1,735.8 291.7,725.7 279.5,715.9 267.4,706.5 255.4,697.4 243.6,688.7 231.9,680.4 220.3,672.5 208.9,664.9 197.6,657.6 186.4,650.7"/>
<polyline points="222.4,816.6 236.4,810.0 250.2,803.1 263.8,796.0 277.2,788.7 290.5,781.2 303.6,773.5 316.5,765.5 329.3,757.4 341.9,749.0 354.4,740.4 366.7,731.6 378.9,722.7 391.0,713.5 403.0,704.1 414.8,694.5 426.5,684.8 438.1,674.8 449.5,664.7 460.9,654.3 472.2,643.8"/>
<polyline points="448.1,848.4 434.3,834.5 420.7,821.1 407.2,808.0 393.9,795.4 380.7,783.2 367.6,771.4 354.7,760.0 341.9,749.0 329.3,738.4 316.8,728.2 304.4,718.3 292.1,708.9 280.0,699.8 268.1,691.1 256.2,682.7 244.5,674.7 233.0,667.1 221.6,659.8 210.3,652.9 199.1,646.3"/>
<polyline points="209.7,802.9 223.7,796.6 237.5,790.1 251.1,783.4 264.5,776.4 277.8,769.2 290.9,761.8 303.9,754.2 316.6,746.4 329.3,738.4 341.8,730.1 354.1,721.7 366.3,713.1 378.4,704.2 390.3,695.2 402.2,686.0 413.8,676.6 425.4,666.9 436.9,657.1 448.3,647.2 459.5,637.0"/>
<polyline points="460.5,837.0 446.7,823.5 433.1,810.4 419.7,797.7 406.3,785.4 393.2,773.6 380.1,762.1 367.2,751.1 354.4,740.4 341.8,730.1 329.3,720.3 316.9,710.8 304.6,701.6 292.5,692.9 280.6,684.5 268.8,676.5 257.1,668.8 245.5,661.5 234.1,654.5 222.8,647.9 211.6,641.6"/>
<polyline points="197.1,789.6 211.1,783.6 224.9,777.5 238.5,771.1 252.0,764.5 265.3,757.6 278.4,750.6 291.3,743.3 304.1,735.8 316.8,728.2 329.3,720.3 341.6,712.2 353.8,703.9 365.9,695.4 377.8,686.7 389.7,677.8 401.3,668.7 412.9,659.4 424.4,649.9 435.7,640.2 447.0,630.4"/>
<polyline points="472.8,825.3 459.1,812.1 445.5,799.4 432.0,787.1 418.7,775.2 405.5,763.7 392.4,752.6 379.5,741.9 366.7,731.6 354.1,721.7 341.6,712.2 329.2,703.0 317.0,694.2 304.9,685.8 292.9,677.7 281.1,670.0 269.4,662.6 257.9,655.6 246.4,648.9 235.1,642.5 224.0,636.5"/>
<polyline points="184.6,776.6 198.6,771.0 212.5,765.2 226.1,759.2 239.6,752.9 252.9,746.4 266.0,739.7 278.9,732.8 291.7,725.7 304.4,718.3 316.9,710.8 329.2,703.0 341.4,695.0 353.5,686.8 365.5,678.5 377.3,669.9 389.0,661.1 400.6,652.1 412.0,643.0 423.4,633.6 434.6,624.1"/>
<polyline points="485.0,813.3 471.2,800.6 457.6,788.2 444.2,776.3 430.9,764.8 417.7,753.7 404.6,743.0 391.7,732.6 378.9,722.7 366.3,713.1 353.8,703.9 341.4,695.0 329.2,686.5 317.1,678.4 305.2,670.6 293.3,663.2 281.6,656.1 270.1,649.4 258.6,643.0 247.3,636.9 236.2,631.2"/>
<polyline points="172.3,763.8 186.3,758.7 200.2,753.3 213.8,747.6 227.3,741.7 240.6,735.6 253.7,729.2 266.7,722.7 279.5,715.9 292.1,708.9 304.6,701.6 317.0,694.2 329.2,686.5 341.3,678.7 353.2,670.6 365.1,662.3 376.7,653.9 388.3,645.2 399.8,636.3 411.1,627.2 422.4,618.0"/>
<polyline points="497.0,801.0 483.3,788.7 469.7,776.8 456.2,765.3 442.9,754.2 429.7,743.4 416.7,733.1 403.8,723.1 391.0,713.5 378.4,704.2 365.9,695.4 353.5,686.8 341.3,678.7 329.2,670.9 317.2,663.4 305.4,656.2 293.7,649.4 282.1,643.0 270.7,636.8 259.4,631.0 248.2,625.5"/>
<polyline points="160.1,751.5 174.2,746.7 188.0,741.7 201.7,736.4 215.2,730.9 228.5,725.1 241.6,719.1 254.6,712.9 267.4,706.5 280.0,699.8 292.5,692.9 304.9,685.8 317.1,678.4 329.2,670.9 341.1,663.1 353.0,655.1 364.6,646.9 376.2,638.5 387.7,629.9 399.0,621.1 410.2,612.1"/>
<polyline points="509.0,788.5 495.2,776.6 481.6,765.1 468.2,754.0 454.9,743.3 441.7,733.0 428.6,723.0 415.7,713.4 403.0,704.1 390.3,695.2 377.8,686.7 365.5,678.5 353.2,670.6 341.1,663.1 329.2,655.9 317.3,649.0 305.7,642.5 294.1,636.3 282.6,630.4 271.3,624.8 260.2,619.5"/>
<polyline points="148.0,739.4 162.1,735.0 176.0,730.4 189.7,725.5 203.2,720.4 216.5,715.0 229.6,709.4 242.6,703.5 255.4,697.4 268.1,691.1 280.6,684.5 292.9,677.7 305.2,670.6 317.2,663.4 329.2,655.9 341.0,648.2 352.7,640.3 364.2,632.1 375.7,623.8 387.0,615.2 398.3,606.4"/>
<polyline points="520.8,775.6 507.1,764.2 493.5,753.2 480.0,742.5 466.7,732.2 453.5,722.3 440.5,712.7 427.6,703.4 414.8,694.5 402.2,686.0 389.7,677.8 377.3,669.9 365.1,662.3 353.0,655.1 341.0,648.2 329.2,641.6 317.5,635.3 305.9,629.3 294.5,623.7 283.1,618.3 272.0,613.2"/>
<polyline points="136.1,727.6 150.2,723.7 164.1,719.5 177.8,715.0 191.3,710.3 204.6,705.3 217.8,700.0 230.8,694.5 243.6,688.7 256.2,682.7 268.8,676.5 281.1,670.0 293.3,663.2 305.4,656.2 317.3,649.0 329.2,641.6 340.8,633.9 352.4,626.0 363.9,617.9 375.2,609.6 386.4,601.0"/>
<polyline points="532.5,762.6 518.8,751.6 505.2,741.0 491.7,730.8 478.4,720.9 465.2,711.4 452.2,702.2 439.3,693.3 426.5,684.8 413.8,676.6 401.3,668.7 389.0,661.1 376.7,653.9 364.6,646.9 352.7,640.3 340.8,633.9 329.1,627.9 317.6,622.1 306.1,616.7 294.8,611.5 283.6,606.6"/>
<polyline points="124.4,716.1 138.5,712.7 152.4,708.9 166.1,704.8 179.6,700.5 192.9,695.9 206.1,691.0 219.1,685.8 231.9,680.4 244.5,674.7 257.1,668.8 269.4,662.6 281.6,656.1 293.7,649.4 305.7,642.5 317.5,635.3 329.1,627.9 340.7,620.2 352.1,612.3 363.5,604.2 374.7,595.8"/>
<polyline points="544.2,749.2 530.4,738.7 516.8,728.6 503.3,718.8 490.0,709.4 476.8,700.3 463.8,691.5 450.8,683.0 438.1,674.8 425.4,666.9 412.9,659.4 400.6,652.1 388.3,645.2 376.2,638.5 364.2,632.1 352.4,626.0 340.7,620.2 329.1,614.7 317.7,609.4 306.4,604.4 295.2,599.7"/>
<polyline points="112.7,705.0 126.8,701.9 140.7,698.6 154.5,695.0 168.0,691.1 181.3,686.9 194.5,682.3 207.5,677.5 220.3,672.5 233.0,667.1 245.5,661.5 257.9,655.6 270.1,649.4 282.1,643.0 294.1,636.3 305.9,629.3 317.6,622.1 329.1,614.7 340.6,607.0 351.9,599.0 363.1,590.8"/>
<polyline points="555.7,735.5 541.9,725.6 528.3,716.0 514.8,706.7 501.5,697.7 488.3,689.0 475.2,680.6 462.3,672.5 449.5,664.7 436.9,657.1 424.4,649.9 412.0,643.0 399.8,636.3 387.7,629.9 375.7,623.8 363.9,617.9 352.1,612.3 340.6,607.0 329.1,601.9 317.8,597.1 306.6,592.5"/>
<polyline points="101.2,694.1 115.3,691.5 129.3,688.7 143.0,685.5 156.5,682.0 169.9,678.2 183.0,674.0 196.0,669.6 208.9,664.9 221.6,659.8 234.1,654.5 246.4,648.9 258.6,643.0 270.7,636.8 282.6,630.4 294.5,623.7 306.1,616.7 317.7,609.4 329.1,601.9 340.4,594.1 351.6,586.1"/>
<polyline points="567.1,721.6 553.4,712.2 539.7,703.1 526.2,694.3 512.9,685.7 499.7,677.4 486.6,669.5 473.7,661.8 460.9,654.3 448.3,647.2 435.7,640.2 423.4,633.6 411.1,627.2 399.0,621.1 387.0,615.2 375.2,609.6 363.5,604.2 351.9,599.0 340.4,594.1 329.1,589.4 317.9,585.0"/>
<polyline points="89.8,683.5 104.0,681.5 117.9,679.1 131.6,676.3 145.2,673.2 158.6,669.8 171.7,666.1 184.7,662.0 197.6,657.6 210.3,652.9 222.8,647.9 235.1,642.5 247.3,636.9 259.4,631.0 271.3,624.8 283.1,618.3 294.8,611.5 306.4,604.4 317.8,597.1 329.1,589.4 340.3,581.5"/>
<polyline points="578.5,707.5 564.7,698.6 551.0,690.0 537.5,681.6 524.2,673.6 511.0,665.7 497.9,658.2 485.0,650.9 472.2,643.8 459.5,637.0 447.0,630.4 434.6,624.1 422.4,618.0 410.2,612.1 398.3,606.4 386.4,601.0 374.7,595.8 363.1,590.8 351.6,586.1 340.3,581.5 329.1,577.2"/>
<polyline points="78.5,673.2 92.7,671.7 106.7,669.7 120.4,667.5 134.0,664.8 147.4,661.8 160.6,658.4 173.6,654.7 186.4,650.7 199.1,646.3 211.6,641.6 224.0,636.5 236.2,631.2 248.2,625.5 260.2,619.5 272.0,613.2 283.6,606.6 295.2,599.7 306.6,592.5 317.9,585.0 329.1,577.2"/>
</g>
<line x1="579.4" y1="687.1" x2="578.5" y2="707.5" stroke="#222" stroke-width="1"/>
<circle cx="579.4" cy="687.1" r="5.1" fill="#c40000" stroke="#700000" stroke-width="0.9"/>
<line x1="329.1" y1="703.8" x2="329.3" y2="720.3" stroke="#222" stroke-width="1"/>
<circle cx="329.1" cy="703.8" r="5.1" fill="#c40000" stroke="#700000" stroke-width="0.9"/>
<line x1="329.1" y1="716.5" x2="329.3" y2="720.3" stroke="#222" stroke-width="1"/>
<circle cx="329.1" cy="716.5" r="5.1" fill="#c40000" stroke="#700000" stroke-width="0.9"/>
<line x1="329.1" y1="720.0" x2="329.3" y2="720.3" stroke="#222" stroke-width="1"/>
<circle cx="329.1" cy="720.0" r="5.1" fill="#c40000" stroke="#700000" stroke-width="0.9"/>
<line x1="329.0" y1="941.0" x2="329.5" y2="938.2" stroke="#222" stroke-width="1"/>
<circle cx="329.0" cy="941.0" r="5.1" fill="#c40000" stroke="#700000" stroke-width="0.9"/>
<text class="t" x="61.4" y="851.9" textLength="16" lengthAdjust="spacingAndGlyphs">62</text>
<text class="t" x="59.5" y="811.1" textLength="16" lengthAdjust="spacingAndGlyphs">64</text>
<text class="t" x="57.6" y="769.7" textLength="16" lengthAdjust="spacingAndGlyphs">66</text>
<text class="t" x="55.6" y="727.6" textLength="16" lengthAdjust="spacingAndGlyphs">68</text>
<text class="t" x="53.7" y="684.8" textLength="16" lengthAdjust="spacingAndGlyphs">70</text>
<text class="t" x="51.7" y="641.4" textLength="16" lengthAdjust="spacingAndGlyphs">72</text>
<text class="t" x="49.6" y="597.2" textLength="16" lengthAdjust="spacingAndGlyphs">74</text>
<text class="t" x="65.1" y="956.8" textLength="16" lengthAdjust="spacingAndGlyphs">50</text>
<text class="t" x="110.5" y="980.8" textLength="16" lengthAdjust="spacingAndGlyphs">45</text>
<text class="t" x="159.9" y="1002.1" textLength="16" lengthAdjust="spacingAndGlyphs">40</text>
<text class="t" x="208.5" y="1025.6" textLength="16" lengthAdjust="spacingAndGlyphs">35</text>
<text class="t" x="255.9" y="1049.2" textLength="16" lengthAdjust="spacingAndGlyphs">30</text>
<text class="t" x="303.9" y="1072.3" textLength="16" lengthAdjust="spacingAndGlyphs">25</text>
<text class="t" x="340.0" y="1071.7" textLength="16" lengthAdjust="spacingAndGlyphs">40</text>
<text class="t" x="400.0" y="1042.4" textLength="16" lengthAdjust="spacingAndGlyphs">45</text>
<text class="t" x="459.0" y="1013.9" textLength="16" lengthAdjust="spacingAndGlyphs">50</text>
<text class="t" x="517.3" y="985.1" textLength="16" lengthAdjust="spacingAndGlyphs">55</text>
<text class="t" x="576.2" y="955.6" textLength="16" lengthAdjust="spacingAndGlyphs">60</text>
<text class="tt" x="11.2" y="1046.0" textLength="214.1" lengthAdjust="spacingAndGlyphs">C: Ethanol Concentration (%)</text>
<text class="tt" x="377.5" y="1046.8" textLength="230.0" lengthAdjust="spacingAndGlyphs">A: Sonication Temperature (°C)</text>
<text class="ty" transform="translate(25.0,772.8) rotate(-90)" x="0" y="0" text-anchor="middle" textLength="212.5" lengthAdjust="spacingAndGlyphs">Argel TPC (g GAE kg-1 DW)</text>
<text class="lab" x="0.3" y="564.9">(b)</text>
<polyline points="84.9,1412.8 334.7,1333.8 584.3,1413.2" class="w"/>
<polyline points="82.9,1374.1 334.7,1298.9 586.3,1374.6" class="w"/>
<polyline points="80.9,1334.9 334.7,1263.5 588.3,1335.3" class="w"/>
<polyline points="78.9,1295.0 334.7,1227.6 590.3,1295.4" class="w"/>
<polyline points="76.8,1254.4 334.7,1191.2 592.4,1254.8" class="w"/>
<polyline points="74.7,1213.2 334.7,1154.3 594.5,1213.6" class="w"/>
<polyline points="72.5,1171.3 334.7,1116.8 596.7,1171.7" class="w"/>
<line x1="138.1" y1="1157.7" x2="147.4" y2="1393.0" class="w"/>
<line x1="203.6" y1="1144.1" x2="209.8" y2="1373.3" class="w"/>
<line x1="269.1" y1="1130.4" x2="272.3" y2="1353.5" class="w"/>
<line x1="544.3" y1="1160.7" x2="534.4" y2="1397.3" class="w"/>
<line x1="491.9" y1="1149.7" x2="484.5" y2="1381.5" class="w"/>
<line x1="439.5" y1="1138.7" x2="434.6" y2="1365.6" class="w"/>
<line x1="387.1" y1="1127.8" x2="384.6" y2="1349.7" class="w"/>
<line x1="72.5" y1="1171.3" x2="88.9" y2="1489.3" class="ax"/>
<line x1="334.7" y1="1116.8" x2="334.7" y2="1403.1" class="ax"/>
<line x1="596.7" y1="1171.7" x2="580.4" y2="1489.9" class="ax"/>
<polygon points="88.9,1489.3 334.3,1600.3 580.4,1489.9 334.7,1403.1" class="floor"/>
<polyline points="417.3,1563.1 413.2,1563.9 410.0,1564.5 407.0,1565.1 403.9,1565.7 400.8,1566.3 397.4,1566.9 393.5,1567.6 389.8,1568.3 386.7,1568.9 383.5,1569.4 380.3,1570.0 377.1,1570.6 373.9,1571.1 370.6,1571.7 367.1,1572.3 363.5,1572.9 359.8,1573.5 356.2,1574.1 352.6,1574.7 349.2,1575.2 345.9,1575.7 342.5,1576.2 339.2,1576.8 335.8,1577.3 332.4,1577.8 329.0,1578.3 325.5,1578.8 322.1,1579.3 318.6,1579.8 315.2,1580.3 311.7,1580.8 308.2,1581.2 304.6,1581.7 301.1,1582.2 297.6,1582.7 295.8,1582.9" fill="none" stroke="#00cef7" stroke-width="2"/>
<polyline points="574.2,1487.7 571.5,1488.9 568.9,1490.2 566.1,1491.4 563.4,1492.6 560.6,1493.8 557.8,1495.0 554.9,1496.2 552.0,1497.4 549.1,1498.6 546.1,1499.8 543.2,1500.9 541.1,1501.7 538.0,1502.9 534.9,1504.1 531.8,1505.2 529.7,1506.0 526.5,1507.1 523.3,1508.3 520.0,1509.4 517.8,1510.1 514.5,1511.3 511.3,1512.3 508.9,1513.1 505.5,1514.2 503.2,1514.9 499.7,1516.0 496.3,1517.1 493.8,1517.8 490.3,1518.9 487.9,1519.6 484.3,1520.7 481.8,1521.4 478.2,1522.4 475.7,1523.1 472.0,1524.2 469.5,1524.8 465.7,1525.9 463.1,1526.5 460.2,1527.3 456.7,1528.2 454.1,1528.9 450.2,1529.9 447.5,1530.6 444.8,1531.2 440.9,1532.2 438.2,1532.8 435.0,1533.6 431.4,1534.5 428.7,1535.1 425.7,1535.8 421.7,1536.7 419.0,1537.3 416.1,1537.9 412.2,1538.8 409.1,1539.5 406.2,1540.1 403.3,1540.7 399.4,1541.5 396.1,1542.2 393.2,1542.8 390.2,1543.4 387.0,1544.0 382.9,1544.8 379.8,1545.4 376.8,1546.0 373.8,1546.6 370.7,1547.1 367.2,1547.8 363.3,1548.5 360.0,1549.1 356.9,1549.6 353.8,1550.2 350.6,1550.7 347.5,1551.3 344.3,1551.8 340.9,1552.4 337.3,1553.0 333.7,1553.6 330.1,1554.1 326.6,1554.7 323.4,1555.2 320.1,1555.7 316.8,1556.2 313.5,1556.7 310.2,1557.2 306.8,1557.7 303.5,1558.2 300.1,1558.6 296.7,1559.1 293.3,1559.6 289.9,1560.0 286.5,1560.5 283.1,1561.0 279.6,1561.4 276.1,1561.9 272.6,1562.3 269.4,1562.7 266.2,1563.1 263.0,1563.5 259.8,1563.9 256.7,1564.2 255.0,1564.4" fill="none" stroke="#00ffae" stroke-width="2"/>
<polyline points="526.6,1470.9 524.1,1472.1 521.6,1473.4 519.0,1474.6 516.4,1475.8 514.5,1476.6 511.9,1477.8 509.2,1479.0 506.4,1480.2 503.6,1481.4 500.7,1482.6 497.9,1483.7 495.9,1484.5 493.0,1485.7 490.0,1486.8 486.9,1488.0 483.9,1489.1 480.8,1490.2 478.7,1491.0 475.5,1492.1 472.3,1493.2 469.1,1494.3 466.9,1495.0 463.6,1496.1 460.3,1497.2 458.0,1497.9 454.6,1499.0 451.3,1500.0 448.9,1500.7 445.4,1501.8 443.0,1502.5 439.5,1503.5 437.1,1504.2 433.5,1505.2 431.0,1505.9 427.3,1506.9 424.9,1507.5 421.1,1508.5 418.6,1509.2 414.8,1510.2 412.3,1510.8 408.8,1511.7 405.8,1512.4 403.2,1513.1 399.3,1514.0 396.6,1514.6 393.8,1515.3 389.9,1516.2 387.2,1516.8 384.5,1517.4 380.4,1518.3 377.7,1518.9 374.9,1519.5 371.1,1520.3 367.9,1521.0 365.1,1521.6 362.2,1522.2 358.4,1522.9 355.0,1523.6 352.1,1524.2 349.2,1524.7 346.2,1525.3 342.3,1526.0 338.9,1526.7 335.9,1527.2 332.9,1527.8 329.9,1528.3 326.9,1528.8 323.2,1529.5 319.5,1530.1 316.1,1530.6 313.0,1531.2 309.9,1531.7 306.8,1532.2 303.6,1532.7 300.5,1533.2 297.3,1533.6 294.1,1534.1 290.9,1534.6 287.7,1535.1 284.3,1535.6 281.0,1536.1 277.6,1536.5 274.3,1537.0 271.0,1537.4 267.7,1537.9 264.5,1538.3 261.2,1538.7 257.9,1539.2 254.5,1539.6 251.1,1540.0 247.7,1540.4 244.3,1540.8 240.8,1541.2 237.3,1541.6 233.9,1542.0 230.4,1542.4 226.9,1542.8 223.9,1543.1 220.9,1543.4 217.9,1543.8 214.4,1544.1 210.8,1544.5 210.8,1544.5" fill="none" stroke="#00ff2c" stroke-width="2"/>
<polyline points="472.9,1451.9 470.6,1453.2 468.4,1454.4 466.7,1455.3 464.3,1456.5 461.8,1457.7 460.2,1458.6 457.6,1459.8 455.0,1461.0 452.4,1462.2 449.8,1463.4 447.1,1464.5 445.2,1465.3 442.4,1466.5 439.6,1467.6 436.7,1468.8 434.4,1469.7 431.9,1470.7 428.9,1471.8 425.9,1472.9 422.8,1474.0 419.7,1475.1 416.5,1476.2 414.4,1476.9 411.2,1477.9 407.9,1479.0 404.8,1480.0 402.4,1480.7 399.0,1481.8 396.3,1482.6 393.3,1483.5 389.9,1484.5 387.5,1485.2 384.0,1486.1 381.6,1486.8 378.0,1487.8 375.6,1488.4 371.9,1489.4 369.4,1490.0 365.7,1491.0 363.2,1491.6 359.4,1492.5 356.8,1493.1 353.8,1493.9 350.4,1494.7 347.8,1495.3 344.0,1496.1 341.2,1496.7 338.5,1497.3 334.8,1498.1 331.7,1498.8 329.0,1499.3 326.0,1500.0 322.1,1500.7 319.3,1501.3 316.5,1501.9 313.5,1502.4 309.5,1503.2 306.5,1503.7 303.6,1504.3 300.7,1504.8 297.8,1505.3 294.0,1506.0 290.4,1506.6 287.4,1507.1 284.4,1507.6 281.4,1508.1 278.4,1508.6 275.3,1509.0 272.3,1509.5 268.9,1510.0 265.4,1510.6 262.0,1511.1 258.7,1511.5 255.3,1512.0 252.0,1512.5 248.8,1512.9 245.5,1513.4 242.3,1513.8 239.1,1514.2 235.9,1514.6 232.8,1515.0 229.7,1515.4 226.6,1515.8 223.5,1516.1 220.4,1516.5 217.4,1516.8 214.1,1517.2 210.8,1517.6 207.3,1517.9 203.9,1518.3 200.5,1518.6 197.0,1519.0 193.9,1519.3 191.0,1519.6 188.2,1519.8 184.7,1520.2 181.2,1520.5 177.6,1520.8 174.2,1521.1 171.4,1521.3 168.6,1521.5 165.0,1521.8 161.3,1522.1 161.3,1522.1" fill="none" stroke="#56ff00" stroke-width="2"/>
<polyline points="407.0,1428.6 405.4,1429.8 403.9,1430.9 402.6,1431.8 401.0,1432.9 399.3,1434.0 397.9,1434.9 395.8,1436.2 394.4,1437.0 392.2,1438.3 390.7,1439.2 388.3,1440.4 386.7,1441.3 384.3,1442.4 381.9,1443.7 380.1,1444.5 377.6,1445.6 375.0,1446.8 372.3,1448.0 369.6,1449.1 366.8,1450.3 365.0,1451.0 362.1,1452.1 359.2,1453.2 356.6,1454.2 354.2,1455.0 351.2,1456.1 348.1,1457.2 344.9,1458.2 341.7,1459.2 339.2,1460.0 336.3,1460.9 333.0,1461.9 329.6,1462.9 327.4,1463.6 323.9,1464.5 321.6,1465.2 318.1,1466.1 315.1,1466.9 312.1,1467.7 309.0,1468.4 306.0,1469.2 303.3,1469.8 299.8,1470.7 297.3,1471.3 293.5,1472.1 290.9,1472.7 288.1,1473.3 284.4,1474.1 281.7,1474.7 279.0,1475.2 275.0,1476.0 272.3,1476.5 269.6,1477.1 266.3,1477.7 262.7,1478.4 259.9,1478.9 257.1,1479.4 254.2,1479.9 250.9,1480.4 247.2,1481.0 244.1,1481.5 241.2,1482.0 238.3,1482.5 235.3,1482.9 232.3,1483.4 229.3,1483.8 226.3,1484.2 223.0,1484.7 219.8,1485.1 216.5,1485.6 213.4,1486.0 210.2,1486.4 207.1,1486.8 204.0,1487.2 201.0,1487.5 198.0,1487.9 194.9,1488.2 191.7,1488.6 188.4,1488.9 185.1,1489.3 181.8,1489.6 178.5,1490.0 175.1,1490.3 172.1,1490.6 169.3,1490.8 166.6,1491.1 163.2,1491.4 159.8,1491.7 156.3,1491.9 153.2,1492.2 150.6,1492.4 147.5,1492.6 144.0,1492.8 140.4,1493.1 137.8,1493.3 135.0,1493.4 131.4,1493.7 127.8,1493.9 125.3,1494.0 122.2,1494.2 118.5,1494.4 115.7,1494.5 112.9,1494.6 109.2,1494.8 106.2,1494.9 103.5,1495.0 101.6,1495.1" fill="none" stroke="#d8ff00" stroke-width="2"/>
<polyline points="88.9,1489.3 334.3,1600.3 580.4,1489.9" class="fe"/>
<polyline points="88.9,1489.3 334.7,1403.1 580.4,1489.9" class="fb"/>
<circle cx="84.9" cy="1412.8" r="2.3"/>
<circle cx="82.9" cy="1374.1" r="2.3"/>
<circle cx="80.9" cy="1334.9" r="2.3"/>
<circle cx="78.9" cy="1295.0" r="2.3"/>
<circle cx="76.8" cy="1254.4" r="2.3"/>
<circle cx="74.7" cy="1213.2" r="2.3"/>
<circle cx="72.5" cy="1171.3" r="2.3"/>
<circle cx="88.9" cy="1489.3" r="2.3"/>
<circle cx="138.0" cy="1511.5" r="2.3"/>
<circle cx="187.0" cy="1533.7" r="2.3"/>
<circle cx="236.1" cy="1555.9" r="2.3"/>
<circle cx="285.2" cy="1578.1" r="2.3"/>
<circle cx="334.3" cy="1600.3" r="2.3"/>
<circle cx="334.3" cy="1600.3" r="2.3"/>
<circle cx="395.8" cy="1572.7" r="2.3"/>
<circle cx="457.3" cy="1545.1" r="2.3"/>
<circle cx="518.9" cy="1517.5" r="2.3"/>
<circle cx="580.4" cy="1489.9" r="2.3"/>
<line x1="587.7" y1="1351.4" x2="588.1" y2="1340.2" stroke="#222" stroke-width="1"/>
<circle cx="587.7" cy="1351.4" r="5.0" fill="#e4d4da" stroke="#d2782a" stroke-width="1.2"/>
<line x1="334.6" y1="1492.8" x2="334.3" y2="1481.3" stroke="#222" stroke-width="1"/>
<circle cx="334.6" cy="1492.8" r="5.0" fill="#e4d4da" stroke="#d2782a" stroke-width="1.2"/>
<clipPath id="clipc"><polygon points="334.3,1481.3 348.6,1471.0 362.7,1461.0 376.6,1451.4 390.4,1442.1 404.0,1433.2 417.4,1424.7 430.7,1416.5 443.7,1408.7 456.7,1401.2 469.4,1394.1 482.0,1387.3 494.4,1380.8 506.7,1374.7 518.8,1368.8 530.7,1363.3 542.5,1358.1 554.1,1353.1 565.6,1348.5 576.9,1344.2 588.1,1340.2 574.2,1329.1 560.5,1318.4 546.9,1308.0 533.4,1298.0 520.0,1288.4 506.8,1279.2 493.7,1270.3 480.7,1261.7 467.9,1253.5 455.1,1245.6 442.5,1238.1 430.1,1230.9 417.7,1224.0 405.5,1217.5 393.4,1211.2 381.4,1205.3 369.5,1199.7 357.8,1194.4 346.2,1189.4 334.7,1184.7 323.2,1186.1 311.5,1187.6 299.7,1189.5 287.8,1191.5 275.7,1193.8 263.5,1196.4 251.2,1199.2 238.7,1202.2 226.0,1205.6 213.2,1209.2 200.3,1213.0 187.2,1217.2 174.0,1221.6 160.6,1226.4 147.1,1231.4 133.4,1236.7 119.5,1242.3 105.6,1248.2 91.4,1254.4 77.1,1261.0 88.6,1268.3 100.2,1275.9 111.9,1284.0 123.8,1292.4 135.8,1301.2 148.0,1310.3 160.4,1319.9 172.8,1329.8 185.5,1340.2 198.2,1350.9 211.2,1362.1 224.2,1373.6 237.5,1385.6 250.9,1398.0 264.4,1410.8 278.1,1424.0 291.9,1437.7 305.9,1451.8 320.0,1466.3"/></clipPath>
<g clip-path="url(#clipc)"><g filter="url(#sm)">
<polygon points="334.7,1184.7 346.1,1183.6 334.7,1179.4 323.3,1180.4" fill="#ffc500"/>
<polygon points="346.2,1189.4 357.5,1188.2 346.1,1183.6 334.7,1184.7" fill="#ffd000"/>
<polygon points="323.2,1186.1 334.7,1184.7 323.3,1180.4 311.8,1181.6" fill="#ffbc00"/>
<polygon points="357.8,1194.4 369.1,1193.1 357.5,1188.2 346.2,1189.4" fill="#ffdb00"/>
<polygon points="334.7,1190.9 346.2,1189.4 334.7,1184.7 323.2,1186.1" fill="#ffc700"/>
<polygon points="311.5,1187.6 323.2,1186.1 311.8,1181.6 300.2,1183.0" fill="#ffb400"/>
<polygon points="369.5,1199.7 380.9,1198.3 369.1,1193.1 357.8,1194.4" fill="#ffe900"/>
<polygon points="346.3,1196.0 357.8,1194.4 346.2,1189.4 334.7,1190.9" fill="#ffd300"/>
<polygon points="323.0,1192.6 334.7,1190.9 323.2,1186.1 311.5,1187.6" fill="#ffbf00"/>
<polygon points="299.7,1189.5 311.5,1187.6 300.2,1183.0 288.4,1184.7" fill="#ffad00"/>
<polygon points="381.4,1205.3 392.7,1203.8 380.9,1198.3 369.5,1199.7" fill="#fff700"/>
<polygon points="358.0,1201.4 369.5,1199.7 357.8,1194.4 346.3,1196.0" fill="#ffe000"/>
<polygon points="334.7,1197.8 346.3,1196.0 334.7,1190.9 323.0,1192.6" fill="#ffcb00"/>
<polygon points="311.2,1194.5 323.0,1192.6 311.5,1187.6 299.7,1189.5" fill="#ffb800"/>
<polygon points="287.8,1191.5 299.7,1189.5 288.4,1184.7 276.4,1186.7" fill="#ffa700"/>
<polygon points="393.4,1211.2 404.7,1209.6 392.7,1203.8 381.4,1205.3" fill="#f7ff00"/>
<polygon points="369.9,1207.1 381.4,1205.3 369.5,1199.7 358.0,1201.4" fill="#fff000"/>
<polygon points="346.4,1203.3 358.0,1201.4 346.3,1196.0 334.7,1197.8" fill="#ffd900"/>
<polygon points="322.9,1199.8 334.7,1197.8 323.0,1192.6 311.2,1194.5" fill="#ffc500"/>
<polygon points="299.3,1196.6 311.2,1194.5 299.7,1189.5 287.8,1191.5" fill="#ffb300"/>
<polygon points="275.7,1193.8 287.8,1191.5 276.4,1186.7 264.4,1188.9" fill="#ffa300"/>
<polygon points="405.5,1217.5 416.8,1215.7 404.7,1209.6 393.4,1211.2" fill="#e5ff00"/>
<polygon points="381.9,1213.1 393.4,1211.2 381.4,1205.3 369.9,1207.1" fill="#feff00"/>
<polygon points="358.3,1209.1 369.9,1207.1 358.0,1201.4 346.4,1203.3" fill="#ffe900"/>
<polygon points="334.6,1205.4 346.4,1203.3 334.7,1197.8 322.9,1199.8" fill="#ffd400"/>
<polygon points="311.0,1202.1 322.9,1199.8 311.2,1194.5 299.3,1196.6" fill="#ffc100"/>
<polygon points="287.3,1199.1 299.3,1196.6 287.8,1191.5 275.7,1193.8" fill="#ffaf00"/>
<polygon points="263.5,1196.4 275.7,1193.8 264.4,1188.9 252.1,1191.3" fill="#ffa000"/>
<polygon points="417.7,1224.0 429.0,1222.1 416.8,1215.7 405.5,1217.5" fill="#d2ff00"/>
<polygon points="394.0,1219.5 405.5,1217.5 393.4,1211.2 381.9,1213.1" fill="#ecff00"/>
<polygon points="370.3,1215.3 381.9,1213.1 369.9,1207.1 358.3,1209.1" fill="#fffa00"/>
<polygon points="346.5,1211.4 358.3,1209.1 346.4,1203.3 334.6,1205.4" fill="#ffe400"/>
<polygon points="322.7,1207.8 334.6,1205.4 322.9,1199.8 311.0,1202.1" fill="#ffd000"/>
<polygon points="298.9,1204.6 311.0,1202.1 299.3,1196.6 287.3,1199.1" fill="#ffbd00"/>
<polygon points="275.0,1201.7 287.3,1199.1 275.7,1193.8 263.5,1196.4" fill="#ffad00"/>
<polygon points="251.2,1199.2 263.5,1196.4 252.1,1191.3 239.8,1194.0" fill="#ff9e00"/>
<polygon points="430.1,1230.9 441.3,1228.9 429.0,1222.1 417.7,1224.0" fill="#bdff00"/>
<polygon points="406.3,1226.1 417.7,1224.0 405.5,1217.5 394.0,1219.5" fill="#d8ff00"/>
<polygon points="382.4,1221.7 394.0,1219.5 381.9,1213.1 370.3,1215.3" fill="#f1ff00"/>
<polygon points="358.5,1217.7 370.3,1215.3 358.3,1209.1 346.5,1211.4" fill="#fff500"/>
<polygon points="334.6,1213.9 346.5,1211.4 334.6,1205.4 322.7,1207.8" fill="#ffe000"/>
<polygon points="310.7,1210.5 322.7,1207.8 311.0,1202.1 298.9,1204.6" fill="#ffcd00"/>
<polygon points="286.7,1207.4 298.9,1204.6 287.3,1199.1 275.0,1201.7" fill="#ffbb00"/>
<polygon points="262.7,1204.6 275.0,1201.7 263.5,1196.4 251.2,1199.2" fill="#ffab00"/>
<polygon points="442.5,1238.1 453.8,1235.9 441.3,1228.9 430.1,1230.9" fill="#a7ff00"/>
<polygon points="238.7,1202.2 251.2,1199.2 239.8,1194.0 227.3,1196.9" fill="#ff9e00"/>
<polygon points="418.6,1233.1 430.1,1230.9 417.7,1224.0 406.3,1226.1" fill="#c3ff00"/>
<polygon points="394.7,1228.5 406.3,1226.1 394.0,1219.5 382.4,1221.7" fill="#deff00"/>
<polygon points="370.7,1224.3 382.4,1221.7 370.3,1215.3 358.5,1217.7" fill="#f6ff00"/>
<polygon points="346.6,1220.3 358.5,1217.7 346.5,1211.4 334.6,1213.9" fill="#fff200"/>
<polygon points="322.6,1216.7 334.6,1213.9 322.7,1207.8 310.7,1210.5" fill="#ffdd00"/>
<polygon points="298.5,1213.4 310.7,1210.5 298.9,1204.6 286.7,1207.4" fill="#ffcb00"/>
<polygon points="274.3,1210.5 286.7,1207.4 275.0,1201.7 262.7,1204.6" fill="#ffba00"/>
<polygon points="455.1,1245.6 466.4,1243.3 453.8,1235.9 442.5,1238.1" fill="#90ff00"/>
<polygon points="250.2,1207.8 262.7,1204.6 251.2,1199.2 238.7,1202.2" fill="#ffab00"/>
<polygon points="226.0,1205.6 238.7,1202.2 227.3,1196.9 214.6,1200.1" fill="#ff9f00"/>
<polygon points="431.1,1240.5 442.5,1238.1 430.1,1230.9 418.6,1233.1" fill="#adff00"/>
<polygon points="407.1,1235.7 418.6,1233.1 406.3,1226.1 394.7,1228.5" fill="#c8ff00"/>
<polygon points="383.0,1231.2 394.7,1228.5 382.4,1221.7 370.7,1224.3" fill="#e1ff00"/>
<polygon points="358.8,1227.0 370.7,1224.3 358.5,1217.7 346.6,1220.3" fill="#f9ff00"/>
<polygon points="334.6,1223.2 346.6,1220.3 334.6,1213.9 322.6,1216.7" fill="#fff000"/>
<polygon points="310.4,1219.7 322.6,1216.7 310.7,1210.5 298.5,1213.4" fill="#ffdc00"/>
<polygon points="467.9,1253.5 479.1,1251.1 466.4,1243.3 455.1,1245.6" fill="#77ff00"/>
<polygon points="286.1,1216.6 298.5,1213.4 286.7,1207.4 274.3,1210.5" fill="#ffca00"/>
<polygon points="261.8,1213.8 274.3,1210.5 262.7,1204.6 250.2,1207.8" fill="#ffbb00"/>
<polygon points="443.8,1248.2 455.1,1245.6 442.5,1238.1 431.1,1240.5" fill="#95ff00"/>
<polygon points="237.5,1211.3 250.2,1207.8 238.7,1202.2 226.0,1205.6" fill="#ffad00"/>
<polygon points="213.2,1209.2 226.0,1205.6 214.6,1200.1 201.9,1203.6" fill="#ffa100"/>
<polygon points="419.6,1243.1 431.1,1240.5 418.6,1233.1 407.1,1235.7" fill="#b1ff00"/>
<polygon points="395.4,1238.5 407.1,1235.7 394.7,1228.5 383.0,1231.2" fill="#ccff00"/>
<polygon points="371.1,1234.1 383.0,1231.2 370.7,1224.3 358.8,1227.0" fill="#e4ff00"/>
<polygon points="346.8,1230.1 358.8,1227.0 346.6,1220.3 334.6,1223.2" fill="#fbff00"/>
<polygon points="322.4,1226.4 334.6,1223.2 322.6,1216.7 310.4,1219.7" fill="#ffef00"/>
<polygon points="480.7,1261.7 491.9,1259.2 479.1,1251.1 467.9,1253.5" fill="#5cff00"/>
<polygon points="298.0,1223.0 310.4,1219.7 298.5,1213.4 286.1,1216.6" fill="#ffdc00"/>
<polygon points="456.5,1256.2 467.9,1253.5 455.1,1245.6 443.8,1248.2" fill="#7bff00"/>
<polygon points="273.6,1220.0 286.1,1216.6 274.3,1210.5 261.8,1213.8" fill="#ffcb00"/>
<polygon points="249.2,1217.4 261.8,1213.8 250.2,1207.8 237.5,1211.3" fill="#ffbc00"/>
<polygon points="224.8,1215.0 237.5,1211.3 226.0,1205.6 213.2,1209.2" fill="#ffaf00"/>
<polygon points="432.2,1250.9 443.8,1248.2 431.1,1240.5 419.6,1243.1" fill="#99ff00"/>
<polygon points="200.3,1213.0 213.2,1209.2 201.9,1203.6 188.9,1207.4" fill="#ffa400"/>
<polygon points="407.9,1246.1 419.6,1243.1 407.1,1235.7 395.4,1238.5" fill="#b4ff00"/>
<polygon points="383.5,1241.5 395.4,1238.5 383.0,1231.2 371.1,1234.1" fill="#ceff00"/>
<polygon points="359.1,1237.3 371.1,1234.1 358.8,1227.0 346.8,1230.1" fill="#e5ff00"/>
<polygon points="493.7,1270.3 504.9,1267.6 491.9,1259.2 480.7,1261.7" fill="#40ff00"/>
<polygon points="334.6,1233.4 346.8,1230.1 334.6,1223.2 322.4,1226.4" fill="#fbff00"/>
<polygon points="310.1,1229.8 322.4,1226.4 310.4,1219.7 298.0,1223.0" fill="#ffef00"/>
<polygon points="469.4,1264.5 480.7,1261.7 467.9,1253.5 456.5,1256.2" fill="#61ff00"/>
<polygon points="285.5,1226.6 298.0,1223.0 286.1,1216.6 273.6,1220.0" fill="#ffdd00"/>
<polygon points="261.0,1223.8 273.6,1220.0 261.8,1213.8 249.2,1217.4" fill="#ffcd00"/>
<polygon points="445.0,1259.1 456.5,1256.2 443.8,1248.2 432.2,1250.9" fill="#7fff00"/>
<polygon points="236.4,1221.2 249.2,1217.4 237.5,1211.3 224.8,1215.0" fill="#ffbf00"/>
<polygon points="211.8,1219.0 224.8,1215.0 213.2,1209.2 200.3,1213.0" fill="#ffb300"/>
<polygon points="420.5,1254.0 432.2,1250.9 419.6,1243.1 407.9,1246.1" fill="#9bff00"/>
<polygon points="187.2,1217.2 200.3,1213.0 188.9,1207.4 175.8,1211.4" fill="#ffa900"/>
<polygon points="396.0,1249.2 407.9,1246.1 395.4,1238.5 383.5,1241.5" fill="#b6ff00"/>
<polygon points="371.5,1244.8 383.5,1241.5 371.1,1234.1 359.1,1237.3" fill="#cfff00"/>
<polygon points="506.8,1279.2 518.0,1276.3 504.9,1267.6 493.7,1270.3" fill="#23ff00"/>
<polygon points="346.9,1240.7 359.1,1237.3 346.8,1230.1 334.6,1233.4" fill="#e6ff00"/>
<polygon points="482.4,1273.2 493.7,1270.3 480.7,1261.7 469.4,1264.5" fill="#44ff00"/>
<polygon points="322.3,1237.0 334.6,1233.4 322.4,1226.4 310.1,1229.8" fill="#faff00"/>
<polygon points="297.6,1233.6 310.1,1229.8 298.0,1223.0 285.5,1226.6" fill="#fff100"/>
<polygon points="457.9,1267.6 469.4,1264.5 456.5,1256.2 445.0,1259.1" fill="#64ff00"/>
<polygon points="272.9,1230.5 285.5,1226.6 273.6,1220.0 261.0,1223.8" fill="#ffe000"/>
<polygon points="248.2,1227.8 261.0,1223.8 249.2,1217.4 236.4,1221.2" fill="#ffd100"/>
<polygon points="433.3,1262.3 445.0,1259.1 432.2,1250.9 420.5,1254.0" fill="#81ff00"/>
<polygon points="223.5,1225.4 236.4,1221.2 224.8,1215.0 211.8,1219.0" fill="#ffc400"/>
<polygon points="198.7,1223.3 211.8,1219.0 200.3,1213.0 187.2,1217.2" fill="#ffb800"/>
<polygon points="174.0,1221.6 187.2,1217.2 175.8,1211.4 162.6,1215.7" fill="#ffaf00"/>
<polygon points="408.7,1257.3 420.5,1254.0 407.9,1246.1 396.0,1249.2" fill="#9dff00"/>
<polygon points="384.0,1252.7 396.0,1249.2 383.5,1241.5 371.5,1244.8" fill="#b7ff00"/>
<polygon points="520.0,1288.4 531.2,1285.5 518.0,1276.3 506.8,1279.2" fill="#04ff00"/>
<polygon points="359.3,1248.4 371.5,1244.8 359.1,1237.3 346.9,1240.7" fill="#ceff00"/>
<polygon points="495.5,1282.3 506.8,1279.2 493.7,1270.3 482.4,1273.2" fill="#26ff00"/>
<polygon points="334.6,1244.4 346.9,1240.7 334.6,1233.4 322.3,1237.0" fill="#e4ff00"/>
<polygon points="309.8,1240.8 322.3,1237.0 310.1,1229.8 297.6,1233.6" fill="#f8ff00"/>
<polygon points="470.9,1276.4 482.4,1273.2 469.4,1264.5 457.9,1267.6" fill="#47ff00"/>
<polygon points="285.0,1237.6 297.6,1233.6 285.5,1226.6 272.9,1230.5" fill="#fff400"/>
<polygon points="260.1,1234.6 272.9,1230.5 261.0,1223.8 248.2,1227.8" fill="#ffe400"/>
<polygon points="446.2,1270.9 457.9,1267.6 445.0,1259.1 433.3,1262.3" fill="#65ff00"/>
<polygon points="235.3,1232.0 248.2,1227.8 236.4,1221.2 223.5,1225.4" fill="#ffd600"/>
<polygon points="210.4,1229.8 223.5,1225.4 211.8,1219.0 198.7,1223.3" fill="#ffc900"/>
<polygon points="421.5,1265.8 433.3,1262.3 420.5,1254.0 408.7,1257.3" fill="#82ff00"/>
<polygon points="185.5,1227.9 198.7,1223.3 187.2,1217.2 174.0,1221.6" fill="#ffbf00"/>
<polygon points="160.6,1226.4 174.0,1221.6 162.6,1215.7 149.2,1220.3" fill="#ffb700"/>
<polygon points="533.4,1298.0 544.5,1294.9 531.2,1285.5 520.0,1288.4" fill="#00ff1d"/>
<polygon points="396.7,1260.9 408.7,1257.3 396.0,1249.2 384.0,1252.7" fill="#9dff00"/>
<polygon points="371.9,1256.4 384.0,1252.7 371.5,1244.8 359.3,1248.4" fill="#b6ff00"/>
<polygon points="508.8,1291.7 520.0,1288.4 506.8,1279.2 495.5,1282.3" fill="#07ff00"/>
<polygon points="347.0,1252.3 359.3,1248.4 346.9,1240.7 334.6,1244.4" fill="#cdff00"/>
<polygon points="484.0,1285.6 495.5,1282.3 482.4,1273.2 470.9,1276.4" fill="#29ff00"/>
<polygon points="322.1,1248.4 334.6,1244.4 322.3,1237.0 309.8,1240.8" fill="#e2ff00"/>
<polygon points="297.1,1245.0 309.8,1240.8 297.6,1233.6 285.0,1237.6" fill="#f5ff00"/>
<polygon points="459.3,1279.9 470.9,1276.4 457.9,1267.6 446.2,1270.9" fill="#48ff00"/>
<polygon points="272.2,1241.8 285.0,1237.6 272.9,1230.5 260.1,1234.6" fill="#fff800"/>
<polygon points="247.2,1239.0 260.1,1234.6 248.2,1227.8 235.3,1232.0" fill="#ffe900"/>
<polygon points="434.4,1274.5 446.2,1270.9 433.3,1262.3 421.5,1265.8" fill="#66ff00"/>
<polygon points="222.2,1236.6 235.3,1232.0 223.5,1225.4 210.4,1229.8" fill="#ffdc00"/>
<polygon points="546.9,1308.0 558.0,1304.7 544.5,1294.9 533.4,1298.0" fill="#00ff3e"/>
<polygon points="197.1,1234.5 210.4,1229.8 198.7,1223.3 185.5,1227.9" fill="#ffd000"/>
<polygon points="172.1,1232.8 185.5,1227.9 174.0,1221.6 160.6,1226.4" fill="#ffc700"/>
<polygon points="409.5,1269.5 421.5,1265.8 408.7,1257.3 396.7,1260.9" fill="#82ff00"/>
<polygon points="147.1,1231.4 160.6,1226.4 149.2,1220.3 135.7,1225.2" fill="#ffbf00"/>
<polygon points="522.1,1301.4 533.4,1298.0 520.0,1288.4 508.8,1291.7" fill="#00ff1a"/>
<polygon points="384.6,1264.8 396.7,1260.9 384.0,1252.7 371.9,1256.4" fill="#9cff00"/>
<polygon points="359.6,1260.4 371.9,1256.4 359.3,1248.4 347.0,1252.3" fill="#b4ff00"/>
<polygon points="497.3,1295.2 508.8,1291.7 495.5,1282.3 484.0,1285.6" fill="#09ff00"/>
<polygon points="334.5,1256.4 347.0,1252.3 334.6,1244.4 322.1,1248.4" fill="#caff00"/>
<polygon points="309.5,1252.7 322.1,1248.4 309.8,1240.8 297.1,1245.0" fill="#deff00"/>
<polygon points="472.4,1289.3 484.0,1285.6 470.9,1276.4 459.3,1279.9" fill="#2aff00"/>
<polygon points="284.4,1249.4 297.1,1245.0 285.0,1237.6 272.2,1241.8" fill="#f0ff00"/>
<polygon points="447.5,1283.7 459.3,1279.9 446.2,1270.9 434.4,1274.5" fill="#48ff00"/>
<polygon points="259.2,1246.4 272.2,1241.8 260.1,1234.6 247.2,1239.0" fill="#fffe00"/>
<polygon points="560.5,1318.4 571.5,1314.9 558.0,1304.7 546.9,1308.0" fill="#00ff62"/>
<polygon points="234.1,1243.8 247.2,1239.0 235.3,1232.0 222.2,1236.6" fill="#ffef00"/>
<polygon points="208.9,1241.5 222.2,1236.6 210.4,1229.8 197.1,1234.5" fill="#ffe300"/>
<polygon points="422.5,1278.4 434.4,1274.5 421.5,1265.8 409.5,1269.5" fill="#65ff00"/>
<polygon points="183.7,1239.5 197.1,1234.5 185.5,1227.9 172.1,1232.8" fill="#ffd800"/>
<polygon points="158.6,1237.9 172.1,1232.8 160.6,1226.4 147.1,1231.4" fill="#ffd000"/>
<polygon points="535.6,1311.6 546.9,1308.0 533.4,1298.0 522.1,1301.4" fill="#00ff3c"/>
<polygon points="133.4,1236.7 147.1,1231.4 135.7,1225.2 122.0,1230.3" fill="#ffc900"/>
<polygon points="397.4,1273.5 409.5,1269.5 396.7,1260.9 384.6,1264.8" fill="#80ff00"/>
<polygon points="372.3,1269.0 384.6,1264.8 371.9,1256.4 359.6,1260.4" fill="#99ff00"/>
<polygon points="510.7,1305.1 522.1,1301.4 508.8,1291.7 497.3,1295.2" fill="#00ff18"/>
<polygon points="347.1,1264.7 359.6,1260.4 347.0,1252.3 334.5,1256.4" fill="#b0ff00"/>
<polygon points="485.7,1299.0 497.3,1295.2 484.0,1285.6 472.4,1289.3" fill="#09ff00"/>
<polygon points="321.9,1260.8 334.5,1256.4 322.1,1248.4 309.5,1252.7" fill="#c6ff00"/>
<polygon points="296.7,1257.3 309.5,1252.7 297.1,1245.0 284.4,1249.4" fill="#d9ff00"/>
<polygon points="460.7,1293.2 472.4,1289.3 459.3,1279.9 447.5,1283.7" fill="#29ff00"/>
<polygon points="574.2,1329.1 585.2,1325.5 571.5,1314.9 560.5,1318.4" fill="#00ff87"/>
<polygon points="271.4,1254.1 284.4,1249.4 272.2,1241.8 259.2,1246.4" fill="#eaff00"/>
<polygon points="246.1,1251.3 259.2,1246.4 247.2,1239.0 234.1,1243.8" fill="#faff00"/>
<polygon points="435.5,1287.7 447.5,1283.7 434.4,1274.5 422.5,1278.4" fill="#47ff00"/>
<polygon points="220.8,1248.8 234.1,1243.8 222.2,1236.6 208.9,1241.5" fill="#fff700"/>
<polygon points="549.3,1322.1 560.5,1318.4 546.9,1308.0 535.6,1311.6" fill="#00ff60"/>
<polygon points="195.5,1246.6 208.9,1241.5 197.1,1234.5 183.7,1239.5" fill="#ffeb00"/>
<polygon points="410.4,1282.6 422.5,1278.4 409.5,1269.5 397.4,1273.5" fill="#63ff00"/>
<polygon points="170.2,1244.8 183.7,1239.5 172.1,1232.8 158.6,1237.9" fill="#ffe200"/>
<polygon points="144.9,1243.4 158.6,1237.9 147.1,1231.4 133.4,1236.7" fill="#ffda00"/>
<polygon points="119.5,1242.3 133.4,1236.7 122.0,1230.3 108.2,1235.8" fill="#ffd400"/>
<polygon points="524.2,1315.4 535.6,1311.6 522.1,1301.4 510.7,1305.1" fill="#00ff3b"/>
<polygon points="385.1,1277.8 397.4,1273.5 384.6,1264.8 372.3,1269.0" fill="#7dff00"/>
<polygon points="359.8,1273.4 372.3,1269.0 359.6,1260.4 347.1,1264.7" fill="#95ff00"/>
<polygon points="499.2,1309.1 510.7,1305.1 497.3,1295.2 485.7,1299.0" fill="#00ff18"/>
<polygon points="334.5,1269.3 347.1,1264.7 334.5,1256.4 321.9,1260.8" fill="#acff00"/>
<polygon points="588.1,1340.2 599.1,1336.4 585.2,1325.5 574.2,1329.1" fill="#00ffad"/>
<polygon points="474.0,1303.1 485.7,1299.0 472.4,1289.3 460.7,1293.2" fill="#09ff00"/>
<polygon points="309.2,1265.6 321.9,1260.8 309.5,1252.7 296.7,1257.3" fill="#c0ff00"/>
<polygon points="283.8,1262.2 296.7,1257.3 284.4,1249.4 271.4,1254.1" fill="#d2ff00"/>
<polygon points="448.8,1297.4 460.7,1293.2 447.5,1283.7 435.5,1287.7" fill="#28ff00"/>
<polygon points="258.3,1259.1 271.4,1254.1 259.2,1246.4 246.1,1251.3" fill="#e3ff00"/>
<polygon points="563.0,1333.0 574.2,1329.1 560.5,1318.4 549.3,1322.1" fill="#00ff85"/>
<polygon points="232.9,1256.4 246.1,1251.3 234.1,1243.8 220.8,1248.8" fill="#f1ff00"/>
<polygon points="423.5,1292.1 435.5,1287.7 422.5,1278.4 410.4,1282.6" fill="#45ff00"/>
<polygon points="207.4,1254.1 220.8,1248.8 208.9,1241.5 195.5,1246.6" fill="#feff00"/>
<polygon points="182.0,1252.1 195.5,1246.6 183.7,1239.5 170.2,1244.8" fill="#fff500"/>
<polygon points="537.9,1326.1 549.3,1322.1 535.6,1311.6 524.2,1315.4" fill="#00ff5f"/>
<polygon points="156.5,1250.4 170.2,1244.8 158.6,1237.9 144.9,1243.4" fill="#ffed00"/>
<polygon points="131.0,1249.1 144.9,1243.4 133.4,1236.7 119.5,1242.3" fill="#ffe600"/>
<polygon points="398.1,1287.1 410.4,1282.6 397.4,1273.5 385.1,1277.8" fill="#60ff00"/>
<polygon points="105.6,1248.2 119.5,1242.3 108.2,1235.8 94.2,1241.5" fill="#ffe100"/>
<polygon points="512.7,1319.5 524.2,1315.4 510.7,1305.1 499.2,1309.1" fill="#00ff3b"/>
<polygon points="372.7,1282.4 385.1,1277.8 372.3,1269.0 359.8,1273.4" fill="#79ff00"/>
<polygon points="347.3,1278.1 359.8,1273.4 347.1,1264.7 334.5,1269.3" fill="#90ff00"/>
<polygon points="602.0,1351.6 613.0,1347.7 599.1,1336.4 588.1,1340.2" fill="#00ffd5"/>
<polygon points="487.4,1313.3 499.2,1309.1 485.7,1299.0 474.0,1303.1" fill="#00ff19"/>
<polygon points="321.8,1274.2 334.5,1269.3 321.9,1260.8 309.2,1265.6" fill="#a6ff00"/>
<polygon points="296.2,1270.6 309.2,1265.6 296.7,1257.3 283.8,1262.2" fill="#b9ff00"/>
<polygon points="462.1,1307.4 474.0,1303.1 460.7,1293.2 448.8,1297.4" fill="#07ff00"/>
<polygon points="576.9,1344.2 588.1,1340.2 574.2,1329.1 563.0,1333.0" fill="#00ffac"/>
<polygon points="270.7,1267.3 283.8,1262.2 271.4,1254.1 258.3,1259.1" fill="#cbff00"/>
<polygon points="245.1,1264.4 258.3,1259.1 246.1,1251.3 232.9,1256.4" fill="#daff00"/>
<polygon points="436.7,1301.9 448.8,1297.4 435.5,1287.7 423.5,1292.1" fill="#25ff00"/>
<polygon points="551.7,1337.1 563.0,1333.0 549.3,1322.1 537.9,1326.1" fill="#00ff85"/>
<polygon points="219.5,1261.9 232.9,1256.4 220.8,1248.8 207.4,1254.1" fill="#e8ff00"/>
<polygon points="193.9,1259.7 207.4,1254.1 195.5,1246.6 182.0,1252.1" fill="#f4ff00"/>
<polygon points="411.2,1296.7 423.5,1292.1 410.4,1282.6 398.1,1287.1" fill="#41ff00"/>
<polygon points="168.3,1257.8 182.0,1252.1 170.2,1244.8 156.5,1250.4" fill="#fdff00"/>
<polygon points="142.6,1256.3 156.5,1250.4 144.9,1243.4 131.0,1249.1" fill="#fff900"/>
<polygon points="117.0,1255.2 131.0,1249.1 119.5,1242.3 105.6,1248.2" fill="#fff300"/>
<polygon points="526.4,1330.4 537.9,1326.1 524.2,1315.4 512.7,1319.5" fill="#00ff60"/>
<polygon points="91.4,1254.4 105.6,1248.2 94.2,1241.5 80.1,1247.6" fill="#ffef00"/>
<polygon points="385.7,1291.8 398.1,1287.1 385.1,1277.8 372.7,1282.4" fill="#5bff00"/>
<polygon points="360.1,1287.3 372.7,1282.4 359.8,1273.4 347.3,1278.1" fill="#74ff00"/>
<polygon points="501.0,1323.9 512.7,1319.5 499.2,1309.1 487.4,1313.3" fill="#00ff3d"/>
<polygon points="334.5,1283.2 347.3,1278.1 334.5,1269.3 321.8,1274.2" fill="#8aff00"/>
<polygon points="590.9,1355.8 602.0,1351.6 588.1,1340.2 576.9,1344.2" fill="#00ffd4"/>
<polygon points="475.6,1317.8 487.4,1313.3 474.0,1303.1 462.1,1307.4" fill="#00ff1c"/>
<polygon points="308.8,1279.4 321.8,1274.2 309.2,1265.6 296.2,1270.6" fill="#9eff00"/>
<polygon points="283.2,1275.9 296.2,1270.6 283.8,1262.2 270.7,1267.3" fill="#b1ff00"/>
<polygon points="450.0,1312.1 462.1,1307.4 448.8,1297.4 436.7,1301.9" fill="#03ff00"/>
<polygon points="565.6,1348.5 576.9,1344.2 563.0,1333.0 551.7,1337.1" fill="#00ffac"/>
<polygon points="257.4,1272.8 270.7,1267.3 258.3,1259.1 245.1,1264.4" fill="#c2ff00"/>
<polygon points="231.7,1270.0 245.1,1264.4 232.9,1256.4 219.5,1261.9" fill="#d0ff00"/>
<polygon points="424.5,1306.7 436.7,1301.9 423.5,1292.1 411.2,1296.7" fill="#21ff00"/>
<polygon points="206.0,1267.6 219.5,1261.9 207.4,1254.1 193.9,1259.7" fill="#ddff00"/>
<polygon points="540.2,1341.6 551.7,1337.1 537.9,1326.1 526.4,1330.4" fill="#00ff86"/>
<polygon points="180.2,1265.6 193.9,1259.7 182.0,1252.1 168.3,1257.8" fill="#e8ff00"/>
<polygon points="154.4,1263.9 168.3,1257.8 156.5,1250.4 142.6,1256.3" fill="#f1ff00"/>
<polygon points="398.8,1301.6 411.2,1296.7 398.1,1287.1 385.7,1291.8" fill="#3cff00"/>
<polygon points="128.6,1262.6 142.6,1256.3 131.0,1249.1 117.0,1255.2" fill="#f8ff00"/>
<polygon points="102.9,1261.6 117.0,1255.2 105.6,1248.2 91.4,1254.4" fill="#fdff00"/>
<polygon points="77.1,1261.0 91.4,1254.4 80.1,1247.6 65.8,1254.0" fill="#fffe00"/>
<polygon points="514.7,1334.9 526.4,1330.4 512.7,1319.5 501.0,1323.9" fill="#00ff62"/>
<polygon points="373.1,1296.9 385.7,1291.8 372.7,1282.4 360.1,1287.3" fill="#55ff00"/>
<polygon points="347.4,1292.5 360.1,1287.3 347.3,1278.1 334.5,1283.2" fill="#6dff00"/>
<polygon points="489.2,1328.6 501.0,1323.9 487.4,1313.3 475.6,1317.8" fill="#00ff40"/>
<polygon points="321.6,1288.5 334.5,1283.2 321.8,1274.2 308.8,1279.4" fill="#82ff00"/>
<polygon points="579.6,1360.3 590.9,1355.8 576.9,1344.2 565.6,1348.5" fill="#00ffd5"/>
<polygon points="463.5,1322.7 475.6,1317.8 462.1,1307.4 450.0,1312.1" fill="#00ff20"/>
<polygon points="295.8,1284.8 308.8,1279.4 296.2,1270.6 283.2,1275.9" fill="#96ff00"/>
<polygon points="269.9,1281.5 283.2,1275.9 270.7,1267.3 257.4,1272.8" fill="#a8ff00"/>
<polygon points="437.8,1317.0 450.0,1312.1 436.7,1301.9 424.5,1306.7" fill="#00ff01"/>
<polygon points="244.1,1278.6 257.4,1272.8 245.1,1264.4 231.7,1270.0" fill="#b7ff00"/>
<polygon points="554.1,1353.1 565.6,1348.5 551.7,1337.1 540.2,1341.6" fill="#00ffad"/>
<polygon points="218.2,1275.9 231.7,1270.0 219.5,1261.9 206.0,1267.6" fill="#c5ff00"/>
<polygon points="192.2,1273.7 206.0,1267.6 193.9,1259.7 180.2,1265.6" fill="#d1ff00"/>
<polygon points="412.1,1311.8 424.5,1306.7 411.2,1296.7 398.8,1301.6" fill="#1bff00"/>
<polygon points="166.3,1271.8 180.2,1265.6 168.3,1257.8 154.4,1263.9" fill="#dbff00"/>
<polygon points="140.4,1270.3 154.4,1263.9 142.6,1256.3 128.6,1262.6" fill="#e3ff00"/>
<polygon points="528.5,1346.3 540.2,1341.6 526.4,1330.4 514.7,1334.9" fill="#00ff88"/>
<polygon points="114.5,1269.1 128.6,1262.6 117.0,1255.2 102.9,1261.6" fill="#e9ff00"/>
<polygon points="88.6,1268.3 102.9,1261.6 91.4,1254.4 77.1,1261.0" fill="#edff00"/>
<polygon points="62.7,1267.8 77.1,1261.0 65.8,1254.0 51.4,1260.7" fill="#f0ff00"/>
<polygon points="386.3,1306.8 398.8,1301.6 385.7,1291.8 373.1,1296.9" fill="#36ff00"/>
<polygon points="360.4,1302.3 373.1,1296.9 360.1,1287.3 347.4,1292.5" fill="#4eff00"/>
<polygon points="502.9,1339.8 514.7,1334.9 501.0,1323.9 489.2,1328.6" fill="#00ff65"/>
<polygon points="334.5,1298.0 347.4,1292.5 334.5,1283.2 321.6,1288.5" fill="#65ff00"/>
<polygon points="477.1,1333.6 489.2,1328.6 475.6,1317.8 463.5,1322.7" fill="#00ff44"/>
<polygon points="308.5,1294.2 321.6,1288.5 308.8,1279.4 295.8,1284.8" fill="#79ff00"/>
<polygon points="282.5,1290.6 295.8,1284.8 283.2,1275.9 269.9,1281.5" fill="#8cff00"/>
<polygon points="451.3,1327.8 463.5,1322.7 450.0,1312.1 437.8,1317.0" fill="#00ff25"/>
<polygon points="568.2,1365.1 579.6,1360.3 565.6,1348.5 554.1,1353.1" fill="#00ffd6"/>
<polygon points="256.5,1287.5 269.9,1281.5 257.4,1272.8 244.1,1278.6" fill="#9dff00"/>
<polygon points="230.5,1284.6 244.1,1278.6 231.7,1270.0 218.2,1275.9" fill="#acff00"/>
<polygon points="425.5,1322.3 437.8,1317.0 424.5,1306.7 412.1,1311.8" fill="#00ff07"/>
<polygon points="204.4,1282.2 218.2,1275.9 206.0,1267.6 192.2,1273.7" fill="#b9ff00"/>
<polygon points="542.5,1358.1 554.1,1353.1 540.2,1341.6 528.5,1346.3" fill="#00ffb0"/>
<polygon points="178.4,1280.1 192.2,1273.7 180.2,1265.6 166.3,1271.8" fill="#c4ff00"/>
<polygon points="399.5,1317.2 412.1,1311.8 398.8,1301.6 386.3,1306.8" fill="#14ff00"/>
<polygon points="152.3,1278.3 166.3,1271.8 154.4,1263.9 140.4,1270.3" fill="#cdff00"/>
<polygon points="126.2,1277.0 140.4,1270.3 128.6,1262.6 114.5,1269.1" fill="#d4ff00"/>
<polygon points="100.2,1275.9 114.5,1269.1 102.9,1261.6 88.6,1268.3" fill="#d9ff00"/>
<polygon points="74.1,1275.3 88.6,1268.3 77.1,1261.0 62.7,1267.8" fill="#ddff00"/>
<polygon points="516.7,1351.3 528.5,1346.3 514.7,1334.9 502.9,1339.8" fill="#00ff8c"/>
<polygon points="373.5,1312.4 386.3,1306.8 373.1,1296.9 360.4,1302.3" fill="#2eff00"/>
<polygon points="347.5,1307.9 360.4,1302.3 347.4,1292.5 334.5,1298.0" fill="#46ff00"/>
<polygon points="490.9,1345.0 502.9,1339.8 489.2,1328.6 477.1,1333.6" fill="#00ff6a"/>
<polygon points="321.4,1303.8 334.5,1298.0 321.6,1288.5 308.5,1294.2" fill="#5bff00"/>
<polygon points="465.0,1338.9 477.1,1333.6 463.5,1322.7 451.3,1327.8" fill="#00ff49"/>
<polygon points="295.3,1300.1 308.5,1294.2 295.8,1284.8 282.5,1290.6" fill="#6fff00"/>
<polygon points="269.2,1296.7 282.5,1290.6 269.9,1281.5 256.5,1287.5" fill="#81ff00"/>
<polygon points="439.0,1333.2 451.3,1327.8 437.8,1317.0 425.5,1322.3" fill="#00ff2b"/>
<polygon points="556.6,1370.2 568.2,1365.1 554.1,1353.1 542.5,1358.1" fill="#00ffda"/>
<polygon points="243.0,1293.7 256.5,1287.5 244.1,1278.6 230.5,1284.6" fill="#91ff00"/>
<polygon points="216.8,1291.0 230.5,1284.6 218.2,1275.9 204.4,1282.2" fill="#9fff00"/>
<polygon points="412.9,1327.9 425.5,1322.3 412.1,1311.8 399.5,1317.2" fill="#00ff0e"/>
<polygon points="190.6,1288.7 204.4,1282.2 192.2,1273.7 178.4,1280.1" fill="#abff00"/>
<polygon points="164.4,1286.8 178.4,1280.1 166.3,1271.8 152.3,1278.3" fill="#b5ff00"/>
<polygon points="530.7,1363.3 542.5,1358.1 528.5,1346.3 516.7,1351.3" fill="#00ffb4"/>
<polygon points="138.1,1285.2 152.3,1278.3 140.4,1270.3 126.2,1277.0" fill="#bdff00"/>
<polygon points="111.9,1284.0 126.2,1277.0 114.5,1269.1 100.2,1275.9" fill="#c4ff00"/>
<polygon points="386.8,1322.9 399.5,1317.2 386.3,1306.8 373.5,1312.4" fill="#0cff00"/>
<polygon points="85.7,1283.1 100.2,1275.9 88.6,1268.3 74.1,1275.3" fill="#c8ff00"/>
<polygon points="504.8,1356.7 516.7,1351.3 502.9,1339.8 490.9,1345.0" fill="#00ff91"/>
<polygon points="360.7,1318.2 373.5,1312.4 360.4,1302.3 347.5,1307.9" fill="#25ff00"/>
<polygon points="334.5,1313.9 347.5,1307.9 334.5,1298.0 321.4,1303.8" fill="#3cff00"/>
<polygon points="478.7,1350.4 490.9,1345.0 477.1,1333.6 465.0,1338.9" fill="#00ff70"/>
<polygon points="308.2,1310.0 321.4,1303.8 308.5,1294.2 295.3,1300.1" fill="#51ff00"/>
<polygon points="281.9,1306.4 295.3,1300.1 282.5,1290.6 269.2,1296.7" fill="#64ff00"/>
<polygon points="452.6,1344.5 465.0,1338.9 451.3,1327.8 439.0,1333.2" fill="#00ff50"/>
<polygon points="255.6,1303.1 269.2,1296.7 256.5,1287.5 243.0,1293.7" fill="#74ff00"/>
<polygon points="426.5,1339.0 439.0,1333.2 425.5,1322.3 412.9,1327.9" fill="#00ff32"/>
<polygon points="229.3,1300.3 243.0,1293.7 230.5,1284.6 216.8,1291.0" fill="#84ff00"/>
<polygon points="544.8,1375.6 556.6,1370.2 542.5,1358.1 530.7,1363.3" fill="#00ffde"/>
<polygon points="202.9,1297.8 216.8,1291.0 204.4,1282.2 190.6,1288.7" fill="#91ff00"/>
<polygon points="176.6,1295.6 190.6,1288.7 178.4,1280.1 164.4,1286.8" fill="#9cff00"/>
<polygon points="400.3,1333.7 412.9,1327.9 399.5,1317.2 386.8,1322.9" fill="#00ff17"/>
<polygon points="150.2,1293.8 164.4,1286.8 152.3,1278.3 138.1,1285.2" fill="#a5ff00"/>
<polygon points="123.8,1292.4 138.1,1285.2 126.2,1277.0 111.9,1284.0" fill="#adff00"/>
<polygon points="97.4,1291.3 111.9,1284.0 100.2,1275.9 85.7,1283.1" fill="#b2ff00"/>
<polygon points="518.8,1368.8 530.7,1363.3 516.7,1351.3 504.8,1356.7" fill="#00ffba"/>
<polygon points="374.0,1328.9 386.8,1322.9 373.5,1312.4 360.7,1318.2" fill="#03ff00"/>
<polygon points="347.6,1324.4 360.7,1318.2 347.5,1307.9 334.5,1313.9" fill="#1bff00"/>
<polygon points="492.7,1362.3 504.8,1356.7 490.9,1345.0 478.7,1350.4" fill="#00ff97"/>
<polygon points="321.3,1320.2 334.5,1313.9 321.4,1303.8 308.2,1310.0" fill="#31ff00"/>
<polygon points="466.4,1356.2 478.7,1350.4 465.0,1338.9 452.6,1344.5" fill="#00ff77"/>
<polygon points="294.8,1316.4 308.2,1310.0 295.3,1300.1 281.9,1306.4" fill="#45ff00"/>
<polygon points="268.4,1313.0 281.9,1306.4 269.2,1296.7 255.6,1303.1" fill="#57ff00"/>
<polygon points="440.2,1350.4 452.6,1344.5 439.0,1333.2 426.5,1339.0" fill="#00ff58"/>
<polygon points="241.9,1309.9 255.6,1303.1 243.0,1293.7 229.3,1300.3" fill="#67ff00"/>
<polygon points="215.4,1307.2 229.3,1300.3 216.8,1291.0 202.9,1297.8" fill="#75ff00"/>
<polygon points="413.8,1345.0 426.5,1339.0 412.9,1327.9 400.3,1333.7" fill="#00ff3b"/>
<polygon points="188.9,1304.8 202.9,1297.8 190.6,1288.7 176.6,1295.6" fill="#81ff00"/>
<polygon points="532.9,1381.3 544.8,1375.6 530.7,1363.3 518.8,1368.8" fill="#00ffe4"/>
<polygon points="162.4,1302.8 176.6,1295.6 164.4,1286.8 150.2,1293.8" fill="#8cff00"/>
<polygon points="135.8,1301.2 150.2,1293.8 138.1,1285.2 123.8,1292.4" fill="#94ff00"/>
<polygon points="387.4,1339.9 400.3,1333.7 386.8,1322.9 374.0,1328.9" fill="#00ff21"/>
<polygon points="109.3,1299.9 123.8,1292.4 111.9,1284.0 97.4,1291.3" fill="#9aff00"/>
<polygon points="506.7,1374.7 518.8,1368.8 504.8,1356.7 492.7,1362.3" fill="#00ffc1"/>
<polygon points="360.9,1335.2 374.0,1328.9 360.7,1318.2 347.6,1324.4" fill="#00ff08"/>
<polygon points="334.4,1330.8 347.6,1324.4 334.5,1313.9 321.3,1320.2" fill="#0fff00"/>
<polygon points="480.4,1368.3 492.7,1362.3 478.7,1350.4 466.4,1356.2" fill="#00ff9f"/>
<polygon points="307.9,1326.8 321.3,1320.2 308.2,1310.0 294.8,1316.4" fill="#24ff00"/>
<polygon points="454.0,1362.3 466.4,1356.2 452.6,1344.5 440.2,1350.4" fill="#00ff7f"/>
<polygon points="281.3,1323.2 294.8,1316.4 281.9,1306.4 268.4,1313.0" fill="#37ff00"/>
<polygon points="254.7,1319.9 268.4,1313.0 255.6,1303.1 241.9,1309.9" fill="#48ff00"/>
<polygon points="427.5,1356.7 440.2,1350.4 426.5,1339.0 413.8,1345.0" fill="#00ff61"/>
<polygon points="228.0,1317.0 241.9,1309.9 229.3,1300.3 215.4,1307.2" fill="#58ff00"/>
<polygon points="201.4,1314.4 215.4,1307.2 202.9,1297.8 188.9,1304.8" fill="#65ff00"/>
<polygon points="174.7,1312.2 188.9,1304.8 176.6,1295.6 162.4,1302.8" fill="#70ff00"/>
<polygon points="401.0,1351.4 413.8,1345.0 400.3,1333.7 387.4,1339.9" fill="#00ff46"/>
<polygon points="148.0,1310.3 162.4,1302.8 150.2,1293.8 135.8,1301.2" fill="#7aff00"/>
<polygon points="520.9,1387.4 532.9,1381.3 518.8,1368.8 506.7,1374.7" fill="#00ffeb"/>
<polygon points="121.3,1308.9 135.8,1301.2 123.8,1292.4 109.3,1299.9" fill="#81ff00"/>
<polygon points="374.4,1346.5 387.4,1339.9 374.0,1328.9 360.9,1335.2" fill="#00ff2c"/>
<polygon points="494.4,1380.8 506.7,1374.7 492.7,1362.3 480.4,1368.3" fill="#00ffc9"/>
<polygon points="347.8,1341.9 360.9,1335.2 347.6,1324.4 334.4,1330.8" fill="#00ff14"/>
<polygon points="321.1,1337.6 334.4,1330.8 321.3,1320.2 307.9,1326.8" fill="#02ff00"/>
<polygon points="467.9,1374.6 480.4,1368.3 466.4,1356.2 454.0,1362.3" fill="#00ffa8"/>
<polygon points="294.4,1333.8 307.9,1326.8 294.8,1316.4 281.3,1323.2" fill="#17ff00"/>
<polygon points="267.6,1330.3 281.3,1323.2 268.4,1313.0 254.7,1319.9" fill="#29ff00"/>
<polygon points="441.3,1368.7 454.0,1362.3 440.2,1350.4 427.5,1356.7" fill="#00ff89"/>
<polygon points="240.8,1327.1 254.7,1319.9 241.9,1309.9 228.0,1317.0" fill="#39ff00"/>
<polygon points="214.0,1324.4 228.0,1317.0 215.4,1307.2 201.4,1314.4" fill="#47ff00"/>
<polygon points="414.7,1363.2 427.5,1356.7 413.8,1345.0 401.0,1351.4" fill="#00ff6c"/>
<polygon points="187.2,1321.9 201.4,1314.4 188.9,1304.8 174.7,1312.2" fill="#54ff00"/>
<polygon points="160.4,1319.9 174.7,1312.2 162.4,1302.8 148.0,1310.3" fill="#5eff00"/>
<polygon points="388.0,1358.1 401.0,1351.4 387.4,1339.9 374.4,1346.5" fill="#00ff51"/>
<polygon points="133.5,1318.2 148.0,1310.3 135.8,1301.2 121.3,1308.9" fill="#67ff00"/>
<polygon points="508.6,1393.7 520.9,1387.4 506.7,1374.7 494.4,1380.8" fill="#00fff4"/>
<polygon points="361.2,1353.3 374.4,1346.5 360.9,1335.2 347.8,1341.9" fill="#00ff38"/>
<polygon points="334.4,1348.9 347.8,1341.9 334.4,1330.8 321.1,1337.6" fill="#00ff21"/>
<polygon points="482.0,1387.3 494.4,1380.8 480.4,1368.3 467.9,1374.6" fill="#00ffd2"/>
<polygon points="307.6,1344.8 321.1,1337.6 307.9,1326.8 294.4,1333.8" fill="#00ff0c"/>
<polygon points="455.3,1381.2 467.9,1374.6 454.0,1362.3 441.3,1368.7" fill="#00ffb2"/>
<polygon points="280.7,1341.1 294.4,1333.8 281.3,1323.2 267.6,1330.3" fill="#08ff00"/>
<polygon points="253.7,1337.7 267.6,1330.3 254.7,1319.9 240.8,1327.1" fill="#19ff00"/>
<polygon points="428.5,1375.5 441.3,1368.7 427.5,1356.7 414.7,1363.2" fill="#00ff94"/>
<polygon points="226.8,1334.7 240.8,1327.1 228.0,1317.0 214.0,1324.4" fill="#28ff00"/>
<polygon points="199.8,1332.1 214.0,1324.4 201.4,1314.4 187.2,1321.9" fill="#36ff00"/>
<polygon points="401.7,1370.1 414.7,1363.2 401.0,1351.4 388.0,1358.1" fill="#00ff78"/>
<polygon points="172.8,1329.8 187.2,1321.9 174.7,1312.2 160.4,1319.9" fill="#41ff00"/>
<polygon points="145.8,1328.0 160.4,1319.9 148.0,1310.3 133.5,1318.2" fill="#4bff00"/>
<polygon points="374.8,1365.1 388.0,1358.1 374.4,1346.5 361.2,1353.3" fill="#00ff5e"/>
<polygon points="496.2,1400.4 508.6,1393.7 494.4,1380.8 482.0,1387.3" fill="#00fffd"/>
<polygon points="347.9,1360.5 361.2,1353.3 347.8,1341.9 334.4,1348.9" fill="#00ff46"/>
<polygon points="320.9,1356.2 334.4,1348.9 321.1,1337.6 307.6,1344.8" fill="#00ff2f"/>
<polygon points="469.4,1394.1 482.0,1387.3 467.9,1374.6 455.3,1381.2" fill="#00ffdc"/>
<polygon points="293.9,1352.2 307.6,1344.8 294.4,1333.8 280.7,1341.1" fill="#00ff1b"/>
<polygon points="266.8,1348.7 280.7,1341.1 267.6,1330.3 253.7,1337.7" fill="#00ff09"/>
<polygon points="442.5,1388.2 455.3,1381.2 441.3,1368.7 428.5,1375.5" fill="#00ffbd"/>
<polygon points="239.7,1345.5 253.7,1337.7 240.8,1327.1 226.8,1334.7" fill="#08ff00"/>
<polygon points="415.6,1382.6 428.5,1375.5 414.7,1363.2 401.7,1370.1" fill="#00ffa0"/>
<polygon points="212.6,1342.6 226.8,1334.7 214.0,1324.4 199.8,1332.1" fill="#16ff00"/>
<polygon points="185.5,1340.2 199.8,1332.1 187.2,1321.9 172.8,1329.8" fill="#23ff00"/>
<polygon points="158.3,1338.1 172.8,1329.8 160.4,1319.9 145.8,1328.0" fill="#2eff00"/>
<polygon points="388.6,1377.4 401.7,1370.1 388.0,1358.1 374.8,1365.1" fill="#00ff85"/>
<polygon points="361.5,1372.5 374.8,1365.1 361.2,1353.3 347.9,1360.5" fill="#00ff6c"/>
<polygon points="483.7,1407.4 496.2,1400.4 482.0,1387.3 469.4,1394.1" fill="#00f6fe"/>
<polygon points="334.4,1368.0 347.9,1360.5 334.4,1348.9 320.9,1356.2" fill="#00ff55"/>
<polygon points="307.2,1363.8 320.9,1356.2 307.6,1344.8 293.9,1352.2" fill="#00ff3f"/>
<polygon points="456.7,1401.2 469.4,1394.1 455.3,1381.2 442.5,1388.2" fill="#00ffe8"/>
<polygon points="280.0,1360.1 293.9,1352.2 280.7,1341.1 266.8,1348.7" fill="#00ff2c"/>
<polygon points="252.8,1356.6 266.8,1348.7 253.7,1337.7 239.7,1345.5" fill="#00ff1a"/>
<polygon points="429.6,1395.4 442.5,1388.2 428.5,1375.5 415.6,1382.6" fill="#00ffca"/>
<polygon points="225.5,1353.6 239.7,1345.5 226.8,1334.7 212.6,1342.6" fill="#00ff0b"/>
<polygon points="198.2,1350.9 212.6,1342.6 199.8,1332.1 185.5,1340.2" fill="#03ff00"/>
<polygon points="402.5,1390.0 415.6,1382.6 401.7,1370.1 388.6,1377.4" fill="#00ffae"/>
<polygon points="170.9,1348.6 185.5,1340.2 172.8,1329.8 158.3,1338.1" fill="#0fff00"/>
<polygon points="375.3,1384.9 388.6,1377.4 374.8,1365.1 361.5,1372.5" fill="#00ff94"/>
<polygon points="348.0,1380.2 361.5,1372.5 347.9,1360.5 334.4,1368.0" fill="#00ff7b"/>
<polygon points="320.7,1375.8 334.4,1368.0 320.9,1356.2 307.2,1363.8" fill="#00ff65"/>
<polygon points="470.9,1414.7 483.7,1407.4 469.4,1394.1 456.7,1401.2" fill="#00e9fc"/>
<polygon points="293.4,1371.8 307.2,1363.8 293.9,1352.2 280.0,1360.1" fill="#00ff50"/>
<polygon points="443.7,1408.7 456.7,1401.2 442.5,1388.2 429.6,1395.4" fill="#00fff5"/>
<polygon points="266.0,1368.2 280.0,1360.1 266.8,1348.7 252.8,1356.6" fill="#00ff3e"/>
<polygon points="238.6,1365.0 252.8,1356.6 239.7,1345.5 225.5,1353.6" fill="#00ff2d"/>
<polygon points="416.5,1403.1 429.6,1395.4 415.6,1382.6 402.5,1390.0" fill="#00ffd8"/>
<polygon points="211.2,1362.1 225.5,1353.6 212.6,1342.6 198.2,1350.9" fill="#00ff1e"/>
<polygon points="183.7,1359.5 198.2,1350.9 185.5,1340.2 170.9,1348.6" fill="#00ff12"/>
<polygon points="389.2,1397.8 402.5,1390.0 388.6,1377.4 375.3,1384.9" fill="#00ffbd"/>
<polygon points="361.8,1392.8 375.3,1384.9 361.5,1372.5 348.0,1380.2" fill="#00ffa4"/>
<polygon points="334.4,1388.2 348.0,1380.2 334.4,1368.0 320.7,1375.8" fill="#00ff8c"/>
<polygon points="306.9,1384.0 320.7,1375.8 307.2,1363.8 293.4,1371.8" fill="#00ff76"/>
<polygon points="458.0,1422.4 470.9,1414.7 456.7,1401.2 443.7,1408.7" fill="#00dcf9"/>
<polygon points="279.4,1380.2 293.4,1371.8 280.0,1360.1 266.0,1368.2" fill="#00ff63"/>
<polygon points="251.8,1376.7 266.0,1368.2 252.8,1356.6 238.6,1365.0" fill="#00ff51"/>
<polygon points="430.7,1416.5 443.7,1408.7 429.6,1395.4 416.5,1403.1" fill="#00fafe"/>
<polygon points="224.2,1373.6 238.6,1365.0 225.5,1353.6 211.2,1362.1" fill="#00ff41"/>
<polygon points="196.6,1370.9 211.2,1362.1 198.2,1350.9 183.7,1359.5" fill="#00ff34"/>
<polygon points="403.2,1411.0 416.5,1403.1 402.5,1390.0 389.2,1397.8" fill="#00ffe8"/>
<polygon points="375.7,1405.9 389.2,1397.8 375.3,1384.9 361.8,1392.8" fill="#00ffcd"/>
<polygon points="348.2,1401.1 361.8,1392.8 348.0,1380.2 334.4,1388.2" fill="#00ffb5"/>
<polygon points="320.5,1396.6 334.4,1388.2 320.7,1375.8 306.9,1384.0" fill="#00ff9e"/>
<polygon points="292.9,1392.6 306.9,1384.0 293.4,1371.8 279.4,1380.2" fill="#00ff89"/>
<polygon points="445.0,1430.4 458.0,1422.4 443.7,1408.7 430.7,1416.5" fill="#00cdf7"/>
<polygon points="265.2,1388.9 279.4,1380.2 266.0,1368.2 251.8,1376.7" fill="#00ff77"/>
<polygon points="237.5,1385.6 251.8,1376.7 238.6,1365.0 224.2,1373.6" fill="#00ff66"/>
<polygon points="417.4,1424.7 430.7,1416.5 416.5,1403.1 403.2,1411.0" fill="#00eafc"/>
<polygon points="209.7,1382.6 224.2,1373.6 211.2,1362.1 196.6,1370.9" fill="#00ff57"/>
<polygon points="389.8,1419.3 403.2,1411.0 389.2,1397.8 375.7,1405.9" fill="#00fff8"/>
<polygon points="362.1,1414.3 375.7,1405.9 361.8,1392.8 348.2,1401.1" fill="#00ffdf"/>
<polygon points="334.3,1409.7 348.2,1401.1 334.4,1388.2 320.5,1396.6" fill="#00ffc7"/>
<polygon points="306.6,1405.4 320.5,1396.6 306.9,1384.0 292.9,1392.6" fill="#00ffb1"/>
<polygon points="278.7,1401.5 292.9,1392.6 279.4,1380.2 265.2,1388.9" fill="#00ff9d"/>
<polygon points="431.7,1438.8 445.0,1430.4 430.7,1416.5 417.4,1424.7" fill="#00bdf5"/>
<polygon points="250.9,1398.0 265.2,1388.9 251.8,1376.7 237.5,1385.6" fill="#00ff8c"/>
<polygon points="223.0,1394.8 237.5,1385.6 224.2,1373.6 209.7,1382.6" fill="#00ff7c"/>
<polygon points="404.0,1433.2 417.4,1424.7 403.2,1411.0 389.8,1419.3" fill="#00d9f9"/>
<polygon points="376.2,1428.0 389.8,1419.3 375.7,1405.9 362.1,1414.3" fill="#00f4fd"/>
<polygon points="348.3,1423.1 362.1,1414.3 348.2,1401.1 334.3,1409.7" fill="#00fff1"/>
<polygon points="320.4,1418.7 334.3,1409.7 320.5,1396.6 306.6,1405.4" fill="#00ffdb"/>
<polygon points="292.4,1414.5 306.6,1405.4 292.9,1392.6 278.7,1401.5" fill="#00ffc6"/>
<polygon points="264.4,1410.8 278.7,1401.5 265.2,1388.9 250.9,1398.0" fill="#00ffb3"/>
<polygon points="236.3,1407.4 250.9,1398.0 237.5,1385.6 223.0,1394.8" fill="#00ffa2"/>
<polygon points="418.3,1447.6 431.7,1438.8 417.4,1424.7 404.0,1433.2" fill="#00abf2"/>
<polygon points="390.4,1442.1 404.0,1433.2 389.8,1419.3 376.2,1428.0" fill="#00c7f6"/>
<polygon points="362.4,1437.0 376.2,1428.0 362.1,1414.3 348.3,1423.1" fill="#00e1fa"/>
<polygon points="334.3,1432.3 348.3,1423.1 334.3,1409.7 320.4,1418.7" fill="#00f8fe"/>
<polygon points="306.2,1428.0 320.4,1418.7 306.6,1405.4 292.4,1414.5" fill="#00fff0"/>
<polygon points="278.1,1424.0 292.4,1414.5 278.7,1401.5 264.4,1410.8" fill="#00ffdc"/>
<polygon points="249.9,1420.4 264.4,1410.8 250.9,1398.0 236.3,1407.4" fill="#00ffca"/>
<polygon points="404.8,1456.7 418.3,1447.6 404.0,1433.2 390.4,1442.1" fill="#0098ef"/>
<polygon points="376.6,1451.4 390.4,1442.1 376.2,1428.0 362.4,1437.0" fill="#00b3f3"/>
<polygon points="348.4,1446.4 362.4,1437.0 348.3,1423.1 334.3,1432.3" fill="#00ccf7"/>
<polygon points="320.2,1441.9 334.3,1432.3 320.4,1418.7 306.2,1428.0" fill="#00e3fb"/>
<polygon points="291.9,1437.7 306.2,1428.0 292.4,1414.5 278.1,1424.0" fill="#00f8fe"/>
<polygon points="263.6,1433.9 278.1,1424.0 264.4,1410.8 249.9,1420.4" fill="#00fff3"/>
<polygon points="391.0,1466.1 404.8,1456.7 390.4,1442.1 376.6,1451.4" fill="#0084ec"/>
<polygon points="362.7,1461.0 376.6,1451.4 362.4,1437.0 348.4,1446.4" fill="#009ef0"/>
<polygon points="334.3,1456.2 348.4,1446.4 334.3,1432.3 320.2,1441.9" fill="#00b6f4"/>
<polygon points="305.9,1451.8 320.2,1441.9 306.2,1428.0 291.9,1437.7" fill="#00ccf7"/>
<polygon points="277.4,1447.8 291.9,1437.7 278.1,1424.0 263.6,1433.9" fill="#00e1fa"/>
<polygon points="377.1,1476.0 391.0,1466.1 376.6,1451.4 362.7,1461.0" fill="#006fe8"/>
<polygon points="348.6,1471.0 362.7,1461.0 348.4,1446.4 334.3,1456.2" fill="#0088ec"/>
<polygon points="320.0,1466.3 334.3,1456.2 320.2,1441.9 305.9,1451.8" fill="#009ff0"/>
<polygon points="291.4,1462.1 305.9,1451.8 291.9,1437.7 277.4,1447.8" fill="#00b4f3"/>
<polygon points="363.0,1486.2 377.1,1476.0 362.7,1461.0 348.6,1471.0" fill="#0058e5"/>
<polygon points="334.3,1481.3 348.6,1471.0 334.3,1456.2 320.0,1466.3" fill="#0070e9"/>
<polygon points="305.5,1476.9 320.0,1466.3 305.9,1451.8 291.4,1462.1" fill="#0087ec"/>
<polygon points="348.7,1496.8 363.0,1486.2 348.6,1471.0 334.3,1481.3" fill="#0040e1"/>
<polygon points="319.8,1492.1 334.3,1481.3 320.0,1466.3 305.5,1476.9" fill="#0058e5"/>
<polygon points="334.3,1507.8 348.7,1496.8 334.3,1481.3 319.8,1492.1" fill="#0027dd"/>
</g></g>
<g class="mesh">
<polyline points="334.3,1481.3 320.0,1466.3 305.9,1451.8 291.9,1437.7 278.1,1424.0 264.4,1410.8 250.9,1398.0 237.5,1385.6 224.2,1373.6 211.2,1362.1 198.2,1350.9 185.5,1340.2 172.8,1329.8 160.4,1319.9 148.0,1310.3 135.8,1301.2 123.8,1292.4 111.9,1284.0 100.2,1275.9 88.6,1268.3 77.1,1261.0"/>
<polyline points="334.3,1481.3 348.6,1471.0 362.7,1461.0 376.6,1451.4 390.4,1442.1 404.0,1433.2 417.4,1424.7 430.7,1416.5 443.7,1408.7 456.7,1401.2 469.4,1394.1 482.0,1387.3 494.4,1380.8 506.7,1374.7 518.8,1368.8 530.7,1363.3 542.5,1358.1 554.1,1353.1 565.6,1348.5 576.9,1344.2 588.1,1340.2"/>
<polyline points="348.6,1471.0 334.3,1456.2 320.2,1441.9 306.2,1428.0 292.4,1414.5 278.7,1401.5 265.2,1388.9 251.8,1376.7 238.6,1365.0 225.5,1353.6 212.6,1342.6 199.8,1332.1 187.2,1321.9 174.7,1312.2 162.4,1302.8 150.2,1293.8 138.1,1285.2 126.2,1277.0 114.5,1269.1 102.9,1261.6 91.4,1254.4"/>
<polyline points="320.0,1466.3 334.3,1456.2 348.4,1446.4 362.4,1437.0 376.2,1428.0 389.8,1419.3 403.2,1411.0 416.5,1403.1 429.6,1395.4 442.5,1388.2 455.3,1381.2 467.9,1374.6 480.4,1368.3 492.7,1362.3 504.8,1356.7 516.7,1351.3 528.5,1346.3 540.2,1341.6 551.7,1337.1 563.0,1333.0 574.2,1329.1"/>
<polyline points="362.7,1461.0 348.4,1446.4 334.3,1432.3 320.4,1418.7 306.6,1405.4 292.9,1392.6 279.4,1380.2 266.0,1368.2 252.8,1356.6 239.7,1345.5 226.8,1334.7 214.0,1324.4 201.4,1314.4 188.9,1304.8 176.6,1295.6 164.4,1286.8 152.3,1278.3 140.4,1270.3 128.6,1262.6 117.0,1255.2 105.6,1248.2"/>
<polyline points="305.9,1451.8 320.2,1441.9 334.3,1432.3 348.3,1423.1 362.1,1414.3 375.7,1405.9 389.2,1397.8 402.5,1390.0 415.6,1382.6 428.5,1375.5 441.3,1368.7 454.0,1362.3 466.4,1356.2 478.7,1350.4 490.9,1345.0 502.9,1339.8 514.7,1334.9 526.4,1330.4 537.9,1326.1 549.3,1322.1 560.5,1318.4"/>
<polyline points="376.6,1451.4 362.4,1437.0 348.3,1423.1 334.3,1409.7 320.5,1396.6 306.9,1384.0 293.4,1371.8 280.0,1360.1 266.8,1348.7 253.7,1337.7 240.8,1327.1 228.0,1317.0 215.4,1307.2 202.9,1297.8 190.6,1288.7 178.4,1280.1 166.3,1271.8 154.4,1263.9 142.6,1256.3 131.0,1249.1 119.5,1242.3"/>
<polyline points="291.9,1437.7 306.2,1428.0 320.4,1418.7 334.3,1409.7 348.2,1401.1 361.8,1392.8 375.3,1384.9 388.6,1377.4 401.7,1370.1 414.7,1363.2 427.5,1356.7 440.2,1350.4 452.6,1344.5 465.0,1338.9 477.1,1333.6 489.2,1328.6 501.0,1323.9 512.7,1319.5 524.2,1315.4 535.6,1311.6 546.9,1308.0"/>
<polyline points="390.4,1442.1 376.2,1428.0 362.1,1414.3 348.2,1401.1 334.4,1388.2 320.7,1375.8 307.2,1363.8 293.9,1352.2 280.7,1341.1 267.6,1330.3 254.7,1319.9 241.9,1309.9 229.3,1300.3 216.8,1291.0 204.4,1282.2 192.2,1273.7 180.2,1265.6 168.3,1257.8 156.5,1250.4 144.9,1243.4 133.4,1236.7"/>
<polyline points="278.1,1424.0 292.4,1414.5 306.6,1405.4 320.5,1396.6 334.4,1388.2 348.0,1380.2 361.5,1372.5 374.8,1365.1 388.0,1358.1 401.0,1351.4 413.8,1345.0 426.5,1339.0 439.0,1333.2 451.3,1327.8 463.5,1322.7 475.6,1317.8 487.4,1313.3 499.2,1309.1 510.7,1305.1 522.1,1301.4 533.4,1298.0"/>
<polyline points="404.0,1433.2 389.8,1419.3 375.7,1405.9 361.8,1392.8 348.0,1380.2 334.4,1368.0 320.9,1356.2 307.6,1344.8 294.4,1333.8 281.3,1323.2 268.4,1313.0 255.6,1303.1 243.0,1293.7 230.5,1284.6 218.2,1275.9 206.0,1267.6 193.9,1259.7 182.0,1252.1 170.2,1244.8 158.6,1237.9 147.1,1231.4"/>
<polyline points="264.4,1410.8 278.7,1401.5 292.9,1392.6 306.9,1384.0 320.7,1375.8 334.4,1368.0 347.9,1360.5 361.2,1353.3 374.4,1346.5 387.4,1339.9 400.3,1333.7 412.9,1327.9 425.5,1322.3 437.8,1317.0 450.0,1312.1 462.1,1307.4 474.0,1303.1 485.7,1299.0 497.3,1295.2 508.8,1291.7 520.0,1288.4"/>
<polyline points="417.4,1424.7 403.2,1411.0 389.2,1397.8 375.3,1384.9 361.5,1372.5 347.9,1360.5 334.4,1348.9 321.1,1337.6 307.9,1326.8 294.8,1316.4 281.9,1306.4 269.2,1296.7 256.5,1287.5 244.1,1278.6 231.7,1270.0 219.5,1261.9 207.4,1254.1 195.5,1246.6 183.7,1239.5 172.1,1232.8 160.6,1226.4"/>
<polyline points="250.9,1398.0 265.2,1388.9 279.4,1380.2 293.4,1371.8 307.2,1363.8 320.9,1356.2 334.4,1348.9 347.8,1341.9 360.9,1335.2 374.0,1328.9 386.8,1322.9 399.5,1317.2 412.1,1311.8 424.5,1306.7 436.7,1301.9 448.8,1297.4 460.7,1293.2 472.4,1289.3 484.0,1285.6 495.5,1282.3 506.8,1279.2"/>
<polyline points="430.7,1416.5 416.5,1403.1 402.5,1390.0 388.6,1377.4 374.8,1365.1 361.2,1353.3 347.8,1341.9 334.4,1330.8 321.3,1320.2 308.2,1310.0 295.3,1300.1 282.5,1290.6 269.9,1281.5 257.4,1272.8 245.1,1264.4 232.9,1256.4 220.8,1248.8 208.9,1241.5 197.1,1234.5 185.5,1227.9 174.0,1221.6"/>
<polyline points="237.5,1385.6 251.8,1376.7 266.0,1368.2 280.0,1360.1 293.9,1352.2 307.6,1344.8 321.1,1337.6 334.4,1330.8 347.6,1324.4 360.7,1318.2 373.5,1312.4 386.3,1306.8 398.8,1301.6 411.2,1296.7 423.5,1292.1 435.5,1287.7 447.5,1283.7 459.3,1279.9 470.9,1276.4 482.4,1273.2 493.7,1270.3"/>
<polyline points="443.7,1408.7 429.6,1395.4 415.6,1382.6 401.7,1370.1 388.0,1358.1 374.4,1346.5 360.9,1335.2 347.6,1324.4 334.5,1313.9 321.4,1303.8 308.5,1294.2 295.8,1284.8 283.2,1275.9 270.7,1267.3 258.3,1259.1 246.1,1251.3 234.1,1243.8 222.2,1236.6 210.4,1229.8 198.7,1223.3 187.2,1217.2"/>
<polyline points="224.2,1373.6 238.6,1365.0 252.8,1356.6 266.8,1348.7 280.7,1341.1 294.4,1333.8 307.9,1326.8 321.3,1320.2 334.5,1313.9 347.5,1307.9 360.4,1302.3 373.1,1296.9 385.7,1291.8 398.1,1287.1 410.4,1282.6 422.5,1278.4 434.4,1274.5 446.2,1270.9 457.9,1267.6 469.4,1264.5 480.7,1261.7"/>
<polyline points="456.7,1401.2 442.5,1388.2 428.5,1375.5 414.7,1363.2 401.0,1351.4 387.4,1339.9 374.0,1328.9 360.7,1318.2 347.5,1307.9 334.5,1298.0 321.6,1288.5 308.8,1279.4 296.2,1270.6 283.8,1262.2 271.4,1254.1 259.2,1246.4 247.2,1239.0 235.3,1232.0 223.5,1225.4 211.8,1219.0 200.3,1213.0"/>
<polyline points="211.2,1362.1 225.5,1353.6 239.7,1345.5 253.7,1337.7 267.6,1330.3 281.3,1323.2 294.8,1316.4 308.2,1310.0 321.4,1303.8 334.5,1298.0 347.4,1292.5 360.1,1287.3 372.7,1282.4 385.1,1277.8 397.4,1273.5 409.5,1269.5 421.5,1265.8 433.3,1262.3 445.0,1259.1 456.5,1256.2 467.9,1253.5"/>
<polyline points="469.4,1394.1 455.3,1381.2 441.3,1368.7 427.5,1356.7 413.8,1345.0 400.3,1333.7 386.8,1322.9 373.5,1312.4 360.4,1302.3 347.4,1292.5 334.5,1283.2 321.8,1274.2 309.2,1265.6 296.7,1257.3 284.4,1249.4 272.2,1241.8 260.1,1234.6 248.2,1227.8 236.4,1221.2 224.8,1215.0 213.2,1209.2"/>
<polyline points="198.2,1350.9 212.6,1342.6 226.8,1334.7 240.8,1327.1 254.7,1319.9 268.4,1313.0 281.9,1306.4 295.3,1300.1 308.5,1294.2 321.6,1288.5 334.5,1283.2 347.3,1278.1 359.8,1273.4 372.3,1269.0 384.6,1264.8 396.7,1260.9 408.7,1257.3 420.5,1254.0 432.2,1250.9 443.8,1248.2 455.1,1245.6"/>
<polyline points="482.0,1387.3 467.9,1374.6 454.0,1362.3 440.2,1350.4 426.5,1339.0 412.9,1327.9 399.5,1317.2 386.3,1306.8 373.1,1296.9 360.1,1287.3 347.3,1278.1 334.5,1269.3 321.9,1260.8 309.5,1252.7 297.1,1245.0 285.0,1237.6 272.9,1230.5 261.0,1223.8 249.2,1217.4 237.5,1211.3 226.0,1205.6"/>
<polyline points="185.5,1340.2 199.8,1332.1 214.0,1324.4 228.0,1317.0 241.9,1309.9 255.6,1303.1 269.2,1296.7 282.5,1290.6 295.8,1284.8 308.8,1279.4 321.8,1274.2 334.5,1269.3 347.1,1264.7 359.6,1260.4 371.9,1256.4 384.0,1252.7 396.0,1249.2 407.9,1246.1 419.6,1243.1 431.1,1240.5 442.5,1238.1"/>
<polyline points="494.4,1380.8 480.4,1368.3 466.4,1356.2 452.6,1344.5 439.0,1333.2 425.5,1322.3 412.1,1311.8 398.8,1301.6 385.7,1291.8 372.7,1282.4 359.8,1273.4 347.1,1264.7 334.5,1256.4 322.1,1248.4 309.8,1240.8 297.6,1233.6 285.5,1226.6 273.6,1220.0 261.8,1213.8 250.2,1207.8 238.7,1202.2"/>
<polyline points="172.8,1329.8 187.2,1321.9 201.4,1314.4 215.4,1307.2 229.3,1300.3 243.0,1293.7 256.5,1287.5 269.9,1281.5 283.2,1275.9 296.2,1270.6 309.2,1265.6 321.9,1260.8 334.5,1256.4 347.0,1252.3 359.3,1248.4 371.5,1244.8 383.5,1241.5 395.4,1238.5 407.1,1235.7 418.6,1233.1 430.1,1230.9"/>
<polyline points="506.7,1374.7 492.7,1362.3 478.7,1350.4 465.0,1338.9 451.3,1327.8 437.8,1317.0 424.5,1306.7 411.2,1296.7 398.1,1287.1 385.1,1277.8 372.3,1269.0 359.6,1260.4 347.0,1252.3 334.6,1244.4 322.3,1237.0 310.1,1229.8 298.0,1223.0 286.1,1216.6 274.3,1210.5 262.7,1204.6 251.2,1199.2"/>
<polyline points="160.4,1319.9 174.7,1312.2 188.9,1304.8 202.9,1297.8 216.8,1291.0 230.5,1284.6 244.1,1278.6 257.4,1272.8 270.7,1267.3 283.8,1262.2 296.7,1257.3 309.5,1252.7 322.1,1248.4 334.6,1244.4 346.9,1240.7 359.1,1237.3 371.1,1234.1 383.0,1231.2 394.7,1228.5 406.3,1226.1 417.7,1224.0"/>
<polyline points="518.8,1368.8 504.8,1356.7 490.9,1345.0 477.1,1333.6 463.5,1322.7 450.0,1312.1 436.7,1301.9 423.5,1292.1 410.4,1282.6 397.4,1273.5 384.6,1264.8 371.9,1256.4 359.3,1248.4 346.9,1240.7 334.6,1233.4 322.4,1226.4 310.4,1219.7 298.5,1213.4 286.7,1207.4 275.0,1201.7 263.5,1196.4"/>
<polyline points="148.0,1310.3 162.4,1302.8 176.6,1295.6 190.6,1288.7 204.4,1282.2 218.2,1275.9 231.7,1270.0 245.1,1264.4 258.3,1259.1 271.4,1254.1 284.4,1249.4 297.1,1245.0 309.8,1240.8 322.3,1237.0 334.6,1233.4 346.8,1230.1 358.8,1227.0 370.7,1224.3 382.4,1221.7 394.0,1219.5 405.5,1217.5"/>
<polyline points="530.7,1363.3 516.7,1351.3 502.9,1339.8 489.2,1328.6 475.6,1317.8 462.1,1307.4 448.8,1297.4 435.5,1287.7 422.5,1278.4 409.5,1269.5 396.7,1260.9 384.0,1252.7 371.5,1244.8 359.1,1237.3 346.8,1230.1 334.6,1223.2 322.6,1216.7 310.7,1210.5 298.9,1204.6 287.3,1199.1 275.7,1193.8"/>
<polyline points="135.8,1301.2 150.2,1293.8 164.4,1286.8 178.4,1280.1 192.2,1273.7 206.0,1267.6 219.5,1261.9 232.9,1256.4 246.1,1251.3 259.2,1246.4 272.2,1241.8 285.0,1237.6 297.6,1233.6 310.1,1229.8 322.4,1226.4 334.6,1223.2 346.6,1220.3 358.5,1217.7 370.3,1215.3 381.9,1213.1 393.4,1211.2"/>
<polyline points="542.5,1358.1 528.5,1346.3 514.7,1334.9 501.0,1323.9 487.4,1313.3 474.0,1303.1 460.7,1293.2 447.5,1283.7 434.4,1274.5 421.5,1265.8 408.7,1257.3 396.0,1249.2 383.5,1241.5 371.1,1234.1 358.8,1227.0 346.6,1220.3 334.6,1213.9 322.7,1207.8 311.0,1202.1 299.3,1196.6 287.8,1191.5"/>
<polyline points="123.8,1292.4 138.1,1285.2 152.3,1278.3 166.3,1271.8 180.2,1265.6 193.9,1259.7 207.4,1254.1 220.8,1248.8 234.1,1243.8 247.2,1239.0 260.1,1234.6 272.9,1230.5 285.5,1226.6 298.0,1223.0 310.4,1219.7 322.6,1216.7 334.6,1213.9 346.5,1211.4 358.3,1209.1 369.9,1207.1 381.4,1205.3"/>
<polyline points="554.1,1353.1 540.2,1341.6 526.4,1330.4 512.7,1319.5 499.2,1309.1 485.7,1299.0 472.4,1289.3 459.3,1279.9 446.2,1270.9 433.3,1262.3 420.5,1254.0 407.9,1246.1 395.4,1238.5 383.0,1231.2 370.7,1224.3 358.5,1217.7 346.5,1211.4 334.6,1205.4 322.9,1199.8 311.2,1194.5 299.7,1189.5"/>
<polyline points="111.9,1284.0 126.2,1277.0 140.4,1270.3 154.4,1263.9 168.3,1257.8 182.0,1252.1 195.5,1246.6 208.9,1241.5 222.2,1236.6 235.3,1232.0 248.2,1227.8 261.0,1223.8 273.6,1220.0 286.1,1216.6 298.5,1213.4 310.7,1210.5 322.7,1207.8 334.6,1205.4 346.4,1203.3 358.0,1201.4 369.5,1199.7"/>
<polyline points="565.6,1348.5 551.7,1337.1 537.9,1326.1 524.2,1315.4 510.7,1305.1 497.3,1295.2 484.0,1285.6 470.9,1276.4 457.9,1267.6 445.0,1259.1 432.2,1250.9 419.6,1243.1 407.1,1235.7 394.7,1228.5 382.4,1221.7 370.3,1215.3 358.3,1209.1 346.4,1203.3 334.7,1197.8 323.0,1192.6 311.5,1187.6"/>
<polyline points="100.2,1275.9 114.5,1269.1 128.6,1262.6 142.6,1256.3 156.5,1250.4 170.2,1244.8 183.7,1239.5 197.1,1234.5 210.4,1229.8 223.5,1225.4 236.4,1221.2 249.2,1217.4 261.8,1213.8 274.3,1210.5 286.7,1207.4 298.9,1204.6 311.0,1202.1 322.9,1199.8 334.7,1197.8 346.3,1196.0 357.8,1194.4"/>
<polyline points="576.9,1344.2 563.0,1333.0 549.3,1322.1 535.6,1311.6 522.1,1301.4 508.8,1291.7 495.5,1282.3 482.4,1273.2 469.4,1264.5 456.5,1256.2 443.8,1248.2 431.1,1240.5 418.6,1233.1 406.3,1226.1 394.0,1219.5 381.9,1213.1 369.9,1207.1 358.0,1201.4 346.3,1196.0 334.7,1190.9 323.2,1186.1"/>
<polyline points="88.6,1268.3 102.9,1261.6 117.0,1255.2 131.0,1249.1 144.9,1243.4 158.6,1237.9 172.1,1232.8 185.5,1227.9 198.7,1223.3 211.8,1219.0 224.8,1215.0 237.5,1211.3 250.2,1207.8 262.7,1204.6 275.0,1201.7 287.3,1199.1 299.3,1196.6 311.2,1194.5 323.0,1192.6 334.7,1190.9 346.2,1189.4"/>
<polyline points="588.1,1340.2 574.2,1329.1 560.5,1318.4 546.9,1308.0 533.4,1298.0 520.0,1288.4 506.8,1279.2 493.7,1270.3 480.7,1261.7 467.9,1253.5 455.1,1245.6 442.5,1238.1 430.1,1230.9 417.7,1224.0 405.5,1217.5 393.4,1211.2 381.4,1205.3 369.5,1199.7 357.8,1194.4 346.2,1189.4 334.7,1184.7"/>
<polyline points="77.1,1261.0 91.4,1254.4 105.6,1248.2 119.5,1242.3 133.4,1236.7 147.1,1231.4 160.6,1226.4 174.0,1221.6 187.2,1217.2 200.3,1213.0 213.2,1209.2 226.0,1205.6 238.7,1202.2 251.2,1199.2 263.5,1196.4 275.7,1193.8 287.8,1191.5 299.7,1189.5 311.5,1187.6 323.2,1186.1 334.7,1184.7"/>
</g>
<line x1="76.5" y1="1251.0" x2="77.1" y2="1261.0" stroke="#222" stroke-width="1"/>
<circle cx="76.5" cy="1251.0" r="5.1" fill="#c40000" stroke="#700000" stroke-width="0.9"/>
<line x1="334.6" y1="1174.8" x2="334.7" y2="1184.7" stroke="#222" stroke-width="1"/>
<circle cx="334.6" cy="1174.8" r="5.1" fill="#c40000" stroke="#700000" stroke-width="0.9"/>
<line x1="334.6" y1="1267.8" x2="334.5" y2="1283.2" stroke="#222" stroke-width="1"/>
<circle cx="334.6" cy="1267.8" r="5.1" fill="#c40000" stroke="#700000" stroke-width="0.9"/>
<line x1="334.6" y1="1280.5" x2="334.5" y2="1283.2" stroke="#222" stroke-width="1"/>
<circle cx="334.6" cy="1280.5" r="5.1" fill="#c40000" stroke="#700000" stroke-width="0.9"/>
<line x1="334.6" y1="1283.0" x2="334.5" y2="1283.2" stroke="#222" stroke-width="1"/>
<circle cx="334.6" cy="1283.0" r="5.1" fill="#c40000" stroke="#700000" stroke-width="0.9"/>
<text class="t" x="59.3" y="1408.6" textLength="16" lengthAdjust="spacingAndGlyphs">62</text>
<text class="t" x="57.3" y="1369.9" textLength="16" lengthAdjust="spacingAndGlyphs">64</text>
<text class="t" x="55.3" y="1330.7" textLength="16" lengthAdjust="spacingAndGlyphs">66</text>
<text class="t" x="53.3" y="1290.8" textLength="16" lengthAdjust="spacingAndGlyphs">68</text>
<text class="t" x="51.2" y="1250.2" textLength="16" lengthAdjust="spacingAndGlyphs">70</text>
<text class="t" x="49.1" y="1209.0" textLength="16" lengthAdjust="spacingAndGlyphs">72</text>
<text class="t" x="46.9" y="1167.1" textLength="16" lengthAdjust="spacingAndGlyphs">74</text>
<text class="t" x="62.5" y="1508.0" textLength="16" lengthAdjust="spacingAndGlyphs">50</text>
<text class="t" x="111.2" y="1530.6" textLength="16" lengthAdjust="spacingAndGlyphs">45</text>
<text class="t" x="159.9" y="1552.7" textLength="16" lengthAdjust="spacingAndGlyphs">40</text>
<text class="t" x="209.6" y="1572.7" textLength="16" lengthAdjust="spacingAndGlyphs">35</text>
<text class="t" x="259.1" y="1596.4" textLength="16" lengthAdjust="spacingAndGlyphs">30</text>
<text class="t" x="308.6" y="1617.5" textLength="16" lengthAdjust="spacingAndGlyphs">25</text>
<text class="t" x="345.3" y="1618.5" textLength="16" lengthAdjust="spacingAndGlyphs">20</text>
<text class="t" x="406.0" y="1592.1" textLength="16" lengthAdjust="spacingAndGlyphs">25</text>
<text class="t" x="468.0" y="1563.2" textLength="16" lengthAdjust="spacingAndGlyphs">30</text>
<text class="t" x="530.3" y="1536.6" textLength="16" lengthAdjust="spacingAndGlyphs">35</text>
<text class="t" x="590.1" y="1506.5" textLength="16" lengthAdjust="spacingAndGlyphs">40</text>
<text class="tt" x="7.9" y="1594.3" textLength="218.4" lengthAdjust="spacingAndGlyphs">C: Ethanol Concentration (%)</text>
<text class="tt" x="458.5" y="1593.7" textLength="184.1" lengthAdjust="spacingAndGlyphs">B: Sonication Time (min)</text>
<text class="ty" transform="translate(18.0,1335.2) rotate(-90)" x="0" y="0" text-anchor="middle" textLength="197.6" lengthAdjust="spacingAndGlyphs">Argel TPC (g GAE kg-1 DW)</text>
<text class="lab" x="1.2" y="1141.2">(c)</text>
</svg></body></html>
